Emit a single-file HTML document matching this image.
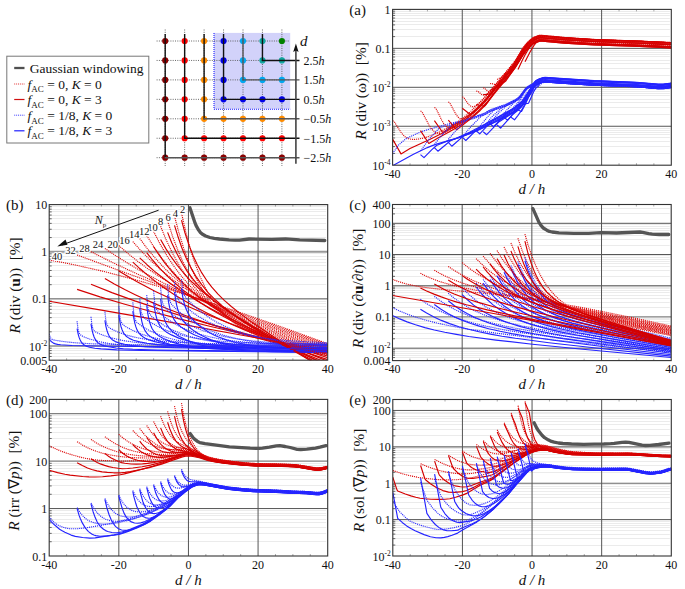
<!DOCTYPE html>
<html><head><meta charset="utf-8"><style>html,body{margin:0;padding:0;background:#fff;}svg{display:block;}text{fill:#111;}polyline{fill:none;stroke-linejoin:round;}.rd{stroke:#dd0808;stroke-width:1.15;stroke-dasharray:1.1 0.9;}.rs{stroke:#d40000;stroke-width:1.15;}.bd{stroke:#2a2aff;stroke-width:1.15;stroke-dasharray:1.1 0.9;}.bs{stroke:#2424ff;stroke-width:1.15;}.g{stroke:#555;stroke-width:3.3;stroke-linecap:round;}</style></head>
<body><svg width="685" height="589" viewBox="0 0 685 589" font-family='"Liberation Serif", serif'><line x1="392.6" y1="153.50" x2="669.8" y2="153.50" stroke="#ebebeb" stroke-width="1"/>
<line x1="392.6" y1="153.47" x2="395.1" y2="153.47" stroke="#444" stroke-width="0.8"/>
<line x1="392.6" y1="146.50" x2="669.8" y2="146.50" stroke="#ebebeb" stroke-width="1"/>
<line x1="392.6" y1="146.62" x2="395.1" y2="146.62" stroke="#444" stroke-width="0.8"/>
<line x1="392.6" y1="141.50" x2="669.8" y2="141.50" stroke="#ebebeb" stroke-width="1"/>
<line x1="392.6" y1="141.75" x2="395.1" y2="141.75" stroke="#444" stroke-width="0.8"/>
<line x1="392.6" y1="137.50" x2="669.8" y2="137.50" stroke="#ebebeb" stroke-width="1"/>
<line x1="392.6" y1="137.98" x2="395.1" y2="137.98" stroke="#444" stroke-width="0.8"/>
<line x1="392.6" y1="134.50" x2="669.8" y2="134.50" stroke="#ebebeb" stroke-width="1"/>
<line x1="392.6" y1="134.89" x2="395.1" y2="134.89" stroke="#444" stroke-width="0.8"/>
<line x1="392.6" y1="132.50" x2="669.8" y2="132.50" stroke="#ebebeb" stroke-width="1"/>
<line x1="392.6" y1="132.28" x2="395.1" y2="132.28" stroke="#444" stroke-width="0.8"/>
<line x1="392.6" y1="130.50" x2="669.8" y2="130.50" stroke="#ebebeb" stroke-width="1"/>
<line x1="392.6" y1="130.02" x2="395.1" y2="130.02" stroke="#444" stroke-width="0.8"/>
<line x1="392.6" y1="128.50" x2="669.8" y2="128.50" stroke="#ebebeb" stroke-width="1"/>
<line x1="392.6" y1="128.03" x2="395.1" y2="128.03" stroke="#444" stroke-width="0.8"/>
<line x1="392.6" y1="114.50" x2="669.8" y2="114.50" stroke="#ebebeb" stroke-width="1"/>
<line x1="392.6" y1="114.52" x2="395.1" y2="114.52" stroke="#444" stroke-width="0.8"/>
<line x1="392.6" y1="107.50" x2="669.8" y2="107.50" stroke="#ebebeb" stroke-width="1"/>
<line x1="392.6" y1="107.67" x2="395.1" y2="107.67" stroke="#444" stroke-width="0.8"/>
<line x1="392.6" y1="102.50" x2="669.8" y2="102.50" stroke="#ebebeb" stroke-width="1"/>
<line x1="392.6" y1="102.80" x2="395.1" y2="102.80" stroke="#444" stroke-width="0.8"/>
<line x1="392.6" y1="99.50" x2="669.8" y2="99.50" stroke="#ebebeb" stroke-width="1"/>
<line x1="392.6" y1="99.03" x2="395.1" y2="99.03" stroke="#444" stroke-width="0.8"/>
<line x1="392.6" y1="95.50" x2="669.8" y2="95.50" stroke="#ebebeb" stroke-width="1"/>
<line x1="392.6" y1="95.94" x2="395.1" y2="95.94" stroke="#444" stroke-width="0.8"/>
<line x1="392.6" y1="93.50" x2="669.8" y2="93.50" stroke="#ebebeb" stroke-width="1"/>
<line x1="392.6" y1="93.33" x2="395.1" y2="93.33" stroke="#444" stroke-width="0.8"/>
<line x1="392.6" y1="91.50" x2="669.8" y2="91.50" stroke="#ebebeb" stroke-width="1"/>
<line x1="392.6" y1="91.07" x2="395.1" y2="91.07" stroke="#444" stroke-width="0.8"/>
<line x1="392.6" y1="89.50" x2="669.8" y2="89.50" stroke="#ebebeb" stroke-width="1"/>
<line x1="392.6" y1="89.08" x2="395.1" y2="89.08" stroke="#444" stroke-width="0.8"/>
<line x1="392.6" y1="75.50" x2="669.8" y2="75.50" stroke="#ebebeb" stroke-width="1"/>
<line x1="392.6" y1="75.57" x2="395.1" y2="75.57" stroke="#444" stroke-width="0.8"/>
<line x1="392.6" y1="68.50" x2="669.8" y2="68.50" stroke="#ebebeb" stroke-width="1"/>
<line x1="392.6" y1="68.72" x2="395.1" y2="68.72" stroke="#444" stroke-width="0.8"/>
<line x1="392.6" y1="63.50" x2="669.8" y2="63.50" stroke="#ebebeb" stroke-width="1"/>
<line x1="392.6" y1="63.85" x2="395.1" y2="63.85" stroke="#444" stroke-width="0.8"/>
<line x1="392.6" y1="60.50" x2="669.8" y2="60.50" stroke="#ebebeb" stroke-width="1"/>
<line x1="392.6" y1="60.08" x2="395.1" y2="60.08" stroke="#444" stroke-width="0.8"/>
<line x1="392.6" y1="56.50" x2="669.8" y2="56.50" stroke="#ebebeb" stroke-width="1"/>
<line x1="392.6" y1="56.99" x2="395.1" y2="56.99" stroke="#444" stroke-width="0.8"/>
<line x1="392.6" y1="54.50" x2="669.8" y2="54.50" stroke="#ebebeb" stroke-width="1"/>
<line x1="392.6" y1="54.38" x2="395.1" y2="54.38" stroke="#444" stroke-width="0.8"/>
<line x1="392.6" y1="52.50" x2="669.8" y2="52.50" stroke="#ebebeb" stroke-width="1"/>
<line x1="392.6" y1="52.12" x2="395.1" y2="52.12" stroke="#444" stroke-width="0.8"/>
<line x1="392.6" y1="50.50" x2="669.8" y2="50.50" stroke="#ebebeb" stroke-width="1"/>
<line x1="392.6" y1="50.13" x2="395.1" y2="50.13" stroke="#444" stroke-width="0.8"/>
<line x1="392.6" y1="36.50" x2="669.8" y2="36.50" stroke="#ebebeb" stroke-width="1"/>
<line x1="392.6" y1="36.62" x2="395.1" y2="36.62" stroke="#444" stroke-width="0.8"/>
<line x1="392.6" y1="29.50" x2="669.8" y2="29.50" stroke="#ebebeb" stroke-width="1"/>
<line x1="392.6" y1="29.77" x2="395.1" y2="29.77" stroke="#444" stroke-width="0.8"/>
<line x1="392.6" y1="24.50" x2="669.8" y2="24.50" stroke="#ebebeb" stroke-width="1"/>
<line x1="392.6" y1="24.90" x2="395.1" y2="24.90" stroke="#444" stroke-width="0.8"/>
<line x1="392.6" y1="21.50" x2="669.8" y2="21.50" stroke="#ebebeb" stroke-width="1"/>
<line x1="392.6" y1="21.13" x2="395.1" y2="21.13" stroke="#444" stroke-width="0.8"/>
<line x1="392.6" y1="18.50" x2="669.8" y2="18.50" stroke="#ebebeb" stroke-width="1"/>
<line x1="392.6" y1="18.04" x2="395.1" y2="18.04" stroke="#444" stroke-width="0.8"/>
<line x1="392.6" y1="15.50" x2="669.8" y2="15.50" stroke="#ebebeb" stroke-width="1"/>
<line x1="392.6" y1="15.43" x2="395.1" y2="15.43" stroke="#444" stroke-width="0.8"/>
<line x1="392.6" y1="13.50" x2="669.8" y2="13.50" stroke="#ebebeb" stroke-width="1"/>
<line x1="392.6" y1="13.17" x2="395.1" y2="13.17" stroke="#444" stroke-width="0.8"/>
<line x1="392.6" y1="11.50" x2="669.8" y2="11.50" stroke="#ebebeb" stroke-width="1"/>
<line x1="392.6" y1="11.18" x2="395.1" y2="11.18" stroke="#444" stroke-width="0.8"/>
<line x1="392.6" y1="126.25" x2="671.3" y2="126.25" stroke="#555" stroke-width="1"/>
<line x1="392.6" y1="87.30" x2="671.3" y2="87.30" stroke="#555" stroke-width="1"/>
<line x1="392.6" y1="48.35" x2="671.3" y2="48.35" stroke="#555" stroke-width="1"/>
<line x1="462.27" y1="9.4" x2="462.27" y2="165.2" stroke="#555" stroke-width="1"/>
<line x1="531.95" y1="9.4" x2="531.95" y2="165.2" stroke="#555" stroke-width="1"/>
<line x1="601.62" y1="9.4" x2="601.62" y2="165.2" stroke="#555" stroke-width="1"/>
<line x1="410.02" y1="165.2" x2="410.02" y2="163.2" stroke="#888" stroke-width="0.7"/>
<line x1="410.02" y1="9.4" x2="410.02" y2="11.4" stroke="#888" stroke-width="0.7"/>
<line x1="427.44" y1="165.2" x2="427.44" y2="163.2" stroke="#888" stroke-width="0.7"/>
<line x1="427.44" y1="9.4" x2="427.44" y2="11.4" stroke="#888" stroke-width="0.7"/>
<line x1="444.86" y1="165.2" x2="444.86" y2="163.2" stroke="#888" stroke-width="0.7"/>
<line x1="444.86" y1="9.4" x2="444.86" y2="11.4" stroke="#888" stroke-width="0.7"/>
<line x1="479.69" y1="165.2" x2="479.69" y2="163.2" stroke="#888" stroke-width="0.7"/>
<line x1="479.69" y1="9.4" x2="479.69" y2="11.4" stroke="#888" stroke-width="0.7"/>
<line x1="497.11" y1="165.2" x2="497.11" y2="163.2" stroke="#888" stroke-width="0.7"/>
<line x1="497.11" y1="9.4" x2="497.11" y2="11.4" stroke="#888" stroke-width="0.7"/>
<line x1="514.53" y1="165.2" x2="514.53" y2="163.2" stroke="#888" stroke-width="0.7"/>
<line x1="514.53" y1="9.4" x2="514.53" y2="11.4" stroke="#888" stroke-width="0.7"/>
<line x1="549.37" y1="165.2" x2="549.37" y2="163.2" stroke="#888" stroke-width="0.7"/>
<line x1="549.37" y1="9.4" x2="549.37" y2="11.4" stroke="#888" stroke-width="0.7"/>
<line x1="566.79" y1="165.2" x2="566.79" y2="163.2" stroke="#888" stroke-width="0.7"/>
<line x1="566.79" y1="9.4" x2="566.79" y2="11.4" stroke="#888" stroke-width="0.7"/>
<line x1="584.21" y1="165.2" x2="584.21" y2="163.2" stroke="#888" stroke-width="0.7"/>
<line x1="584.21" y1="9.4" x2="584.21" y2="11.4" stroke="#888" stroke-width="0.7"/>
<line x1="619.04" y1="165.2" x2="619.04" y2="163.2" stroke="#888" stroke-width="0.7"/>
<line x1="619.04" y1="9.4" x2="619.04" y2="11.4" stroke="#888" stroke-width="0.7"/>
<line x1="636.46" y1="165.2" x2="636.46" y2="163.2" stroke="#888" stroke-width="0.7"/>
<line x1="636.46" y1="9.4" x2="636.46" y2="11.4" stroke="#888" stroke-width="0.7"/>
<line x1="653.88" y1="165.2" x2="653.88" y2="163.2" stroke="#888" stroke-width="0.7"/>
<line x1="653.88" y1="9.4" x2="653.88" y2="11.4" stroke="#888" stroke-width="0.7"/>
<line x1="49.2" y1="356.50" x2="326.2" y2="356.50" stroke="#ebebeb" stroke-width="1"/>
<line x1="49.2" y1="356.47" x2="51.7" y2="356.47" stroke="#444" stroke-width="0.8"/>
<line x1="49.2" y1="353.50" x2="326.2" y2="353.50" stroke="#ebebeb" stroke-width="1"/>
<line x1="49.2" y1="353.31" x2="51.7" y2="353.31" stroke="#444" stroke-width="0.8"/>
<line x1="49.2" y1="350.50" x2="326.2" y2="350.50" stroke="#ebebeb" stroke-width="1"/>
<line x1="49.2" y1="350.58" x2="51.7" y2="350.58" stroke="#444" stroke-width="0.8"/>
<line x1="49.2" y1="348.50" x2="326.2" y2="348.50" stroke="#ebebeb" stroke-width="1"/>
<line x1="49.2" y1="348.17" x2="51.7" y2="348.17" stroke="#444" stroke-width="0.8"/>
<line x1="49.2" y1="331.50" x2="326.2" y2="331.50" stroke="#ebebeb" stroke-width="1"/>
<line x1="49.2" y1="331.82" x2="51.7" y2="331.82" stroke="#444" stroke-width="0.8"/>
<line x1="49.2" y1="323.50" x2="326.2" y2="323.50" stroke="#ebebeb" stroke-width="1"/>
<line x1="49.2" y1="323.52" x2="51.7" y2="323.52" stroke="#444" stroke-width="0.8"/>
<line x1="49.2" y1="317.50" x2="326.2" y2="317.50" stroke="#ebebeb" stroke-width="1"/>
<line x1="49.2" y1="317.63" x2="51.7" y2="317.63" stroke="#444" stroke-width="0.8"/>
<line x1="49.2" y1="313.50" x2="326.2" y2="313.50" stroke="#ebebeb" stroke-width="1"/>
<line x1="49.2" y1="313.06" x2="51.7" y2="313.06" stroke="#444" stroke-width="0.8"/>
<line x1="49.2" y1="309.50" x2="326.2" y2="309.50" stroke="#ebebeb" stroke-width="1"/>
<line x1="49.2" y1="309.33" x2="51.7" y2="309.33" stroke="#444" stroke-width="0.8"/>
<line x1="49.2" y1="306.50" x2="326.2" y2="306.50" stroke="#ebebeb" stroke-width="1"/>
<line x1="49.2" y1="306.18" x2="51.7" y2="306.18" stroke="#444" stroke-width="0.8"/>
<line x1="49.2" y1="303.50" x2="326.2" y2="303.50" stroke="#ebebeb" stroke-width="1"/>
<line x1="49.2" y1="303.44" x2="51.7" y2="303.44" stroke="#444" stroke-width="0.8"/>
<line x1="49.2" y1="301.50" x2="326.2" y2="301.50" stroke="#ebebeb" stroke-width="1"/>
<line x1="49.2" y1="301.03" x2="51.7" y2="301.03" stroke="#444" stroke-width="0.8"/>
<line x1="49.2" y1="284.50" x2="326.2" y2="284.50" stroke="#ebebeb" stroke-width="1"/>
<line x1="49.2" y1="284.68" x2="51.7" y2="284.68" stroke="#444" stroke-width="0.8"/>
<line x1="49.2" y1="276.50" x2="326.2" y2="276.50" stroke="#ebebeb" stroke-width="1"/>
<line x1="49.2" y1="276.38" x2="51.7" y2="276.38" stroke="#444" stroke-width="0.8"/>
<line x1="49.2" y1="270.50" x2="326.2" y2="270.50" stroke="#ebebeb" stroke-width="1"/>
<line x1="49.2" y1="270.49" x2="51.7" y2="270.49" stroke="#444" stroke-width="0.8"/>
<line x1="49.2" y1="265.50" x2="326.2" y2="265.50" stroke="#ebebeb" stroke-width="1"/>
<line x1="49.2" y1="265.93" x2="51.7" y2="265.93" stroke="#444" stroke-width="0.8"/>
<line x1="49.2" y1="262.50" x2="326.2" y2="262.50" stroke="#ebebeb" stroke-width="1"/>
<line x1="49.2" y1="262.19" x2="51.7" y2="262.19" stroke="#444" stroke-width="0.8"/>
<line x1="49.2" y1="259.50" x2="326.2" y2="259.50" stroke="#ebebeb" stroke-width="1"/>
<line x1="49.2" y1="259.04" x2="51.7" y2="259.04" stroke="#444" stroke-width="0.8"/>
<line x1="49.2" y1="256.50" x2="326.2" y2="256.50" stroke="#ebebeb" stroke-width="1"/>
<line x1="49.2" y1="256.30" x2="51.7" y2="256.30" stroke="#444" stroke-width="0.8"/>
<line x1="49.2" y1="253.50" x2="326.2" y2="253.50" stroke="#ebebeb" stroke-width="1"/>
<line x1="49.2" y1="253.89" x2="51.7" y2="253.89" stroke="#444" stroke-width="0.8"/>
<line x1="49.2" y1="237.50" x2="326.2" y2="237.50" stroke="#ebebeb" stroke-width="1"/>
<line x1="49.2" y1="237.55" x2="51.7" y2="237.55" stroke="#444" stroke-width="0.8"/>
<line x1="49.2" y1="229.50" x2="326.2" y2="229.50" stroke="#ebebeb" stroke-width="1"/>
<line x1="49.2" y1="229.25" x2="51.7" y2="229.25" stroke="#444" stroke-width="0.8"/>
<line x1="49.2" y1="223.50" x2="326.2" y2="223.50" stroke="#ebebeb" stroke-width="1"/>
<line x1="49.2" y1="223.36" x2="51.7" y2="223.36" stroke="#444" stroke-width="0.8"/>
<line x1="49.2" y1="218.50" x2="326.2" y2="218.50" stroke="#ebebeb" stroke-width="1"/>
<line x1="49.2" y1="218.79" x2="51.7" y2="218.79" stroke="#444" stroke-width="0.8"/>
<line x1="49.2" y1="215.50" x2="326.2" y2="215.50" stroke="#ebebeb" stroke-width="1"/>
<line x1="49.2" y1="215.06" x2="51.7" y2="215.06" stroke="#444" stroke-width="0.8"/>
<line x1="49.2" y1="211.50" x2="326.2" y2="211.50" stroke="#ebebeb" stroke-width="1"/>
<line x1="49.2" y1="211.90" x2="51.7" y2="211.90" stroke="#444" stroke-width="0.8"/>
<line x1="49.2" y1="209.50" x2="326.2" y2="209.50" stroke="#ebebeb" stroke-width="1"/>
<line x1="49.2" y1="209.17" x2="51.7" y2="209.17" stroke="#444" stroke-width="0.8"/>
<line x1="49.2" y1="206.50" x2="326.2" y2="206.50" stroke="#ebebeb" stroke-width="1"/>
<line x1="49.2" y1="206.76" x2="51.7" y2="206.76" stroke="#444" stroke-width="0.8"/>
<line x1="49.2" y1="346.01" x2="327.7" y2="346.01" stroke="#555" stroke-width="1"/>
<line x1="49.2" y1="298.87" x2="327.7" y2="298.87" stroke="#555" stroke-width="1"/>
<line x1="49.2" y1="251.74" x2="327.7" y2="251.74" stroke="#9a9a9a" stroke-width="1.8"/>
<line x1="118.83" y1="204.6" x2="118.83" y2="360.2" stroke="#555" stroke-width="1"/>
<line x1="188.45" y1="204.6" x2="188.45" y2="360.2" stroke="#555" stroke-width="1"/>
<line x1="258.07" y1="204.6" x2="258.07" y2="360.2" stroke="#555" stroke-width="1"/>
<line x1="66.61" y1="360.2" x2="66.61" y2="358.2" stroke="#888" stroke-width="0.7"/>
<line x1="66.61" y1="204.6" x2="66.61" y2="206.6" stroke="#888" stroke-width="0.7"/>
<line x1="84.01" y1="360.2" x2="84.01" y2="358.2" stroke="#888" stroke-width="0.7"/>
<line x1="84.01" y1="204.6" x2="84.01" y2="206.6" stroke="#888" stroke-width="0.7"/>
<line x1="101.42" y1="360.2" x2="101.42" y2="358.2" stroke="#888" stroke-width="0.7"/>
<line x1="101.42" y1="204.6" x2="101.42" y2="206.6" stroke="#888" stroke-width="0.7"/>
<line x1="136.23" y1="360.2" x2="136.23" y2="358.2" stroke="#888" stroke-width="0.7"/>
<line x1="136.23" y1="204.6" x2="136.23" y2="206.6" stroke="#888" stroke-width="0.7"/>
<line x1="153.64" y1="360.2" x2="153.64" y2="358.2" stroke="#888" stroke-width="0.7"/>
<line x1="153.64" y1="204.6" x2="153.64" y2="206.6" stroke="#888" stroke-width="0.7"/>
<line x1="171.04" y1="360.2" x2="171.04" y2="358.2" stroke="#888" stroke-width="0.7"/>
<line x1="171.04" y1="204.6" x2="171.04" y2="206.6" stroke="#888" stroke-width="0.7"/>
<line x1="205.86" y1="360.2" x2="205.86" y2="358.2" stroke="#888" stroke-width="0.7"/>
<line x1="205.86" y1="204.6" x2="205.86" y2="206.6" stroke="#888" stroke-width="0.7"/>
<line x1="223.26" y1="360.2" x2="223.26" y2="358.2" stroke="#888" stroke-width="0.7"/>
<line x1="223.26" y1="204.6" x2="223.26" y2="206.6" stroke="#888" stroke-width="0.7"/>
<line x1="240.67" y1="360.2" x2="240.67" y2="358.2" stroke="#888" stroke-width="0.7"/>
<line x1="240.67" y1="204.6" x2="240.67" y2="206.6" stroke="#888" stroke-width="0.7"/>
<line x1="275.48" y1="360.2" x2="275.48" y2="358.2" stroke="#888" stroke-width="0.7"/>
<line x1="275.48" y1="204.6" x2="275.48" y2="206.6" stroke="#888" stroke-width="0.7"/>
<line x1="292.89" y1="360.2" x2="292.89" y2="358.2" stroke="#888" stroke-width="0.7"/>
<line x1="292.89" y1="204.6" x2="292.89" y2="206.6" stroke="#888" stroke-width="0.7"/>
<line x1="310.29" y1="360.2" x2="310.29" y2="358.2" stroke="#888" stroke-width="0.7"/>
<line x1="310.29" y1="204.6" x2="310.29" y2="206.6" stroke="#888" stroke-width="0.7"/>
<line x1="392.5" y1="357.50" x2="669.7" y2="357.50" stroke="#ebebeb" stroke-width="1"/>
<line x1="392.5" y1="357.57" x2="395.0" y2="357.57" stroke="#444" stroke-width="0.8"/>
<line x1="392.5" y1="355.50" x2="669.7" y2="355.50" stroke="#ebebeb" stroke-width="1"/>
<line x1="392.5" y1="355.10" x2="395.0" y2="355.10" stroke="#444" stroke-width="0.8"/>
<line x1="392.5" y1="353.50" x2="669.7" y2="353.50" stroke="#ebebeb" stroke-width="1"/>
<line x1="392.5" y1="353.01" x2="395.0" y2="353.01" stroke="#444" stroke-width="0.8"/>
<line x1="392.5" y1="351.50" x2="669.7" y2="351.50" stroke="#ebebeb" stroke-width="1"/>
<line x1="392.5" y1="351.20" x2="395.0" y2="351.20" stroke="#444" stroke-width="0.8"/>
<line x1="392.5" y1="349.50" x2="669.7" y2="349.50" stroke="#ebebeb" stroke-width="1"/>
<line x1="392.5" y1="349.60" x2="395.0" y2="349.60" stroke="#444" stroke-width="0.8"/>
<line x1="392.5" y1="338.50" x2="669.7" y2="338.50" stroke="#ebebeb" stroke-width="1"/>
<line x1="392.5" y1="338.78" x2="395.0" y2="338.78" stroke="#444" stroke-width="0.8"/>
<line x1="392.5" y1="333.50" x2="669.7" y2="333.50" stroke="#ebebeb" stroke-width="1"/>
<line x1="392.5" y1="333.28" x2="395.0" y2="333.28" stroke="#444" stroke-width="0.8"/>
<line x1="392.5" y1="329.50" x2="669.7" y2="329.50" stroke="#ebebeb" stroke-width="1"/>
<line x1="392.5" y1="329.38" x2="395.0" y2="329.38" stroke="#444" stroke-width="0.8"/>
<line x1="392.5" y1="326.50" x2="669.7" y2="326.50" stroke="#ebebeb" stroke-width="1"/>
<line x1="392.5" y1="326.35" x2="395.0" y2="326.35" stroke="#444" stroke-width="0.8"/>
<line x1="392.5" y1="323.50" x2="669.7" y2="323.50" stroke="#ebebeb" stroke-width="1"/>
<line x1="392.5" y1="323.88" x2="395.0" y2="323.88" stroke="#444" stroke-width="0.8"/>
<line x1="392.5" y1="321.50" x2="669.7" y2="321.50" stroke="#ebebeb" stroke-width="1"/>
<line x1="392.5" y1="321.79" x2="395.0" y2="321.79" stroke="#444" stroke-width="0.8"/>
<line x1="392.5" y1="319.50" x2="669.7" y2="319.50" stroke="#ebebeb" stroke-width="1"/>
<line x1="392.5" y1="319.98" x2="395.0" y2="319.98" stroke="#444" stroke-width="0.8"/>
<line x1="392.5" y1="318.50" x2="669.7" y2="318.50" stroke="#ebebeb" stroke-width="1"/>
<line x1="392.5" y1="318.38" x2="395.0" y2="318.38" stroke="#444" stroke-width="0.8"/>
<line x1="392.5" y1="307.50" x2="669.7" y2="307.50" stroke="#ebebeb" stroke-width="1"/>
<line x1="392.5" y1="307.56" x2="395.0" y2="307.56" stroke="#444" stroke-width="0.8"/>
<line x1="392.5" y1="302.50" x2="669.7" y2="302.50" stroke="#ebebeb" stroke-width="1"/>
<line x1="392.5" y1="302.06" x2="395.0" y2="302.06" stroke="#444" stroke-width="0.8"/>
<line x1="392.5" y1="298.50" x2="669.7" y2="298.50" stroke="#ebebeb" stroke-width="1"/>
<line x1="392.5" y1="298.16" x2="395.0" y2="298.16" stroke="#444" stroke-width="0.8"/>
<line x1="392.5" y1="295.50" x2="669.7" y2="295.50" stroke="#ebebeb" stroke-width="1"/>
<line x1="392.5" y1="295.13" x2="395.0" y2="295.13" stroke="#444" stroke-width="0.8"/>
<line x1="392.5" y1="292.50" x2="669.7" y2="292.50" stroke="#ebebeb" stroke-width="1"/>
<line x1="392.5" y1="292.66" x2="395.0" y2="292.66" stroke="#444" stroke-width="0.8"/>
<line x1="392.5" y1="290.50" x2="669.7" y2="290.50" stroke="#ebebeb" stroke-width="1"/>
<line x1="392.5" y1="290.57" x2="395.0" y2="290.57" stroke="#444" stroke-width="0.8"/>
<line x1="392.5" y1="288.50" x2="669.7" y2="288.50" stroke="#ebebeb" stroke-width="1"/>
<line x1="392.5" y1="288.76" x2="395.0" y2="288.76" stroke="#444" stroke-width="0.8"/>
<line x1="392.5" y1="287.50" x2="669.7" y2="287.50" stroke="#ebebeb" stroke-width="1"/>
<line x1="392.5" y1="287.16" x2="395.0" y2="287.16" stroke="#444" stroke-width="0.8"/>
<line x1="392.5" y1="276.50" x2="669.7" y2="276.50" stroke="#ebebeb" stroke-width="1"/>
<line x1="392.5" y1="276.34" x2="395.0" y2="276.34" stroke="#444" stroke-width="0.8"/>
<line x1="392.5" y1="270.50" x2="669.7" y2="270.50" stroke="#ebebeb" stroke-width="1"/>
<line x1="392.5" y1="270.84" x2="395.0" y2="270.84" stroke="#444" stroke-width="0.8"/>
<line x1="392.5" y1="266.50" x2="669.7" y2="266.50" stroke="#ebebeb" stroke-width="1"/>
<line x1="392.5" y1="266.94" x2="395.0" y2="266.94" stroke="#444" stroke-width="0.8"/>
<line x1="392.5" y1="263.50" x2="669.7" y2="263.50" stroke="#ebebeb" stroke-width="1"/>
<line x1="392.5" y1="263.91" x2="395.0" y2="263.91" stroke="#444" stroke-width="0.8"/>
<line x1="392.5" y1="261.50" x2="669.7" y2="261.50" stroke="#ebebeb" stroke-width="1"/>
<line x1="392.5" y1="261.44" x2="395.0" y2="261.44" stroke="#444" stroke-width="0.8"/>
<line x1="392.5" y1="259.50" x2="669.7" y2="259.50" stroke="#ebebeb" stroke-width="1"/>
<line x1="392.5" y1="259.35" x2="395.0" y2="259.35" stroke="#444" stroke-width="0.8"/>
<line x1="392.5" y1="257.50" x2="669.7" y2="257.50" stroke="#ebebeb" stroke-width="1"/>
<line x1="392.5" y1="257.54" x2="395.0" y2="257.54" stroke="#444" stroke-width="0.8"/>
<line x1="392.5" y1="255.50" x2="669.7" y2="255.50" stroke="#ebebeb" stroke-width="1"/>
<line x1="392.5" y1="255.94" x2="395.0" y2="255.94" stroke="#444" stroke-width="0.8"/>
<line x1="392.5" y1="245.50" x2="669.7" y2="245.50" stroke="#ebebeb" stroke-width="1"/>
<line x1="392.5" y1="245.12" x2="395.0" y2="245.12" stroke="#444" stroke-width="0.8"/>
<line x1="392.5" y1="239.50" x2="669.7" y2="239.50" stroke="#ebebeb" stroke-width="1"/>
<line x1="392.5" y1="239.62" x2="395.0" y2="239.62" stroke="#444" stroke-width="0.8"/>
<line x1="392.5" y1="235.50" x2="669.7" y2="235.50" stroke="#ebebeb" stroke-width="1"/>
<line x1="392.5" y1="235.72" x2="395.0" y2="235.72" stroke="#444" stroke-width="0.8"/>
<line x1="392.5" y1="232.50" x2="669.7" y2="232.50" stroke="#ebebeb" stroke-width="1"/>
<line x1="392.5" y1="232.69" x2="395.0" y2="232.69" stroke="#444" stroke-width="0.8"/>
<line x1="392.5" y1="230.50" x2="669.7" y2="230.50" stroke="#ebebeb" stroke-width="1"/>
<line x1="392.5" y1="230.22" x2="395.0" y2="230.22" stroke="#444" stroke-width="0.8"/>
<line x1="392.5" y1="228.50" x2="669.7" y2="228.50" stroke="#ebebeb" stroke-width="1"/>
<line x1="392.5" y1="228.13" x2="395.0" y2="228.13" stroke="#444" stroke-width="0.8"/>
<line x1="392.5" y1="226.50" x2="669.7" y2="226.50" stroke="#ebebeb" stroke-width="1"/>
<line x1="392.5" y1="226.32" x2="395.0" y2="226.32" stroke="#444" stroke-width="0.8"/>
<line x1="392.5" y1="224.50" x2="669.7" y2="224.50" stroke="#ebebeb" stroke-width="1"/>
<line x1="392.5" y1="224.72" x2="395.0" y2="224.72" stroke="#444" stroke-width="0.8"/>
<line x1="392.5" y1="213.50" x2="669.7" y2="213.50" stroke="#ebebeb" stroke-width="1"/>
<line x1="392.5" y1="213.90" x2="395.0" y2="213.90" stroke="#444" stroke-width="0.8"/>
<line x1="392.5" y1="208.50" x2="669.7" y2="208.50" stroke="#ebebeb" stroke-width="1"/>
<line x1="392.5" y1="208.40" x2="395.0" y2="208.40" stroke="#444" stroke-width="0.8"/>
<line x1="392.5" y1="348.18" x2="671.2" y2="348.18" stroke="#555" stroke-width="1"/>
<line x1="392.5" y1="316.96" x2="671.2" y2="316.96" stroke="#808080" stroke-width="1.3"/>
<line x1="392.5" y1="285.74" x2="671.2" y2="285.74" stroke="#808080" stroke-width="1.3"/>
<line x1="392.5" y1="254.52" x2="671.2" y2="254.52" stroke="#555" stroke-width="1"/>
<line x1="392.5" y1="223.30" x2="671.2" y2="223.30" stroke="#555" stroke-width="1"/>
<line x1="462.18" y1="204.5" x2="462.18" y2="360.6" stroke="#555" stroke-width="1"/>
<line x1="531.85" y1="204.5" x2="531.85" y2="360.6" stroke="#555" stroke-width="1"/>
<line x1="601.53" y1="204.5" x2="601.53" y2="360.6" stroke="#555" stroke-width="1"/>
<line x1="409.92" y1="360.6" x2="409.92" y2="358.6" stroke="#888" stroke-width="0.7"/>
<line x1="409.92" y1="204.5" x2="409.92" y2="206.5" stroke="#888" stroke-width="0.7"/>
<line x1="427.34" y1="360.6" x2="427.34" y2="358.6" stroke="#888" stroke-width="0.7"/>
<line x1="427.34" y1="204.5" x2="427.34" y2="206.5" stroke="#888" stroke-width="0.7"/>
<line x1="444.76" y1="360.6" x2="444.76" y2="358.6" stroke="#888" stroke-width="0.7"/>
<line x1="444.76" y1="204.5" x2="444.76" y2="206.5" stroke="#888" stroke-width="0.7"/>
<line x1="479.59" y1="360.6" x2="479.59" y2="358.6" stroke="#888" stroke-width="0.7"/>
<line x1="479.59" y1="204.5" x2="479.59" y2="206.5" stroke="#888" stroke-width="0.7"/>
<line x1="497.01" y1="360.6" x2="497.01" y2="358.6" stroke="#888" stroke-width="0.7"/>
<line x1="497.01" y1="204.5" x2="497.01" y2="206.5" stroke="#888" stroke-width="0.7"/>
<line x1="514.43" y1="360.6" x2="514.43" y2="358.6" stroke="#888" stroke-width="0.7"/>
<line x1="514.43" y1="204.5" x2="514.43" y2="206.5" stroke="#888" stroke-width="0.7"/>
<line x1="549.27" y1="360.6" x2="549.27" y2="358.6" stroke="#888" stroke-width="0.7"/>
<line x1="549.27" y1="204.5" x2="549.27" y2="206.5" stroke="#888" stroke-width="0.7"/>
<line x1="566.69" y1="360.6" x2="566.69" y2="358.6" stroke="#888" stroke-width="0.7"/>
<line x1="566.69" y1="204.5" x2="566.69" y2="206.5" stroke="#888" stroke-width="0.7"/>
<line x1="584.11" y1="360.6" x2="584.11" y2="358.6" stroke="#888" stroke-width="0.7"/>
<line x1="584.11" y1="204.5" x2="584.11" y2="206.5" stroke="#888" stroke-width="0.7"/>
<line x1="618.94" y1="360.6" x2="618.94" y2="358.6" stroke="#888" stroke-width="0.7"/>
<line x1="618.94" y1="204.5" x2="618.94" y2="206.5" stroke="#888" stroke-width="0.7"/>
<line x1="636.36" y1="360.6" x2="636.36" y2="358.6" stroke="#888" stroke-width="0.7"/>
<line x1="636.36" y1="204.5" x2="636.36" y2="206.5" stroke="#888" stroke-width="0.7"/>
<line x1="653.78" y1="360.6" x2="653.78" y2="358.6" stroke="#888" stroke-width="0.7"/>
<line x1="653.78" y1="204.5" x2="653.78" y2="206.5" stroke="#888" stroke-width="0.7"/>
<line x1="49.2" y1="541.50" x2="326.2" y2="541.50" stroke="#ebebeb" stroke-width="1"/>
<line x1="49.2" y1="541.72" x2="51.7" y2="541.72" stroke="#444" stroke-width="0.8"/>
<line x1="49.2" y1="533.50" x2="326.2" y2="533.50" stroke="#ebebeb" stroke-width="1"/>
<line x1="49.2" y1="533.37" x2="51.7" y2="533.37" stroke="#444" stroke-width="0.8"/>
<line x1="49.2" y1="527.50" x2="326.2" y2="527.50" stroke="#ebebeb" stroke-width="1"/>
<line x1="49.2" y1="527.44" x2="51.7" y2="527.44" stroke="#444" stroke-width="0.8"/>
<line x1="49.2" y1="522.50" x2="326.2" y2="522.50" stroke="#ebebeb" stroke-width="1"/>
<line x1="49.2" y1="522.84" x2="51.7" y2="522.84" stroke="#444" stroke-width="0.8"/>
<line x1="49.2" y1="519.50" x2="326.2" y2="519.50" stroke="#ebebeb" stroke-width="1"/>
<line x1="49.2" y1="519.08" x2="51.7" y2="519.08" stroke="#444" stroke-width="0.8"/>
<line x1="49.2" y1="515.50" x2="326.2" y2="515.50" stroke="#ebebeb" stroke-width="1"/>
<line x1="49.2" y1="515.91" x2="51.7" y2="515.91" stroke="#444" stroke-width="0.8"/>
<line x1="49.2" y1="513.50" x2="326.2" y2="513.50" stroke="#ebebeb" stroke-width="1"/>
<line x1="49.2" y1="513.16" x2="51.7" y2="513.16" stroke="#444" stroke-width="0.8"/>
<line x1="49.2" y1="510.50" x2="326.2" y2="510.50" stroke="#ebebeb" stroke-width="1"/>
<line x1="49.2" y1="510.73" x2="51.7" y2="510.73" stroke="#444" stroke-width="0.8"/>
<line x1="49.2" y1="494.50" x2="326.2" y2="494.50" stroke="#ebebeb" stroke-width="1"/>
<line x1="49.2" y1="494.28" x2="51.7" y2="494.28" stroke="#444" stroke-width="0.8"/>
<line x1="49.2" y1="485.50" x2="326.2" y2="485.50" stroke="#ebebeb" stroke-width="1"/>
<line x1="49.2" y1="485.93" x2="51.7" y2="485.93" stroke="#444" stroke-width="0.8"/>
<line x1="49.2" y1="479.50" x2="326.2" y2="479.50" stroke="#ebebeb" stroke-width="1"/>
<line x1="49.2" y1="480.00" x2="51.7" y2="480.00" stroke="#444" stroke-width="0.8"/>
<line x1="49.2" y1="475.50" x2="326.2" y2="475.50" stroke="#ebebeb" stroke-width="1"/>
<line x1="49.2" y1="475.40" x2="51.7" y2="475.40" stroke="#444" stroke-width="0.8"/>
<line x1="49.2" y1="471.50" x2="326.2" y2="471.50" stroke="#ebebeb" stroke-width="1"/>
<line x1="49.2" y1="471.64" x2="51.7" y2="471.64" stroke="#444" stroke-width="0.8"/>
<line x1="49.2" y1="468.50" x2="326.2" y2="468.50" stroke="#ebebeb" stroke-width="1"/>
<line x1="49.2" y1="468.47" x2="51.7" y2="468.47" stroke="#444" stroke-width="0.8"/>
<line x1="49.2" y1="465.50" x2="326.2" y2="465.50" stroke="#ebebeb" stroke-width="1"/>
<line x1="49.2" y1="465.72" x2="51.7" y2="465.72" stroke="#444" stroke-width="0.8"/>
<line x1="49.2" y1="463.50" x2="326.2" y2="463.50" stroke="#ebebeb" stroke-width="1"/>
<line x1="49.2" y1="463.29" x2="51.7" y2="463.29" stroke="#444" stroke-width="0.8"/>
<line x1="49.2" y1="446.50" x2="326.2" y2="446.50" stroke="#ebebeb" stroke-width="1"/>
<line x1="49.2" y1="446.84" x2="51.7" y2="446.84" stroke="#444" stroke-width="0.8"/>
<line x1="49.2" y1="438.50" x2="326.2" y2="438.50" stroke="#ebebeb" stroke-width="1"/>
<line x1="49.2" y1="438.49" x2="51.7" y2="438.49" stroke="#444" stroke-width="0.8"/>
<line x1="49.2" y1="432.50" x2="326.2" y2="432.50" stroke="#ebebeb" stroke-width="1"/>
<line x1="49.2" y1="432.56" x2="51.7" y2="432.56" stroke="#444" stroke-width="0.8"/>
<line x1="49.2" y1="427.50" x2="326.2" y2="427.50" stroke="#ebebeb" stroke-width="1"/>
<line x1="49.2" y1="427.96" x2="51.7" y2="427.96" stroke="#444" stroke-width="0.8"/>
<line x1="49.2" y1="424.50" x2="326.2" y2="424.50" stroke="#ebebeb" stroke-width="1"/>
<line x1="49.2" y1="424.21" x2="51.7" y2="424.21" stroke="#444" stroke-width="0.8"/>
<line x1="49.2" y1="421.50" x2="326.2" y2="421.50" stroke="#ebebeb" stroke-width="1"/>
<line x1="49.2" y1="421.03" x2="51.7" y2="421.03" stroke="#444" stroke-width="0.8"/>
<line x1="49.2" y1="418.50" x2="326.2" y2="418.50" stroke="#ebebeb" stroke-width="1"/>
<line x1="49.2" y1="418.28" x2="51.7" y2="418.28" stroke="#444" stroke-width="0.8"/>
<line x1="49.2" y1="415.50" x2="326.2" y2="415.50" stroke="#ebebeb" stroke-width="1"/>
<line x1="49.2" y1="415.85" x2="51.7" y2="415.85" stroke="#444" stroke-width="0.8"/>
<line x1="49.2" y1="508.56" x2="327.7" y2="508.56" stroke="#555" stroke-width="1"/>
<line x1="49.2" y1="461.12" x2="327.7" y2="461.12" stroke="#808080" stroke-width="1.2"/>
<line x1="49.2" y1="413.68" x2="327.7" y2="413.68" stroke="#808080" stroke-width="1.2"/>
<line x1="118.83" y1="399.4" x2="118.83" y2="556.0" stroke="#555" stroke-width="1"/>
<line x1="188.45" y1="399.4" x2="188.45" y2="556.0" stroke="#555" stroke-width="1"/>
<line x1="258.07" y1="399.4" x2="258.07" y2="556.0" stroke="#555" stroke-width="1"/>
<line x1="66.61" y1="556.0" x2="66.61" y2="554.0" stroke="#888" stroke-width="0.7"/>
<line x1="66.61" y1="399.4" x2="66.61" y2="401.4" stroke="#888" stroke-width="0.7"/>
<line x1="84.01" y1="556.0" x2="84.01" y2="554.0" stroke="#888" stroke-width="0.7"/>
<line x1="84.01" y1="399.4" x2="84.01" y2="401.4" stroke="#888" stroke-width="0.7"/>
<line x1="101.42" y1="556.0" x2="101.42" y2="554.0" stroke="#888" stroke-width="0.7"/>
<line x1="101.42" y1="399.4" x2="101.42" y2="401.4" stroke="#888" stroke-width="0.7"/>
<line x1="136.23" y1="556.0" x2="136.23" y2="554.0" stroke="#888" stroke-width="0.7"/>
<line x1="136.23" y1="399.4" x2="136.23" y2="401.4" stroke="#888" stroke-width="0.7"/>
<line x1="153.64" y1="556.0" x2="153.64" y2="554.0" stroke="#888" stroke-width="0.7"/>
<line x1="153.64" y1="399.4" x2="153.64" y2="401.4" stroke="#888" stroke-width="0.7"/>
<line x1="171.04" y1="556.0" x2="171.04" y2="554.0" stroke="#888" stroke-width="0.7"/>
<line x1="171.04" y1="399.4" x2="171.04" y2="401.4" stroke="#888" stroke-width="0.7"/>
<line x1="205.86" y1="556.0" x2="205.86" y2="554.0" stroke="#888" stroke-width="0.7"/>
<line x1="205.86" y1="399.4" x2="205.86" y2="401.4" stroke="#888" stroke-width="0.7"/>
<line x1="223.26" y1="556.0" x2="223.26" y2="554.0" stroke="#888" stroke-width="0.7"/>
<line x1="223.26" y1="399.4" x2="223.26" y2="401.4" stroke="#888" stroke-width="0.7"/>
<line x1="240.67" y1="556.0" x2="240.67" y2="554.0" stroke="#888" stroke-width="0.7"/>
<line x1="240.67" y1="399.4" x2="240.67" y2="401.4" stroke="#888" stroke-width="0.7"/>
<line x1="275.48" y1="556.0" x2="275.48" y2="554.0" stroke="#888" stroke-width="0.7"/>
<line x1="275.48" y1="399.4" x2="275.48" y2="401.4" stroke="#888" stroke-width="0.7"/>
<line x1="292.89" y1="556.0" x2="292.89" y2="554.0" stroke="#888" stroke-width="0.7"/>
<line x1="292.89" y1="399.4" x2="292.89" y2="401.4" stroke="#888" stroke-width="0.7"/>
<line x1="310.29" y1="556.0" x2="310.29" y2="554.0" stroke="#888" stroke-width="0.7"/>
<line x1="310.29" y1="399.4" x2="310.29" y2="401.4" stroke="#888" stroke-width="0.7"/>
<line x1="392.8" y1="545.50" x2="669.8" y2="545.50" stroke="#ebebeb" stroke-width="1"/>
<line x1="392.8" y1="545.05" x2="395.3" y2="545.05" stroke="#444" stroke-width="0.8"/>
<line x1="392.8" y1="538.50" x2="669.8" y2="538.50" stroke="#ebebeb" stroke-width="1"/>
<line x1="392.8" y1="538.64" x2="395.3" y2="538.64" stroke="#444" stroke-width="0.8"/>
<line x1="392.8" y1="534.50" x2="669.8" y2="534.50" stroke="#ebebeb" stroke-width="1"/>
<line x1="392.8" y1="534.09" x2="395.3" y2="534.09" stroke="#444" stroke-width="0.8"/>
<line x1="392.8" y1="530.50" x2="669.8" y2="530.50" stroke="#ebebeb" stroke-width="1"/>
<line x1="392.8" y1="530.57" x2="395.3" y2="530.57" stroke="#444" stroke-width="0.8"/>
<line x1="392.8" y1="527.50" x2="669.8" y2="527.50" stroke="#ebebeb" stroke-width="1"/>
<line x1="392.8" y1="527.69" x2="395.3" y2="527.69" stroke="#444" stroke-width="0.8"/>
<line x1="392.8" y1="525.50" x2="669.8" y2="525.50" stroke="#ebebeb" stroke-width="1"/>
<line x1="392.8" y1="525.25" x2="395.3" y2="525.25" stroke="#444" stroke-width="0.8"/>
<line x1="392.8" y1="523.50" x2="669.8" y2="523.50" stroke="#ebebeb" stroke-width="1"/>
<line x1="392.8" y1="523.14" x2="395.3" y2="523.14" stroke="#444" stroke-width="0.8"/>
<line x1="392.8" y1="521.50" x2="669.8" y2="521.50" stroke="#ebebeb" stroke-width="1"/>
<line x1="392.8" y1="521.28" x2="395.3" y2="521.28" stroke="#444" stroke-width="0.8"/>
<line x1="392.8" y1="508.50" x2="669.8" y2="508.50" stroke="#ebebeb" stroke-width="1"/>
<line x1="392.8" y1="508.66" x2="395.3" y2="508.66" stroke="#444" stroke-width="0.8"/>
<line x1="392.8" y1="502.50" x2="669.8" y2="502.50" stroke="#ebebeb" stroke-width="1"/>
<line x1="392.8" y1="502.25" x2="395.3" y2="502.25" stroke="#444" stroke-width="0.8"/>
<line x1="392.8" y1="497.50" x2="669.8" y2="497.50" stroke="#ebebeb" stroke-width="1"/>
<line x1="392.8" y1="497.71" x2="395.3" y2="497.71" stroke="#444" stroke-width="0.8"/>
<line x1="392.8" y1="494.50" x2="669.8" y2="494.50" stroke="#ebebeb" stroke-width="1"/>
<line x1="392.8" y1="494.18" x2="395.3" y2="494.18" stroke="#444" stroke-width="0.8"/>
<line x1="392.8" y1="491.50" x2="669.8" y2="491.50" stroke="#ebebeb" stroke-width="1"/>
<line x1="392.8" y1="491.30" x2="395.3" y2="491.30" stroke="#444" stroke-width="0.8"/>
<line x1="392.8" y1="488.50" x2="669.8" y2="488.50" stroke="#ebebeb" stroke-width="1"/>
<line x1="392.8" y1="488.86" x2="395.3" y2="488.86" stroke="#444" stroke-width="0.8"/>
<line x1="392.8" y1="486.50" x2="669.8" y2="486.50" stroke="#ebebeb" stroke-width="1"/>
<line x1="392.8" y1="486.75" x2="395.3" y2="486.75" stroke="#444" stroke-width="0.8"/>
<line x1="392.8" y1="484.50" x2="669.8" y2="484.50" stroke="#ebebeb" stroke-width="1"/>
<line x1="392.8" y1="484.89" x2="395.3" y2="484.89" stroke="#444" stroke-width="0.8"/>
<line x1="392.8" y1="472.50" x2="669.8" y2="472.50" stroke="#ebebeb" stroke-width="1"/>
<line x1="392.8" y1="472.27" x2="395.3" y2="472.27" stroke="#444" stroke-width="0.8"/>
<line x1="392.8" y1="465.50" x2="669.8" y2="465.50" stroke="#ebebeb" stroke-width="1"/>
<line x1="392.8" y1="465.87" x2="395.3" y2="465.87" stroke="#444" stroke-width="0.8"/>
<line x1="392.8" y1="461.50" x2="669.8" y2="461.50" stroke="#ebebeb" stroke-width="1"/>
<line x1="392.8" y1="461.32" x2="395.3" y2="461.32" stroke="#444" stroke-width="0.8"/>
<line x1="392.8" y1="457.50" x2="669.8" y2="457.50" stroke="#ebebeb" stroke-width="1"/>
<line x1="392.8" y1="457.79" x2="395.3" y2="457.79" stroke="#444" stroke-width="0.8"/>
<line x1="392.8" y1="454.50" x2="669.8" y2="454.50" stroke="#ebebeb" stroke-width="1"/>
<line x1="392.8" y1="454.91" x2="395.3" y2="454.91" stroke="#444" stroke-width="0.8"/>
<line x1="392.8" y1="452.50" x2="669.8" y2="452.50" stroke="#ebebeb" stroke-width="1"/>
<line x1="392.8" y1="452.48" x2="395.3" y2="452.48" stroke="#444" stroke-width="0.8"/>
<line x1="392.8" y1="450.50" x2="669.8" y2="450.50" stroke="#ebebeb" stroke-width="1"/>
<line x1="392.8" y1="450.37" x2="395.3" y2="450.37" stroke="#444" stroke-width="0.8"/>
<line x1="392.8" y1="448.50" x2="669.8" y2="448.50" stroke="#ebebeb" stroke-width="1"/>
<line x1="392.8" y1="448.51" x2="395.3" y2="448.51" stroke="#444" stroke-width="0.8"/>
<line x1="392.8" y1="435.50" x2="669.8" y2="435.50" stroke="#ebebeb" stroke-width="1"/>
<line x1="392.8" y1="435.89" x2="395.3" y2="435.89" stroke="#444" stroke-width="0.8"/>
<line x1="392.8" y1="429.50" x2="669.8" y2="429.50" stroke="#ebebeb" stroke-width="1"/>
<line x1="392.8" y1="429.48" x2="395.3" y2="429.48" stroke="#444" stroke-width="0.8"/>
<line x1="392.8" y1="424.50" x2="669.8" y2="424.50" stroke="#ebebeb" stroke-width="1"/>
<line x1="392.8" y1="424.93" x2="395.3" y2="424.93" stroke="#444" stroke-width="0.8"/>
<line x1="392.8" y1="421.50" x2="669.8" y2="421.50" stroke="#ebebeb" stroke-width="1"/>
<line x1="392.8" y1="421.41" x2="395.3" y2="421.41" stroke="#444" stroke-width="0.8"/>
<line x1="392.8" y1="418.50" x2="669.8" y2="418.50" stroke="#ebebeb" stroke-width="1"/>
<line x1="392.8" y1="418.53" x2="395.3" y2="418.53" stroke="#444" stroke-width="0.8"/>
<line x1="392.8" y1="416.50" x2="669.8" y2="416.50" stroke="#ebebeb" stroke-width="1"/>
<line x1="392.8" y1="416.09" x2="395.3" y2="416.09" stroke="#444" stroke-width="0.8"/>
<line x1="392.8" y1="413.50" x2="669.8" y2="413.50" stroke="#ebebeb" stroke-width="1"/>
<line x1="392.8" y1="413.98" x2="395.3" y2="413.98" stroke="#444" stroke-width="0.8"/>
<line x1="392.8" y1="412.50" x2="669.8" y2="412.50" stroke="#ebebeb" stroke-width="1"/>
<line x1="392.8" y1="412.12" x2="395.3" y2="412.12" stroke="#444" stroke-width="0.8"/>
<line x1="392.8" y1="519.61" x2="671.3" y2="519.61" stroke="#555" stroke-width="1"/>
<line x1="392.8" y1="483.23" x2="671.3" y2="483.23" stroke="#6a6a6a" stroke-width="1.1"/>
<line x1="392.8" y1="446.84" x2="671.3" y2="446.84" stroke="#6a6a6a" stroke-width="1.1"/>
<line x1="392.8" y1="410.45" x2="671.3" y2="410.45" stroke="#555" stroke-width="1"/>
<line x1="462.43" y1="399.5" x2="462.43" y2="556.0" stroke="#555" stroke-width="1"/>
<line x1="532.05" y1="399.5" x2="532.05" y2="556.0" stroke="#555" stroke-width="1"/>
<line x1="601.67" y1="399.5" x2="601.67" y2="556.0" stroke="#555" stroke-width="1"/>
<line x1="410.21" y1="556.0" x2="410.21" y2="554.0" stroke="#888" stroke-width="0.7"/>
<line x1="410.21" y1="399.5" x2="410.21" y2="401.5" stroke="#888" stroke-width="0.7"/>
<line x1="427.61" y1="556.0" x2="427.61" y2="554.0" stroke="#888" stroke-width="0.7"/>
<line x1="427.61" y1="399.5" x2="427.61" y2="401.5" stroke="#888" stroke-width="0.7"/>
<line x1="445.02" y1="556.0" x2="445.02" y2="554.0" stroke="#888" stroke-width="0.7"/>
<line x1="445.02" y1="399.5" x2="445.02" y2="401.5" stroke="#888" stroke-width="0.7"/>
<line x1="479.83" y1="556.0" x2="479.83" y2="554.0" stroke="#888" stroke-width="0.7"/>
<line x1="479.83" y1="399.5" x2="479.83" y2="401.5" stroke="#888" stroke-width="0.7"/>
<line x1="497.24" y1="556.0" x2="497.24" y2="554.0" stroke="#888" stroke-width="0.7"/>
<line x1="497.24" y1="399.5" x2="497.24" y2="401.5" stroke="#888" stroke-width="0.7"/>
<line x1="514.64" y1="556.0" x2="514.64" y2="554.0" stroke="#888" stroke-width="0.7"/>
<line x1="514.64" y1="399.5" x2="514.64" y2="401.5" stroke="#888" stroke-width="0.7"/>
<line x1="549.46" y1="556.0" x2="549.46" y2="554.0" stroke="#888" stroke-width="0.7"/>
<line x1="549.46" y1="399.5" x2="549.46" y2="401.5" stroke="#888" stroke-width="0.7"/>
<line x1="566.86" y1="556.0" x2="566.86" y2="554.0" stroke="#888" stroke-width="0.7"/>
<line x1="566.86" y1="399.5" x2="566.86" y2="401.5" stroke="#888" stroke-width="0.7"/>
<line x1="584.27" y1="556.0" x2="584.27" y2="554.0" stroke="#888" stroke-width="0.7"/>
<line x1="584.27" y1="399.5" x2="584.27" y2="401.5" stroke="#888" stroke-width="0.7"/>
<line x1="619.08" y1="556.0" x2="619.08" y2="554.0" stroke="#888" stroke-width="0.7"/>
<line x1="619.08" y1="399.5" x2="619.08" y2="401.5" stroke="#888" stroke-width="0.7"/>
<line x1="636.49" y1="556.0" x2="636.49" y2="554.0" stroke="#888" stroke-width="0.7"/>
<line x1="636.49" y1="399.5" x2="636.49" y2="401.5" stroke="#888" stroke-width="0.7"/>
<line x1="653.89" y1="556.0" x2="653.89" y2="554.0" stroke="#888" stroke-width="0.7"/>
<line x1="653.89" y1="399.5" x2="653.89" y2="401.5" stroke="#888" stroke-width="0.7"/>
<clipPath id="ca"><rect x="392.6" y="9.4" width="278.70" height="155.80"/></clipPath>
<clipPath id="cb"><rect x="49.2" y="204.6" width="278.50" height="155.60"/></clipPath>
<clipPath id="cc"><rect x="392.5" y="204.5" width="278.70" height="156.10"/></clipPath>
<clipPath id="cd"><rect x="49.2" y="399.4" width="278.50" height="156.60"/></clipPath>
<clipPath id="ce"><rect x="392.8" y="399.5" width="278.50" height="156.50"/></clipPath>
<polyline class="rd" clip-path="url(#ca)" points="392.6,120.8 393.6,121.3 394.7,122.4 401.0,132.3 404.1,135.9 405.1,136.8 407.2,138.1 409.3,138.9 411.4,139.3 414.5,139.4 418.7,139.0 422.9,138.2 427.1,137.0 432.3,135.1 439.6,131.9 443.8,129.8 449.0,126.9 458.4,121.2 463.7,117.4 471.0,111.1 480.4,101.8 485.6,96.2 491.9,89.0 512.8,63.9 515.9,59.6 523.2,47.8 526.4,43.7 529.5,40.5 532.6,38.0 534.7,36.9 537.9,35.8 540.0,35.4 542.1,35.4 566.1,37.6 596.4,39.6 639.2,41.1 671.3,42.5"/>
<polyline class="rs" clip-path="url(#ca)" points="392.6,139.1 401.0,153.9 410.0,148.6 430.2,139.3 444.2,132.2 453.9,126.8 462.3,121.5 468.5,116.9 474.1,112.4 479.7,107.3 485.3,101.7 513.1,67.0 515.9,63.0 522.9,51.6 525.7,47.6 529.2,43.8 532.0,41.3 534.0,39.9 538.2,38.0 540.3,37.6 542.4,37.7 564.7,39.6 595.4,41.4 639.9,43.0 671.3,44.4"/>
<polyline class="bd" clip-path="url(#ca)" points="392.6,153.7 398.2,145.3 404.4,140.0 406.5,138.4 407.2,138.0 420.5,132.0 428.1,129.5 442.1,125.5 461.6,120.8 476.9,116.2 485.3,113.0 489.4,110.6 492.2,109.3 503.4,105.6 508.3,103.6 514.5,100.6 518.7,97.8 520.8,95.4 525.0,89.5 526.4,88.0 527.8,87.0 530.6,85.3 533.3,84.0 538.9,82.0 541.7,81.1 543.8,80.9 547.3,80.9 559.8,82.0 586.3,83.7 604.4,84.7 637.2,85.9 656.7,87.4 663.6,87.4 671.3,86.3"/>
<polyline class="bs" clip-path="url(#ca)" points="392.6,165.7 413.5,154.2 427.4,147.6 432.3,145.6 436.5,144.1 458.1,137.9 470.6,133.4 477.6,130.4 500.6,119.4 510.4,114.2 513.8,112.1 517.3,109.7 520.1,107.5 522.2,105.4 524.3,102.6 529.2,95.1 533.3,88.2 535.4,85.5 536.1,84.9 538.2,83.8 542.4,82.2 545.2,81.8 548.7,81.9 559.8,82.8 594.0,84.9 636.5,86.7 658.1,88.6 663.6,88.5 671.3,87.5"/>
<polyline class="rd" clip-path="url(#ca)" points="420.5,111.1 421.5,111.6 422.6,112.9 428.8,124.7 430.9,128.0 433.0,130.5 434.1,131.4 436.1,132.7 437.2,133.1 439.3,133.5 441.4,133.5 443.5,133.0 445.6,132.3 448.7,130.8 455.0,127.3 461.2,123.2 466.5,119.0 472.7,113.3 481.1,105.0 491.5,93.3 512.4,68.3 515.6,64.1 522.9,52.3 526.0,48.0 529.2,44.8 532.3,42.2 534.4,41.0 538.6,39.5 540.7,39.2 542.7,39.3 565.7,41.5 594.0,43.4 641.0,45.1 671.3,46.5"/>
<polyline class="rs" clip-path="url(#ca)" points="420.5,130.6 428.8,143.5 437.9,137.9 449.0,132.0 456.0,128.0 462.3,123.9 467.8,119.9 472.7,115.9 477.6,111.7 482.5,107.0 486.7,102.5 493.6,93.5 508.3,75.6 513.1,69.4 516.6,64.3 523.6,52.9 526.4,49.1 529.9,45.5 532.6,43.2 534.7,42.0 538.2,40.4 540.3,40.0 542.4,40.1 564.7,42.0 595.4,43.8 639.9,45.4 671.3,46.8"/>
<polyline class="bd" clip-path="url(#ca)" points="420.5,151.0 429.5,138.6 439.3,128.0 440.0,127.6 460.2,122.6 476.2,117.8 485.3,114.3 489.4,111.9 492.2,110.6 503.4,106.8 510.4,103.9 515.2,101.4 518.7,98.9 520.8,96.5 525.0,90.7 527.1,88.6 529.9,86.8 532.6,85.4 535.4,84.2 541.0,82.3 543.8,81.9 547.3,81.9 559.1,82.9 584.9,84.5 603.7,85.4 636.5,86.5 657.4,88.0 663.6,88.0 671.3,86.9"/>
<polyline class="bs" clip-path="url(#ca)" points="420.5,154.6 424.0,157.6 431.6,149.9 436.5,145.5 448.3,140.6 455.3,138.7 460.9,136.9 467.8,134.3 474.8,131.5 502.0,118.5 512.4,112.8 518.0,109.1 520.8,106.7 522.2,105.3 524.3,102.5 529.2,95.0 533.3,88.1 535.4,85.4 536.1,84.8 538.2,83.7 542.4,82.1 545.2,81.7 548.7,81.7 559.8,82.6 594.0,84.8 636.5,86.5 658.1,88.4 663.6,88.4 671.3,87.3"/>
<polyline class="rd" clip-path="url(#ca)" points="434.4,107.6 435.5,108.1 436.5,109.5 441.7,120.1 443.8,123.6 444.9,125.0 446.9,126.9 449.0,127.9 450.1,128.1 452.2,128.0 454.3,127.4 456.4,126.6 460.5,124.2 465.8,120.2 473.1,113.6 481.4,105.3 488.8,97.2 509.7,72.3 513.8,67.1 517.0,62.6 523.2,52.4 526.4,48.2 529.5,45.1 532.6,42.6 534.7,41.5 537.9,40.3 540.0,39.9 542.1,39.9 566.1,42.2 596.4,44.1 639.2,45.6 671.3,47.1"/>
<polyline class="rs" clip-path="url(#ca)" points="434.4,120.7 442.8,132.5 451.8,126.5 461.6,120.4 470.6,113.7 475.5,109.6 479.7,105.7 484.6,100.8 487.4,97.7 493.6,89.6 508.3,71.6 513.1,65.4 516.6,60.4 523.6,48.9 526.4,45.2 529.9,41.5 532.6,39.2 534.7,38.0 538.2,36.5 540.3,36.0 542.4,36.1 564.7,38.0 595.4,39.8 639.9,41.4 671.3,42.8"/>
<polyline class="bd" clip-path="url(#ca)" points="434.4,144.4 443.5,133.2 453.2,123.9 453.9,123.4 468.5,119.5 479.0,116.2 485.3,113.7 489.4,111.2 491.5,110.2 504.1,105.9 511.7,102.6 515.9,100.3 518.7,98.3 520.8,95.8 525.0,90.0 527.1,87.9 529.9,86.1 533.3,84.4 538.9,82.4 541.7,81.5 543.8,81.2 547.3,81.3 559.1,82.3 585.6,83.9 603.7,84.8 637.2,85.9 657.4,87.3 663.6,87.3 671.3,86.2"/>
<polyline class="bs" clip-path="url(#ca)" points="434.4,147.7 437.9,151.2 450.4,140.7 456.7,138.1 462.3,135.5 469.9,132.6 477.6,129.3 502.7,117.3 513.1,111.5 518.0,108.2 520.8,105.8 522.2,104.4 524.3,101.6 529.2,94.1 533.3,87.2 535.4,84.5 536.1,83.9 538.2,82.8 542.4,81.2 545.2,80.8 548.7,80.9 559.8,81.7 594.0,83.9 636.5,85.6 658.1,87.5 663.6,87.5 671.3,86.4"/>
<polyline class="rd" clip-path="url(#ca)" points="448.3,102.1 449.4,102.6 450.4,104.0 455.7,113.9 457.7,116.7 458.8,117.7 459.8,118.3 460.9,118.7 463.0,118.7 465.1,118.0 467.2,116.8 472.4,112.5 480.7,104.3 487.0,97.4 494.3,88.9 514.2,64.9 517.3,60.3 523.6,50.1 526.7,46.1 529.9,43.0 533.0,40.6 535.1,39.6 538.2,38.5 540.3,38.1 542.4,38.2 565.4,40.4 594.7,42.3 640.6,44.0 671.3,45.3"/>
<polyline class="rs" clip-path="url(#ca)" points="448.3,120.2 456.7,129.9 470.6,118.8 474.8,115.3 480.4,110.2 486.0,104.5 493.6,94.7 509.7,75.0 515.2,67.6 522.9,55.1 526.4,50.3 529.9,46.7 532.6,44.3 534.7,43.1 538.2,41.6 540.3,41.2 542.4,41.2 564.7,43.1 595.4,45.0 639.9,46.5 671.3,48.0"/>
<polyline class="bd" clip-path="url(#ca)" points="448.3,139.3 457.4,128.8 467.2,119.2 467.8,118.8 475.5,116.4 481.8,114.2 485.3,112.7 489.4,110.3 491.5,109.3 504.1,104.9 513.1,100.9 516.6,98.9 518.7,97.3 520.8,94.9 525.0,89.1 527.1,87.0 529.9,85.2 533.3,83.5 538.9,81.4 541.7,80.6 543.8,80.3 547.3,80.4 559.8,81.4 586.3,83.0 604.4,83.9 637.2,85.0 656.7,86.3 663.6,86.3 671.3,85.2"/>
<polyline class="bs" clip-path="url(#ca)" points="448.3,142.4 451.8,146.2 464.4,135.1 476.2,128.8 503.4,115.8 511.0,111.6 515.2,109.0 520.1,105.3 522.9,102.4 529.9,91.8 533.3,86.0 535.4,83.3 536.1,82.7 538.2,81.6 542.4,80.0 545.2,79.6 548.7,79.7 559.8,80.6 594.0,82.7 636.5,84.5 658.1,86.4 663.6,86.3 671.3,85.3"/>
<polyline class="rd" clip-path="url(#ca)" points="462.3,97.0 463.3,97.3 464.4,98.4 468.5,104.4 470.6,106.1 471.7,106.6 472.7,106.7 473.8,106.6 475.9,105.7 478.0,104.2 482.1,100.4 487.4,94.7 511.4,66.2 515.6,60.7 522.9,48.9 526.0,44.6 529.2,41.4 532.3,38.8 534.4,37.6 538.6,36.1 540.7,35.9 542.7,35.9 565.7,38.1 594.0,40.0 641.0,41.7 671.3,43.1"/>
<polyline class="rs" clip-path="url(#ca)" points="462.3,108.2 470.6,114.8 471.3,114.1 486.0,99.2 493.6,89.5 509.7,69.8 515.2,62.4 522.9,49.9 526.4,45.1 529.9,41.5 532.6,39.1 534.7,37.9 538.2,36.4 540.3,35.9 542.4,36.0 564.7,37.9 595.4,39.7 639.9,41.3 671.3,42.7"/>
<polyline class="bd" clip-path="url(#ca)" points="462.3,136.8 471.3,126.2 481.1,116.4 481.8,115.9 485.3,114.4 489.4,112.0 491.5,111.0 504.8,106.4 511.0,103.7 514.5,101.9 518.0,99.6 519.4,98.3 525.0,90.8 527.1,88.7 529.9,86.9 533.3,85.2 538.9,83.1 541.7,82.3 543.8,82.0 547.3,82.1 559.8,83.1 586.3,84.7 604.4,85.6 637.2,86.7 656.7,88.1 663.6,88.0 671.3,86.9"/>
<polyline class="bs" clip-path="url(#ca)" points="462.3,137.1 465.8,140.5 478.3,128.2 490.1,120.9 504.1,114.3 512.4,109.6 516.6,106.9 520.8,103.5 522.9,101.2 529.9,90.7 533.3,84.9 535.4,82.2 536.1,81.6 538.2,80.5 542.4,78.9 545.2,78.5 548.7,78.6 559.8,79.4 594.0,81.6 636.5,83.3 658.1,85.2 663.6,85.2 671.3,84.1"/>
<polyline class="rd" clip-path="url(#ca)" points="476.2,91.2 477.3,91.1 478.3,91.7 481.4,94.3 482.5,94.8 483.5,95.0 484.6,94.9 485.6,94.5 486.7,93.9 488.8,92.2 494.0,86.6 512.8,64.0 515.9,59.8 523.2,48.0 526.4,43.8 529.5,40.7 532.6,38.2 535.8,36.7 538.9,35.7 541.0,35.5 543.1,35.6 565.0,37.7 594.3,39.6 640.3,41.3 671.3,42.7"/>
<polyline class="rs" clip-path="url(#ca)" points="476.2,104.6 480.4,105.5 484.6,106.2 487.4,102.6 493.6,93.7 509.0,74.9 513.8,68.6 516.6,64.5 522.9,54.1 525.7,50.1 529.2,46.4 531.9,43.9 534.0,42.5 538.2,40.6 540.3,40.2 542.4,40.2 564.7,42.2 595.4,44.0 639.9,45.6 671.3,47.0"/>
<polyline class="bd" clip-path="url(#ca)" points="476.2,130.5 489.4,114.8 495.0,109.1 495.7,108.6 505.5,105.3 511.7,102.6 515.2,100.7 518.0,98.9 519.4,97.6 525.0,90.0 527.1,87.9 529.9,86.2 533.3,84.4 538.9,82.4 541.7,81.5 543.8,81.3 547.3,81.3 559.8,82.4 586.3,84.0 604.4,84.8 637.2,86.0 656.7,87.4 663.6,87.3 671.3,86.2"/>
<polyline class="bs" clip-path="url(#ca)" points="476.2,130.7 479.7,133.8 492.2,120.6 504.1,113.5 513.1,108.4 518.7,104.5 521.5,102.0 523.6,99.5 529.9,89.9 533.3,84.1 534.7,82.1 536.1,80.8 536.8,80.4 539.6,79.0 542.4,78.1 545.2,77.7 548.7,77.7 559.8,78.6 594.0,80.8 636.5,82.5 658.1,84.4 663.6,84.4 671.3,83.3"/>
<polyline class="rd" clip-path="url(#ca)" points="483.2,88.1 484.2,88.0 487.4,90.8 488.4,91.5 489.4,91.8 490.5,91.8 491.5,91.4 493.6,90.0 496.8,86.7 513.5,66.7 516.6,62.3 522.9,52.1 526.0,47.8 529.2,44.6 532.3,42.0 534.4,40.8 538.6,39.3 540.7,39.1 542.7,39.1 565.7,41.3 594.0,43.2 641.0,44.9 671.3,46.3"/>
<polyline class="rs" clip-path="url(#ca)" points="483.2,94.6 486.7,94.5 491.5,93.4 500.6,81.0 509.7,69.9 514.5,63.4 517.3,59.2 522.9,49.9 525.7,46.0 529.9,41.5 532.6,39.2 536.1,37.3 538.9,36.2 540.3,36.0 542.4,36.0 564.0,37.9 593.3,39.7 639.9,41.4 671.3,42.8"/>
<polyline class="bd" clip-path="url(#ca)" points="483.2,127.9 491.5,117.2 494.3,114.5 502.0,107.6 502.7,107.1 512.4,103.0 515.2,101.5 518.0,99.6 520.1,97.5 525.7,90.0 527.1,88.7 528.5,87.8 531.3,86.2 534.0,84.9 541.7,82.3 543.8,82.0 547.3,82.1 559.8,83.1 586.3,84.8 604.4,85.6 637.2,86.8 656.7,88.2 663.6,88.1 671.3,87.0"/>
<polyline class="bs" clip-path="url(#ca)" points="483.2,131.7 486.7,134.7 499.2,121.7 515.2,111.4 518.7,108.8 521.5,106.4 523.6,103.8 529.9,94.2 533.3,88.4 535.4,85.7 536.1,85.1 538.9,83.7 541.0,82.8 543.1,82.2 545.2,82.0 548.7,82.1 559.8,82.9 594.0,85.1 636.5,86.8 658.1,88.7 663.6,88.7 671.3,87.6"/>
<polyline class="rd" clip-path="url(#ca)" points="490.1,83.8 491.2,83.4 494.3,84.3 495.4,84.3 496.4,83.9 498.5,82.4 501.6,79.1 507.9,71.9 514.2,64.1 517.3,59.5 523.6,49.4 526.7,45.4 529.9,42.3 533.0,39.9 536.1,38.4 539.3,37.5 542.4,37.4 565.4,39.6 593.6,41.5 640.6,43.2 671.3,44.6"/>
<polyline class="rs" clip-path="url(#ca)" points="490.1,90.6 493.6,88.7 498.5,86.5 507.6,74.3 515.2,64.3 522.9,51.7 525.7,47.8 529.9,43.3 532.6,41.0 536.1,39.1 538.9,38.0 540.3,37.8 542.4,37.8 564.0,39.7 593.3,41.5 639.9,43.2 671.3,44.6"/>
<polyline class="bd" clip-path="url(#ca)" points="490.1,122.8 498.5,113.2 504.1,108.0 509.0,103.2 509.7,102.6 515.2,99.8 518.7,97.4 520.8,95.0 525.0,89.1 526.4,87.6 529.2,85.7 532.6,83.9 536.1,82.5 541.7,80.7 543.8,80.4 547.3,80.5 559.8,81.5 586.3,83.1 604.4,84.0 637.2,85.1 656.7,86.5 663.6,86.5 671.3,85.4"/>
<polyline class="bs" clip-path="url(#ca)" points="490.1,123.7 493.6,126.7 506.2,113.5 514.5,107.7 521.5,101.8 524.3,98.2 529.9,89.6 533.3,83.8 535.4,81.1 536.1,80.5 538.9,79.1 541.0,78.2 543.1,77.6 545.2,77.4 548.7,77.5 559.8,78.3 594.0,80.5 636.5,82.2 658.1,84.1 663.6,84.1 671.3,83.0"/>
<polyline class="rd" clip-path="url(#ca)" points="497.1,79.5 498.2,78.7 501.3,77.2 503.4,75.7 506.5,72.6 509.7,69.1 514.9,62.5 523.2,49.2 525.3,46.2 527.4,43.9 530.6,40.9 532.6,39.3 535.8,37.8 538.9,36.8 541.0,36.7 543.1,36.8 565.0,38.9 594.3,40.8 640.3,42.5 671.3,43.9"/>
<polyline class="rs" clip-path="url(#ca)" points="497.1,87.3 505.5,81.3 515.2,67.6 522.9,55.1 526.4,50.3 529.9,46.7 532.6,44.3 536.1,42.4 538.9,41.4 540.3,41.2 542.4,41.2 564.0,43.1 593.3,44.9 639.9,46.5 671.3,48.0"/>
<polyline class="bd" clip-path="url(#ca)" points="497.1,120.5 506.2,110.6 511.7,105.1 515.9,100.5 519.4,97.6 524.3,90.9 526.4,88.5 529.9,86.1 533.3,84.4 539.6,82.1 542.4,81.4 544.5,81.2 548.0,81.4 559.8,82.4 596.1,84.5 637.2,86.0 656.7,87.4 663.6,87.3 671.3,86.3"/>
<polyline class="bs" clip-path="url(#ca)" points="497.1,125.0 500.6,128.1 512.4,114.9 518.0,110.3 521.5,106.8 523.6,103.9 529.2,95.3 533.3,88.4 535.4,85.7 536.1,85.1 538.9,83.7 541.0,82.8 543.1,82.2 545.2,82.0 548.7,82.0 559.8,82.9 594.0,85.1 636.5,86.8 658.1,88.7 663.6,88.7 671.3,87.6"/>
<polyline class="rd" clip-path="url(#ca)" points="504.1,74.1 505.1,73.4 507.2,72.7 509.3,71.5 512.4,68.4 514.5,65.8 516.6,62.8 523.9,51.0 526.0,48.3 529.2,45.1 531.3,43.3 533.3,41.8 536.5,40.5 539.6,39.6 543.8,39.7 566.8,41.9 592.9,43.6 607.5,44.3 641.0,45.4 671.3,46.8"/>
<polyline class="rs" clip-path="url(#ca)" points="504.1,78.1 512.4,69.3 515.9,64.0 522.2,52.9 524.3,49.7 526.4,47.0 529.9,43.3 532.6,41.0 536.8,38.8 539.6,37.9 542.4,37.9 563.3,39.7 591.9,41.4 640.6,43.2 671.3,44.6"/>
<polyline class="bd" clip-path="url(#ca)" points="504.1,117.9 518.0,102.3 520.1,99.1 523.6,92.7 526.4,89.3 529.9,87.0 533.3,85.2 539.6,82.9 542.4,82.2 544.5,82.1 548.0,82.2 559.8,83.2 596.1,85.3 637.2,86.9 656.7,88.2 663.6,88.2 671.3,87.1"/>
<polyline class="bs" clip-path="url(#ca)" points="504.1,117.4 507.6,120.2 514.5,112.1 519.4,105.7 522.9,101.6 529.2,91.4 532.6,85.2 534.7,82.2 536.1,80.8 537.5,80.1 540.3,78.8 543.1,78.0 545.2,77.7 548.7,77.8 559.8,78.7 594.0,80.8 636.5,82.6 658.1,84.5 663.6,84.4 671.3,83.3"/>
<polyline class="rd" clip-path="url(#ca)" points="511.0,68.2 521.5,50.6 523.6,47.3 525.7,44.5 529.9,40.2 533.0,37.8 536.1,36.4 539.3,35.4 542.4,35.4 565.4,37.5 593.6,39.4 640.6,41.1 671.3,42.5"/>
<polyline class="rs" clip-path="url(#ca)" points="511.0,70.0 515.9,62.8 523.6,49.3 527.1,44.4 529.9,41.5 532.6,39.2 536.8,37.0 539.6,36.1 542.4,36.0 563.3,37.9 591.9,39.6 640.6,41.4 671.3,42.8"/>
<polyline class="bd" clip-path="url(#ca)" points="511.0,112.4 514.5,108.4 518.0,104.0 520.1,100.6 525.7,90.4 527.1,88.5 529.9,85.4 531.3,84.5 534.7,82.9 539.6,81.2 542.4,80.5 544.5,80.4 548.0,80.5 559.8,81.5 596.1,83.6 637.2,85.2 656.7,86.6 663.6,86.5 671.3,85.4"/>
<polyline class="bs" clip-path="url(#ca)" points="511.0,117.2 514.5,119.8 518.0,115.3 521.5,110.3 523.6,106.5 527.1,99.3 529.9,94.7 533.3,88.5 534.7,86.4 536.1,84.8 538.9,83.0 541.0,82.2 543.1,81.6 545.2,81.3 548.7,81.4 559.8,82.3 594.0,84.5 636.5,86.2 658.1,88.1 663.6,88.0 671.3,87.0"/>
<polyline class="rd" clip-path="url(#ca)" points="518.0,60.0 524.3,50.6 526.4,48.0 529.5,44.9 531.6,43.1 533.7,41.8 537.9,40.2 540.0,39.7 543.1,39.8 566.1,42.0 592.2,43.7 606.9,44.4 641.3,45.5 671.3,46.9"/>
<polyline class="rs" clip-path="url(#ca)" points="518.0,69.5 522.2,60.4 525.0,54.9 527.8,50.2 531.3,45.1 532.6,43.3 533.3,42.9 536.8,41.1 539.6,40.2 542.4,40.2 563.3,42.0 591.9,43.8 640.6,45.6 671.3,47.0"/>
<polyline class="bd" clip-path="url(#ca)" points="518.0,108.7 520.1,105.3 525.7,94.4 527.8,91.6 532.0,87.3 536.8,83.2 539.6,82.0 542.4,81.3 544.5,81.2 548.0,81.3 559.8,82.3 596.1,84.4 637.2,86.0 656.7,87.4 663.6,87.3 671.3,86.3"/>
<polyline class="bs" clip-path="url(#ca)" points="518.0,109.9 521.5,111.5 525.0,104.9 533.3,86.7 534.0,85.4 535.4,83.6 536.8,82.4 540.3,80.4 543.1,79.2 545.2,78.6 549.4,78.7 559.8,79.5 596.7,81.8 637.2,83.5 657.4,85.3 663.6,85.3 671.3,84.2"/>
<polyline class="rd" clip-path="url(#ca)" points="525.0,52.2 529.2,43.5 531.3,40.6 532.3,39.6 534.4,38.2 537.5,37.0 540.7,36.4 565.7,38.7 591.9,40.4 606.5,41.1 642.0,42.3 671.3,43.6"/>
<polyline class="rs" clip-path="url(#ca)" points="525.0,61.7 529.9,52.2 534.0,45.4 537.5,40.8 540.3,40.1 543.1,40.2 549.4,40.9 564.7,42.1 590.5,43.7 605.8,44.3 641.3,45.5 671.3,46.9"/>
<polyline class="bd" clip-path="url(#ca)" points="525.0,101.9 526.4,99.4 527.8,97.5 533.3,90.7 541.0,84.1 543.1,82.7 544.5,82.1 587.7,84.9 604.4,85.8 636.5,86.9 656.7,88.3 663.6,88.3 671.3,87.2"/>
<polyline class="bs" clip-path="url(#ca)" points="525.0,103.9 528.5,103.2 534.0,91.1 535.4,88.6 537.5,86.0 540.3,83.2 541.0,82.7 543.8,81.6 545.9,81.2 552.9,80.7 559.8,81.3 595.4,83.5 637.2,85.2 658.1,87.1 663.6,87.0 671.3,85.9"/>
<polyline class="rd" clip-path="url(#cb)" points="49.2,260.0 61.7,262.3 75.3,265.0 103.5,271.4 133.8,279.3 166.2,288.6 200.6,299.4 239.3,312.2 281.1,326.8 327.7,343.7"/>
<polyline class="rs" clip-path="url(#cb)" points="49.2,301.2 101.4,310.1 163.0,320.9 327.7,350.7"/>
<polyline class="bd" clip-path="url(#cb)" points="49.2,333.8 50.2,337.4 51.3,338.8 52.3,339.5 54.4,340.1 61.7,341.3 71.1,342.4 81.6,343.2 93.1,343.8 118.1,344.5 155.7,344.8 327.7,344.9"/>
<polyline class="bs" clip-path="url(#cb)" points="49.2,338.5 50.2,340.3 51.3,341.5 53.4,343.1 55.5,343.9 57.6,344.4 60.7,344.8 72.2,345.5 112.9,346.2 327.7,348.4"/>
<polyline class="rd" clip-path="url(#cb)" points="77.1,255.0 126.1,273.0 182.5,293.3 327.7,344.6"/>
<polyline class="rs" clip-path="url(#cb)" points="77.1,289.4 100.0,296.9 124.0,304.0 150.2,311.3 179.4,318.9 210.7,326.5 245.2,334.5 283.8,343.1 327.7,352.5"/>
<polyline class="bd" clip-path="url(#cb)" points="77.1,321.3 78.1,329.7 79.1,333.1 80.2,334.6 82.3,336.1 85.4,337.5 89.6,339.0 99.0,341.6 108.4,343.4 119.9,344.9 130.3,345.8 142.8,346.5 174.2,347.4 220.1,347.6 327.7,347.7"/>
<polyline class="bs" clip-path="url(#cb)" points="77.1,328.6 78.1,333.8 79.1,337.4 80.2,340.0 81.2,341.9 83.3,344.3 84.4,345.1 86.4,346.2 89.6,347.2 94.8,348.2 101.1,348.9 116.7,349.9 141.8,350.5 327.7,352.5"/>
<polyline class="rd" clip-path="url(#cb)" points="91.0,251.7 112.9,262.7 136.9,273.8 162.0,284.7 189.1,295.7 219.4,307.4 251.8,319.3 287.3,331.8 327.7,345.5"/>
<polyline class="rs" clip-path="url(#cb)" points="91.0,284.3 111.9,292.6 134.8,300.9 158.9,308.9 186.0,317.2 215.3,325.6 248.7,334.6 285.2,343.9 327.7,354.3"/>
<polyline class="bd" clip-path="url(#cb)" points="91.0,316.8 92.0,325.5 93.1,329.0 94.1,330.7 96.2,332.3 99.3,333.7 103.5,335.4 112.9,338.3 123.4,340.6 134.8,342.3 145.3,343.3 157.8,344.2 171.4,344.7 188.1,345.1 233.0,345.5 327.7,345.6"/>
<polyline class="bs" clip-path="url(#cb)" points="91.0,323.9 92.0,329.8 93.1,334.0 94.1,337.0 95.2,339.2 97.2,342.1 98.3,343.0 100.4,344.3 103.5,345.6 108.7,346.8 116.0,348.0 123.4,348.7 132.8,349.3 157.8,350.1 327.7,351.9"/>
<polyline class="rd" clip-path="url(#cb)" points="104.9,248.4 114.3,254.8 124.7,261.4 135.2,267.6 146.7,274.1 158.2,280.3 170.7,286.6 183.2,292.5 195.8,298.2 209.3,304.0 224.0,310.0 254.2,321.6 288.7,333.7 327.7,346.5"/>
<polyline class="rs" clip-path="url(#cb)" points="104.9,278.4 114.3,283.9 124.7,289.5 135.2,294.7 145.6,299.6 157.1,304.6 168.6,309.3 181.1,314.0 193.7,318.5 207.2,323.1 220.8,327.4 252.2,336.6 287.7,346.1 327.7,356.0"/>
<polyline class="bd" clip-path="url(#cb)" points="104.9,311.6 105.9,320.9 107.0,324.8 108.0,326.5 110.1,328.3 113.3,329.9 117.4,331.8 121.6,333.4 126.8,335.2 137.3,337.8 148.8,339.9 159.2,341.1 171.7,342.2 185.3,342.9 202.0,343.4 244.8,344.0 327.7,344.1"/>
<polyline class="bs" clip-path="url(#cb)" points="104.9,320.4 105.9,326.3 107.0,330.5 108.0,333.6 109.1,335.8 110.1,337.5 112.2,339.7 115.3,341.6 119.5,343.1 124.7,344.3 132.1,345.5 140.4,346.4 149.8,347.0 174.9,347.8 213.5,348.4 327.7,349.6"/>
<polyline class="rd" clip-path="url(#cb)" points="118.8,245.6 128.2,253.7 137.6,261.2 147.0,268.1 157.5,275.3 167.9,281.9 179.4,288.7 190.9,294.9 203.4,301.3 216.0,307.2 229.5,313.1 244.2,319.1 258.8,324.7 274.4,330.3 291.1,336.0 308.9,341.7 327.7,347.4"/>
<polyline class="rs" clip-path="url(#cb)" points="118.8,271.1 127.2,276.1 136.6,281.5 155.4,291.4 176.3,301.3 200.3,311.7 225.4,321.8 254.6,332.7 288.0,344.4 327.7,357.8"/>
<polyline class="bd" clip-path="url(#cb)" points="118.8,306.4 119.9,317.0 120.9,321.4 122.0,323.4 124.0,325.5 127.2,327.5 131.4,329.7 135.5,331.7 140.8,333.8 146.0,335.6 151.2,337.1 162.7,339.7 173.1,341.3 185.7,342.7 199.2,343.7 214.9,344.4 232.7,344.8 255.6,345.2 327.7,345.4"/>
<polyline class="bs" clip-path="url(#cb)" points="118.8,315.2 119.9,321.6 120.9,326.2 122.0,329.5 123.0,331.9 124.0,333.7 126.1,336.2 129.3,338.4 133.4,340.2 139.7,341.9 147.0,343.3 155.4,344.4 164.8,345.2 176.3,345.8 189.8,346.2 227.4,346.9 327.7,347.9"/>
<polyline class="rd" clip-path="url(#cb)" points="132.8,241.6 141.1,250.9 149.5,259.4 158.9,268.1 168.3,276.0 177.7,283.2 188.1,290.5 198.5,297.1 210.0,303.8 221.5,309.8 234.1,315.8 247.6,321.7 261.2,327.0 275.8,332.4 292.5,337.9 309.2,343.1 327.7,348.4"/>
<polyline class="rs" clip-path="url(#cb)" points="132.8,262.1 140.1,268.8 148.4,275.9 156.8,282.4 166.2,289.2 175.6,295.4 185.0,301.1 195.4,307.0 206.9,312.9 218.4,318.5 230.9,324.1 244.5,329.9 258.1,335.2 272.7,340.7 289.4,346.7 327.7,359.6"/>
<polyline class="bd" clip-path="url(#cb)" points="132.8,302.4 133.8,314.0 134.8,318.8 135.9,321.0 136.9,322.4 138.0,323.3 141.1,325.6 145.3,328.3 149.5,330.6 154.7,333.1 164.1,336.7 169.3,338.3 175.6,339.9 186.0,342.0 197.5,343.6 211.1,345.0 226.7,346.0 244.5,346.7 265.4,347.1 327.7,347.5"/>
<polyline class="bs" clip-path="url(#cb)" points="132.8,311.1 133.8,318.2 134.8,323.2 135.9,326.9 136.9,329.6 138.0,331.7 140.1,334.5 143.2,337.0 145.3,338.2 148.4,339.6 154.7,341.6 162.0,343.3 170.3,344.7 179.7,345.7 191.2,346.5 204.8,347.0 241.4,347.8 327.7,348.7"/>
<polyline class="rd" clip-path="url(#cb)" points="139.7,238.5 147.0,248.3 155.4,258.3 163.7,267.4 173.1,276.5 182.5,284.6 191.9,291.9 202.4,299.2 212.8,305.6 224.3,312.0 235.8,317.7 248.3,323.3 261.9,328.8 276.5,334.0 292.2,339.2 308.9,344.2 327.7,349.3"/>
<polyline class="rs" clip-path="url(#cb)" points="139.7,257.9 147.0,264.7 154.3,271.1 162.7,277.8 171.0,284.0 179.4,289.8 188.8,295.8 198.2,301.5 208.6,307.5 220.1,313.6 231.6,319.4 244.2,325.5 257.7,331.7 289.1,345.4 327.7,361.3"/>
<polyline class="bd" clip-path="url(#cb)" points="139.7,298.4 140.8,309.4 141.8,314.0 142.8,316.1 144.9,318.4 148.1,320.7 153.3,324.0 157.5,326.3 162.7,328.8 167.9,330.9 173.1,332.8 183.6,335.7 194.0,337.9 205.5,339.7 219.1,341.1 233.7,342.1 250.4,342.9 270.3,343.4 327.7,344.0"/>
<polyline class="bs" clip-path="url(#cb)" points="139.7,308.3 140.8,315.8 141.8,321.3 142.8,325.2 143.9,328.2 144.9,330.4 147.0,333.5 148.1,334.7 150.2,336.4 152.2,337.8 155.4,339.4 161.6,341.9 170.0,344.2 178.4,345.8 187.8,347.1 199.2,348.1 212.8,348.8 249.4,349.7 327.7,350.6"/>
<polyline class="rd" clip-path="url(#cb)" points="146.7,235.5 154.0,247.1 161.3,257.5 168.6,266.7 177.0,276.1 185.3,284.5 194.7,292.7 204.1,300.0 214.6,307.0 225.0,313.2 236.5,319.2 249.0,325.0 261.6,330.1 276.2,335.3 291.8,340.4 308.6,345.2 327.7,350.3"/>
<polyline class="rs" clip-path="url(#cb)" points="146.7,252.7 152.9,260.5 160.3,268.8 167.6,276.3 174.9,283.0 183.2,290.1 191.6,296.4 201.0,303.0 210.4,308.9 220.8,315.0 232.3,321.3 243.8,327.1 257.4,333.5 272.0,340.1 287.7,346.8 327.7,363.1"/>
<polyline class="bd" clip-path="url(#cb)" points="146.7,295.1 147.7,306.8 148.8,311.7 149.8,314.1 151.9,316.7 155.0,319.3 160.3,323.0 164.4,325.7 169.7,328.6 174.9,331.1 180.1,333.2 190.5,336.8 201.0,339.4 212.5,341.5 225.0,343.2 239.6,344.6 256.3,345.6 275.1,346.3 298.1,346.8 327.7,347.1"/>
<polyline class="bs" clip-path="url(#cb)" points="146.7,305.5 147.7,313.2 148.8,318.7 149.8,322.8 150.9,325.8 151.9,328.2 154.0,331.5 156.1,333.7 158.2,335.4 160.3,336.8 163.4,338.5 170.7,341.6 179.1,344.1 187.4,345.9 196.8,347.3 208.3,348.4 221.9,349.2 237.5,349.8 257.4,350.3 327.7,351.1"/>
<polyline class="rd" clip-path="url(#cb)" points="153.6,231.5 159.9,243.7 167.2,256.2 174.5,267.1 181.8,276.7 189.1,285.0 197.5,293.4 206.9,301.5 216.3,308.4 226.7,315.0 237.2,320.7 248.7,326.2 261.2,331.4 274.8,336.3 290.5,341.2 308.2,346.2 327.7,351.2"/>
<polyline class="rs" clip-path="url(#cb)" points="153.6,246.7 158.9,254.7 165.1,263.3 171.4,271.0 178.7,279.0 186.0,286.2 193.3,292.6 201.7,299.3 211.1,306.0 220.5,312.1 230.9,318.4 242.4,324.8 254.9,331.3 269.6,338.5 285.2,345.9 327.7,364.9"/>
<polyline class="bd" clip-path="url(#cb)" points="153.6,291.2 154.7,302.6 155.7,307.4 156.8,309.7 158.9,312.3 162.0,315.0 167.2,319.0 171.4,321.7 176.6,324.8 181.8,327.5 187.1,329.8 192.3,331.8 198.5,333.9 209.0,336.7 220.5,339.1 233.0,340.9 246.6,342.4 262.3,343.5 280.0,344.3 300.9,344.9 327.7,345.3"/>
<polyline class="bs" clip-path="url(#cb)" points="153.6,302.2 154.7,309.5 155.7,314.7 156.8,318.7 157.8,321.6 158.9,323.9 159.9,325.7 162.0,328.3 164.1,330.3 166.2,331.9 171.4,334.9 178.7,338.1 187.1,340.7 195.4,342.6 205.9,344.3 217.3,345.4 229.9,346.3 245.5,347.0 264.3,347.5 327.7,348.3"/>
<polyline class="rd" clip-path="url(#cb)" points="160.6,226.3 165.8,239.1 172.1,252.4 178.4,264.0 181.5,269.2 185.7,275.6 193.0,285.5 200.3,293.9 204.5,298.2 208.6,302.1 212.8,305.7 218.0,309.8 227.4,316.3 237.9,322.3 248.3,327.4 260.9,332.7 274.4,337.5 290.1,342.4 307.9,347.2 327.7,352.1"/>
<polyline class="rs" clip-path="url(#cb)" points="160.6,239.5 165.8,248.6 171.0,256.7 177.3,265.3 183.6,273.0 189.8,279.8 197.2,286.9 204.5,293.3 212.8,299.9 221.2,306.0 230.6,312.4 241.0,319.0 253.5,326.5 267.1,334.2 283.8,343.4 327.7,366.6"/>
<polyline class="bd" clip-path="url(#cb)" points="160.6,287.6 161.6,298.6 162.7,303.4 163.7,305.7 165.8,308.4 169.0,311.2 174.2,315.4 178.4,318.3 183.6,321.6 188.8,324.5 194.0,327.0 199.2,329.2 205.5,331.5 216.0,334.6 226.4,337.0 238.9,339.2 252.5,340.9 267.1,342.2 284.9,343.2 304.7,344.0 327.7,344.5"/>
<polyline class="bs" clip-path="url(#cb)" points="160.6,298.9 161.6,306.8 162.7,312.6 163.7,316.9 164.8,320.2 165.8,322.7 166.9,324.8 169.0,327.8 171.0,330.2 173.1,332.0 176.3,334.4 179.4,336.4 186.7,340.1 195.1,343.3 203.4,345.6 213.9,347.6 225.4,349.1 237.9,350.2 252.5,351.0 271.3,351.6 327.7,352.6"/>
<polyline class="rd" clip-path="url(#cb)" points="167.6,221.1 172.8,237.0 178.0,250.6 181.1,257.9 184.3,264.6 190.5,276.3 196.8,286.2 199.9,290.5 204.1,295.8 207.2,299.4 211.4,303.8 215.6,307.7 219.8,311.3 228.1,317.5 237.5,323.3 248.0,328.7 259.5,333.6 273.0,338.4 287.7,342.9 305.4,347.7 327.7,353.1"/>
<polyline class="rs" clip-path="url(#cb)" points="167.6,232.4 171.7,242.7 177.0,253.8 182.2,263.3 187.4,271.6 192.6,278.7 198.9,286.2 206.2,293.8 213.5,300.4 221.9,307.1 230.2,313.1 239.6,319.3 251.1,326.4 264.7,334.3 280.4,343.0 327.7,368.4"/>
<polyline class="bd" clip-path="url(#cb)" points="167.6,284.3 168.6,295.5 169.7,300.3 170.7,302.8 171.7,304.4 173.8,306.7 178.0,310.7 182.2,314.2 186.4,317.4 191.6,321.0 196.8,324.1 202.0,326.9 207.2,329.3 212.5,331.5 222.9,335.1 233.4,337.9 244.8,340.3 257.4,342.2 272.0,343.8 287.7,345.1 306.5,346.0 327.7,346.7"/>
<polyline class="bs" clip-path="url(#cb)" points="167.6,295.1 168.6,302.4 169.7,307.7 170.7,311.7 172.8,317.1 173.8,319.1 175.9,322.1 178.0,324.3 181.1,327.1 184.3,329.3 187.4,331.3 194.7,335.0 203.1,338.2 211.4,340.6 220.8,342.6 232.3,344.2 244.8,345.5 259.5,346.4 276.2,347.0 327.7,348.0"/>
<polyline class="rd" clip-path="url(#cb)" points="174.5,216.1 178.7,232.0 183.9,248.9 189.1,263.0 194.4,274.9 197.5,281.1 200.6,286.7 203.8,291.7 206.9,296.3 210.0,300.5 214.2,305.4 217.3,308.8 221.5,312.8 225.7,316.3 229.9,319.5 238.2,324.9 247.6,329.9 259.1,334.9 271.7,339.3 286.3,343.7 304.0,348.4 327.7,354.0"/>
<polyline class="rs" clip-path="url(#cb)" points="174.5,225.3 177.7,235.7 181.8,247.7 186.0,257.8 191.2,268.4 196.5,277.2 201.7,284.7 207.9,292.3 215.3,299.8 222.6,306.2 229.9,311.9 239.3,318.6 249.7,325.3 262.3,333.0 276.9,341.5 327.7,370.2"/>
<polyline class="bd" clip-path="url(#cb)" points="174.5,281.9 175.6,291.9 176.6,296.3 177.7,298.6 178.7,300.1 180.8,302.4 185.0,306.2 189.1,309.7 193.3,312.9 198.5,316.4 203.8,319.5 209.0,322.3 214.2,324.8 219.4,327.0 228.8,330.3 239.3,333.3 250.8,335.8 263.3,337.9 276.9,339.6 291.5,340.9 308.2,341.9 327.7,342.8"/>
<polyline class="bs" clip-path="url(#cb)" points="174.5,291.8 175.6,299.4 176.6,304.9 177.7,309.1 179.7,315.0 180.8,317.1 182.9,320.4 185.0,323.0 188.1,326.1 191.2,328.8 194.4,331.1 198.5,333.7 202.7,336.1 206.9,338.1 211.1,339.8 219.4,342.6 228.8,344.9 239.3,346.7 251.8,348.3 265.4,349.4 282.1,350.2 301.9,350.9 327.7,351.4"/>
<polyline class="rd" clip-path="url(#cb)" points="181.5,213.1 185.7,231.5 189.8,247.2 191.9,254.2 195.1,263.6 200.3,277.0 205.5,288.1 208.6,293.7 211.8,298.8 214.9,303.4 218.0,307.4 221.2,311.1 225.4,315.4 228.5,318.3 232.7,321.7 236.8,324.7 241.0,327.4 245.2,329.8 250.4,332.5 260.9,337.0 272.3,341.0 287.0,345.3 304.7,349.7 327.7,355.0"/>
<polyline class="rs" clip-path="url(#cb)" points="181.5,220.2 184.6,231.7 188.8,244.6 193.0,255.4 197.2,264.4 201.3,272.1 206.6,280.3 211.8,287.2 218.0,294.2 224.3,300.4 231.6,306.8 240.0,313.4 250.4,321.1 261.9,329.0 276.5,338.7 327.7,371.9"/>
<polyline class="bd" clip-path="url(#cb)" points="181.5,279.1 182.5,288.9 183.6,293.3 184.6,295.7 185.7,297.2 187.8,299.7 191.9,303.9 196.1,307.7 200.3,311.2 205.5,315.1 210.7,318.6 216.0,321.7 221.2,324.5 226.4,327.0 235.8,330.8 245.2,333.8 256.7,336.8 268.2,339.1 280.7,341.1 294.3,342.7 309.9,344.0 327.7,345.0"/>
<polyline class="bs" clip-path="url(#cb)" points="181.5,288.5 182.5,295.6 183.6,300.9 184.6,305.0 185.7,308.1 187.8,312.8 190.9,317.5 193.0,319.9 196.1,323.0 202.4,328.1 209.7,332.7 213.9,334.9 218.0,336.8 226.4,339.9 235.8,342.5 246.2,344.6 257.7,346.2 270.3,347.5 285.9,348.5 304.7,349.3 327.7,349.9"/>
<polyline class="g" clip-path="url(#cb)" points="189.9,207.7 195.1,223.2 196.0,225.4 198.6,230.1 200.4,232.5 202.1,234.0 205.6,236.0 209.9,237.5 214.3,238.3 219.5,239.0 229.1,239.9 235.2,240.2 239.5,240.1 249.1,239.0 271.7,239.4 285.6,239.0 289.1,239.1 299.6,239.9 324.8,240.5"/>
<polyline class="rd" clip-path="url(#cc)" points="392.5,279.4 398.8,281.7 406.1,283.9 414.4,285.7 423.9,287.3 439.5,289.2 481.3,293.0 503.3,295.3 528.4,298.6 554.5,302.7 578.5,306.9 605.7,312.2 636.0,318.4 671.2,326.1"/>
<polyline class="bd" clip-path="url(#cc)" points="392.5,307.7 399.8,311.1 407.1,314.1 415.5,317.1 424.9,319.9 435.4,322.7 445.8,325.0 457.3,327.2 469.8,329.4 498.1,333.4 534.6,337.9 584.8,343.3 671.2,352.2"/>
<polyline class="bs" clip-path="url(#cc)" points="392.5,315.4 399.8,318.9 407.1,321.9 415.5,324.8 424.9,327.6 434.3,330.0 444.8,332.3 456.3,334.4 468.8,336.5 496.0,340.1 532.5,344.2 582.7,349.2 671.2,357.5"/>
<polyline class="rd" clip-path="url(#cc)" points="420.4,273.3 424.6,275.4 429.8,277.8 439.2,281.4 450.7,284.8 464.3,288.0 484.1,291.8 540.6,301.2 577.1,307.8 620.0,316.3 671.2,327.1"/>
<polyline class="bd" clip-path="url(#cc)" points="420.4,299.3 427.7,304.3 435.0,308.5 442.3,312.2 450.7,315.7 460.1,319.1 469.5,322.0 479.9,324.8 492.5,327.5 505.0,330.0 518.6,332.2 552.1,337.0 597.0,342.6 671.2,351.1"/>
<polyline class="bs" clip-path="url(#cc)" points="420.4,309.2 426.6,313.1 434.0,317.0 441.3,320.4 449.6,323.6 459.0,326.7 468.4,329.3 478.9,331.8 490.4,334.1 501.9,336.2 515.5,338.3 548.9,342.7 593.9,347.8 671.2,356.1"/>
<polyline class="rd" clip-path="url(#cc)" points="434.3,270.3 439.5,273.2 444.8,275.9 451.0,278.7 457.3,281.2 464.6,283.8 471.9,286.0 488.7,290.5 514.8,296.2 601.5,313.4 671.2,327.9"/>
<polyline class="bd" clip-path="url(#cc)" points="434.3,296.4 440.6,301.0 447.9,305.7 455.2,309.7 463.6,313.6 471.9,316.9 481.3,320.0 491.8,323.0 502.2,325.5 513.7,327.9 527.3,330.4 558.7,335.4 601.5,341.2 671.2,349.9"/>
<polyline class="bs" clip-path="url(#cc)" points="434.3,304.5 440.6,309.0 447.9,313.4 455.2,317.2 462.5,320.4 470.9,323.5 479.2,326.1 488.7,328.7 500.1,331.3 511.6,333.6 524.2,335.8 555.5,340.5 598.4,346.0 671.2,354.7"/>
<polyline class="rd" clip-path="url(#cc)" points="448.2,266.5 454.5,270.6 460.8,274.3 468.1,278.1 475.4,281.5 483.8,284.9 492.1,287.9 501.5,290.9 510.9,293.6 530.8,298.8 556.9,304.7 671.2,328.8"/>
<polyline class="bd" clip-path="url(#cc)" points="448.2,293.2 454.5,298.4 460.8,302.9 468.1,307.3 475.4,311.1 483.8,314.7 492.1,317.8 501.5,320.8 512.0,323.6 522.4,326.0 535.0,328.6 548.6,331.1 565.3,333.8 605.0,339.7 671.2,348.7"/>
<polyline class="bs" clip-path="url(#cc)" points="448.2,300.7 454.5,305.7 460.8,310.0 467.1,313.6 474.4,317.2 482.7,320.7 491.1,323.7 500.5,326.5 510.9,329.1 521.4,331.4 533.9,333.8 563.2,338.6 602.9,344.2 671.2,353.2"/>
<polyline class="rd" clip-path="url(#cc)" points="462.2,262.6 468.4,267.7 475.8,272.9 483.1,277.4 490.4,281.5 498.8,285.5 507.1,289.1 516.5,292.7 527.0,296.2 537.4,299.4 548.9,302.6 577.1,309.5 612.7,317.4 671.2,329.6"/>
<polyline class="bd" clip-path="url(#cc)" points="462.2,287.9 467.4,293.2 473.7,298.6 479.9,303.2 487.3,307.7 494.6,311.5 502.9,315.2 512.3,318.7 521.7,321.6 532.2,324.4 543.7,327.0 556.2,329.6 570.9,332.3 608.5,338.3 671.2,347.6"/>
<polyline class="bs" clip-path="url(#cc)" points="462.2,294.7 467.4,299.8 473.7,305.1 479.9,309.5 487.3,313.8 494.6,317.4 502.9,320.9 511.3,323.8 520.7,326.6 530.1,329.0 541.6,331.5 554.1,334.0 569.8,336.7 607.4,342.6 671.2,351.8"/>
<polyline class="rd" clip-path="url(#cc)" points="476.1,258.6 482.4,264.8 488.7,270.4 496.0,276.0 503.3,280.9 511.6,285.9 520.0,290.2 529.4,294.4 538.8,298.1 549.3,301.7 560.8,305.3 573.3,308.8 586.9,312.2 602.6,315.9 621.4,320.1 671.2,330.4"/>
<polyline class="bd" clip-path="url(#cc)" points="476.1,283.2 481.3,289.4 487.6,295.7 493.9,300.9 500.1,305.4 507.5,309.7 514.8,313.4 523.1,316.9 532.5,320.2 542.0,323.0 552.4,325.7 564.9,328.5 578.5,331.2 614.1,337.4 671.2,346.4"/>
<polyline class="bs" clip-path="url(#cc)" points="476.1,287.0 481.3,293.5 486.6,299.0 492.8,304.6 499.1,309.3 506.4,313.8 513.7,317.6 522.1,321.1 530.5,324.1 539.9,326.9 550.3,329.6 562.9,332.4 576.4,335.0 612.0,341.1 671.2,350.4"/>
<polyline class="rd" clip-path="url(#cc)" points="483.1,256.1 489.3,263.3 495.6,269.6 501.9,275.1 509.2,280.7 516.5,285.5 524.9,290.4 534.3,295.0 543.7,299.0 554.1,302.9 564.6,306.4 576.1,309.7 589.7,313.3 604.3,316.9 622.1,320.9 671.2,331.1"/>
<polyline class="bd" clip-path="url(#cc)" points="483.1,279.5 488.3,286.3 493.5,292.1 499.8,298.0 506.1,302.9 512.3,307.0 519.7,311.0 528.0,314.8 536.4,318.0 544.7,320.7 555.2,323.6 566.7,326.4 580.3,329.3 614.8,335.7 671.2,345.2"/>
<polyline class="bs" clip-path="url(#cc)" points="483.1,283.2 488.3,290.4 493.5,296.4 498.8,301.5 505.0,306.6 511.3,310.8 518.6,314.9 525.9,318.2 534.3,321.5 542.6,324.2 553.1,327.1 564.6,329.8 578.2,332.7 611.6,338.9 671.2,349.0"/>
<polyline class="rd" clip-path="url(#cc)" points="490.0,253.3 495.3,260.4 501.5,267.8 507.8,274.2 515.1,280.6 522.4,286.1 529.8,290.8 538.1,295.4 547.5,299.8 556.9,303.6 567.4,307.3 578.9,310.8 592.5,314.5 607.1,318.1 623.8,321.9 671.2,331.9"/>
<polyline class="bd" clip-path="url(#cc)" points="490.0,275.7 494.2,282.0 499.5,288.6 504.7,294.1 510.9,299.7 517.2,304.3 524.5,308.8 531.9,312.4 540.2,315.9 548.6,318.8 558.0,321.6 569.5,324.6 582.0,327.4 614.4,333.8 671.2,344.0"/>
<polyline class="bs" clip-path="url(#cc)" points="490.0,279.5 494.2,285.9 499.5,292.7 504.7,298.4 510.9,304.0 517.2,308.5 523.5,312.3 530.8,315.9 539.2,319.4 547.5,322.2 556.9,325.0 567.4,327.6 579.9,330.4 612.3,336.8 671.2,347.5"/>
<polyline class="rd" clip-path="url(#cc)" points="497.0,250.5 502.2,258.9 507.5,266.2 513.7,273.7 520.0,280.0 526.3,285.5 533.6,290.8 542.0,296.0 550.3,300.3 559.7,304.4 569.1,307.9 580.6,311.6 593.2,315.2 606.8,318.6 623.5,322.5 671.2,332.6"/>
<polyline class="bd" clip-path="url(#cc)" points="497.0,272.6 501.2,279.5 506.4,286.7 511.6,292.7 516.9,297.7 523.1,302.7 529.4,306.8 536.7,310.7 544.0,314.0 552.4,317.1 560.8,319.7 571.2,322.6 583.8,325.6 615.1,332.2 671.2,342.9"/>
<polyline class="bs" clip-path="url(#cc)" points="497.0,275.7 501.2,282.9 505.4,289.0 510.6,295.4 515.8,300.6 522.1,305.7 528.4,309.9 535.7,313.8 543.0,317.0 550.3,319.7 559.7,322.6 570.2,325.4 581.7,328.2 613.0,334.8 671.2,346.1"/>
<polyline class="rd" clip-path="url(#cc)" points="504.0,247.0 508.2,255.3 513.4,264.1 518.6,271.7 524.9,279.2 531.2,285.6 538.5,291.6 545.8,296.6 554.1,301.4 562.5,305.3 571.9,309.0 582.4,312.6 593.9,315.9 607.4,319.4 624.2,323.3 671.2,333.3"/>
<polyline class="bd" clip-path="url(#cc)" points="504.0,269.2 508.2,276.9 512.3,283.4 517.6,290.2 522.8,295.7 528.0,300.3 534.3,304.8 540.6,308.5 547.9,312.1 555.2,315.0 563.6,317.9 574.0,320.9 585.5,323.8 615.8,330.5 671.2,341.7"/>
<polyline class="bs" clip-path="url(#cc)" points="504.0,272.3 508.2,280.4 512.3,287.1 516.5,292.6 521.7,298.4 527.0,303.1 533.2,307.6 539.5,311.3 546.8,314.8 554.1,317.6 562.5,320.4 571.9,323.1 583.4,326.0 613.7,332.8 671.2,344.7"/>
<polyline class="rd" clip-path="url(#cc)" points="510.9,243.0 515.1,253.0 520.4,263.5 525.6,272.2 530.8,279.5 536.0,285.6 542.3,291.6 545.4,294.2 549.6,297.3 556.9,301.9 565.3,306.3 573.7,309.8 583.1,313.2 594.6,316.7 608.1,320.3 623.8,324.0 671.2,334.1"/>
<polyline class="bd" clip-path="url(#cc)" points="510.9,265.4 515.1,274.3 519.3,281.5 523.5,287.6 528.7,293.8 533.9,298.9 539.2,303.0 545.4,307.0 552.8,310.8 560.1,313.8 568.4,316.8 577.8,319.6 588.3,322.4 616.5,328.9 671.2,340.5"/>
<polyline class="bs" clip-path="url(#cc)" points="510.9,268.6 514.1,275.6 518.3,283.5 522.4,289.9 527.7,296.3 532.9,301.4 538.1,305.5 544.4,309.5 550.7,312.6 558.0,315.7 565.3,318.3 574.7,321.1 585.2,323.9 613.4,330.5 671.2,343.2"/>
<polyline class="rd" clip-path="url(#cc)" points="517.9,238.3 522.1,250.4 526.3,260.5 530.5,269.1 535.7,278.0 540.9,285.2 544.0,288.9 547.2,292.2 553.4,297.8 556.6,300.2 560.8,303.0 568.1,307.2 576.4,311.0 585.8,314.6 596.3,317.8 608.8,321.2 624.5,324.9 671.2,334.9"/>
<polyline class="bd" clip-path="url(#cc)" points="517.9,261.4 521.1,269.2 525.2,277.9 529.4,285.0 533.6,290.8 538.8,296.6 544.0,301.2 550.3,305.6 556.6,309.1 563.9,312.4 571.2,315.1 579.6,317.8 590.0,320.7 617.2,327.3 671.2,339.4"/>
<polyline class="bs" clip-path="url(#cc)" points="517.9,264.5 521.1,272.7 524.2,279.6 528.4,287.1 532.5,293.1 536.7,297.9 542.0,302.7 545.1,305.1 548.2,307.2 554.5,310.6 560.8,313.5 568.1,316.2 576.4,318.9 585.8,321.5 613.0,328.3 671.2,341.8"/>
<polyline class="rd" clip-path="url(#cc)" points="524.9,234.1 528.0,244.8 532.2,257.0 536.4,267.1 538.5,271.5 541.6,277.4 546.8,285.7 552.1,292.3 555.2,295.7 558.3,298.7 561.5,301.4 565.6,304.5 573.0,309.0 580.3,312.6 589.7,316.3 600.1,319.7 611.6,322.8 626.3,326.3 645.1,330.3 671.2,335.7"/>
<polyline class="bd" clip-path="url(#cc)" points="524.9,257.6 528.0,266.8 531.2,274.4 535.3,282.7 539.5,289.3 543.7,294.5 548.9,299.7 554.1,303.8 560.4,307.6 566.7,310.7 573.0,313.2 581.3,316.0 590.7,318.8 616.9,325.4 671.2,338.2"/>
<polyline class="bs" clip-path="url(#cc)" points="524.9,260.8 528.0,270.4 531.2,278.2 534.3,284.6 538.5,291.4 542.6,296.7 546.8,300.9 552.1,305.1 557.3,308.3 563.6,311.4 569.8,313.9 577.1,316.4 586.5,319.2 611.6,325.8 671.2,340.4"/>
<polyline class="rs" clip-path="url(#cc)" points="392.5,295.5 422.8,300.7 464.6,308.2 671.2,346.0"/>
<polyline class="rs" clip-path="url(#cc)" points="420.4,287.9 426.6,291.0 434.0,294.1 441.3,296.9 448.6,299.5 456.9,302.1 466.4,304.7 487.3,309.9 511.3,315.1 543.7,321.6 671.2,345.5"/>
<polyline class="rs" clip-path="url(#cc)" points="434.3,284.0 440.6,287.6 446.8,290.7 454.2,294.0 461.5,296.8 469.8,299.8 478.2,302.4 498.1,308.0 521.1,313.5 551.4,320.2 671.2,345.1"/>
<polyline class="rs" clip-path="url(#cc)" points="448.2,280.1 453.5,283.3 459.7,286.7 466.0,289.8 473.3,293.0 480.6,295.8 489.0,298.8 507.8,304.6 529.8,310.6 559.0,318.0 671.2,344.6"/>
<polyline class="rs" clip-path="url(#cc)" points="462.2,275.6 467.4,279.2 473.7,283.1 479.9,286.5 486.2,289.6 493.5,292.8 500.8,295.8 518.6,302.0 538.5,308.2 565.6,315.9 603.3,326.1 671.2,344.1"/>
<polyline class="rs" clip-path="url(#cc)" points="476.1,269.2 481.3,274.3 486.6,278.7 491.8,282.5 498.1,286.6 504.3,290.2 511.6,293.9 520.0,297.6 528.4,301.0 547.2,307.6 573.3,315.8 608.8,326.1 671.2,343.6"/>
<polyline class="rs" clip-path="url(#cc)" points="483.1,267.0 487.3,272.1 492.5,277.7 497.7,282.4 504.0,287.2 510.3,291.4 517.6,295.5 524.9,299.1 533.2,302.7 541.6,305.9 552.1,309.5 576.1,316.9 609.5,326.4 671.2,343.2"/>
<polyline class="rs" clip-path="url(#cc)" points="490.0,263.9 494.2,269.6 499.5,275.6 504.7,280.7 509.9,285.1 516.2,289.6 522.4,293.4 529.8,297.3 537.1,300.7 545.4,304.1 554.8,307.6 577.8,315.2 610.2,325.0 671.2,342.7"/>
<polyline class="rs" clip-path="url(#cc)" points="497.0,258.6 501.2,265.6 505.4,271.5 509.6,276.6 514.8,282.0 520.0,286.6 526.3,291.2 533.6,295.7 540.9,299.5 548.2,302.8 557.6,306.6 568.1,310.4 579.6,314.3 610.9,324.1 671.2,342.2"/>
<polyline class="rs" clip-path="url(#cc)" points="504.0,255.1 508.2,264.0 512.3,271.3 516.5,277.5 521.7,283.8 527.0,289.0 532.2,293.3 538.5,297.6 545.8,301.7 553.1,305.2 560.4,308.2 569.8,311.7 581.3,315.5 611.6,324.7 671.2,341.8"/>
<polyline class="rs" clip-path="url(#cc)" points="510.9,250.9 514.1,258.6 518.3,267.2 522.4,274.2 526.6,280.0 531.9,285.9 537.1,290.7 543.3,295.4 549.6,299.3 556.9,303.1 564.2,306.3 572.6,309.6 583.1,313.4 611.3,322.6 671.2,341.3"/>
<polyline class="rs" clip-path="url(#cc)" points="517.9,246.4 521.1,256.6 524.2,265.1 528.4,274.3 532.5,281.7 536.7,287.6 542.0,293.4 547.2,298.0 553.4,302.4 559.7,305.9 567.0,309.3 575.4,312.6 584.8,315.8 612.0,324.1 671.2,340.8"/>
<polyline class="rs" clip-path="url(#cc)" points="524.9,241.1 528.0,253.3 531.2,263.3 534.3,271.4 536.4,276.0 538.5,280.1 542.6,286.8 546.8,292.1 552.1,297.2 557.3,301.3 563.6,305.1 569.8,308.2 577.1,311.3 586.5,314.7 611.6,322.7 671.2,340.4"/>
<polyline class="g" clip-path="url(#cc)" points="532.9,208.6 539.0,222.4 541.6,226.2 543.3,228.0 546.8,230.2 549.4,231.4 552.1,232.0 559.0,232.9 573.8,233.3 588.6,233.3 600.8,232.7 616.5,233.0 640.0,232.0 642.6,232.3 648.7,233.7 652.2,234.1 659.2,234.5 668.8,234.5"/>
<polyline class="rd" clip-path="url(#cd)" points="49.2,445.8 54.4,448.3 60.7,451.0 67.0,453.3 73.2,455.2 80.5,457.2 86.8,458.6 93.1,459.6 99.3,460.3 109.8,460.8 123.4,461.1 134.8,460.8 148.4,460.1 156.8,459.4 163.0,458.6 175.6,456.4 183.9,454.4 188.1,454.0 190.2,454.2 192.3,454.7 205.9,459.1 211.1,460.4 222.6,462.3 239.3,464.2 254.9,465.3 281.1,465.8 293.6,466.2 298.8,466.8 313.4,469.3 316.6,469.7 318.6,469.6 321.8,469.3 324.9,468.6 327.7,467.8"/>
<polyline class="rs" clip-path="url(#cd)" points="49.2,470.3 57.6,472.6 64.9,474.3 70.1,475.1 82.6,476.5 88.9,476.9 95.2,477.0 102.5,476.7 110.8,475.9 120.2,474.7 124.4,473.9 143.2,468.9 152.6,466.2 160.9,463.5 171.4,459.5 181.8,455.9 185.0,455.0 188.1,454.6 192.3,455.0 198.5,456.2 207.9,459.0 215.3,460.4 225.7,461.9 242.4,463.5 256.0,464.3 281.1,464.7 293.6,465.1 298.8,465.7 313.4,468.2 316.6,468.5 318.6,468.5 321.8,468.1 324.9,467.5 327.7,466.6"/>
<polyline class="bd" clip-path="url(#cd)" points="49.2,516.7 51.3,519.4 53.4,521.6 55.5,523.4 58.6,525.4 60.7,526.4 63.8,527.5 67.0,528.3 70.1,528.7 73.2,528.8 77.4,528.7 85.8,527.9 102.5,525.1 115.0,522.5 125.4,519.8 135.9,516.7 145.3,513.3 152.6,510.2 159.9,506.4 168.3,501.5 172.4,498.6 186.0,488.4 191.2,485.0 193.3,484.0 195.4,483.3 197.5,482.7 199.6,482.4 201.7,482.5 204.8,482.9 228.8,487.1 242.4,488.5 253.9,489.4 275.8,490.1 292.5,491.0 306.1,491.5 314.5,492.3 317.6,492.4 319.7,492.2 321.8,491.8 324.9,490.8 327.7,489.6"/>
<polyline class="bs" clip-path="url(#cd)" points="49.2,519.6 54.4,524.8 59.6,529.2 61.7,530.5 64.9,532.2 71.1,535.1 75.3,536.4 82.6,537.5 89.9,538.1 95.2,537.9 114.0,534.9 121.3,533.3 129.6,530.2 139.0,526.3 144.2,523.8 148.4,521.4 153.6,518.0 158.9,514.3 164.1,510.2 169.3,505.8 178.7,496.1 186.0,490.1 192.3,485.7 194.4,484.8 197.5,483.8 199.6,483.5 202.7,483.7 228.8,488.3 243.5,489.8 254.9,490.6 275.8,491.2 292.5,492.2 306.1,492.6 314.5,493.5 317.6,493.6 319.7,493.4 321.8,493.0 324.9,491.9 327.7,490.8"/>
<polyline class="rd" clip-path="url(#cd)" points="77.1,441.7 82.3,444.9 86.4,447.2 91.7,449.6 96.9,451.5 103.2,453.4 109.4,454.8 116.7,456.0 124.0,457.0 131.4,457.6 139.7,457.9 148.1,458.0 156.4,457.7 165.8,456.9 175.2,455.4 183.6,453.7 186.7,453.3 188.8,453.3 191.9,453.9 206.6,458.9 210.7,459.9 222.2,461.9 238.9,463.9 248.3,464.8 255.6,465.2 281.7,465.7 294.3,466.2 299.5,466.8 313.1,469.2 316.2,469.6 318.3,469.6 321.4,469.3 324.6,468.6 327.7,467.7"/>
<polyline class="rs" clip-path="url(#cd)" points="77.1,462.7 82.3,465.6 87.5,468.0 91.7,469.5 96.9,470.9 102.1,471.9 107.3,472.4 113.6,472.8 120.9,472.8 125.1,472.4 130.3,471.6 141.8,469.3 149.1,467.6 161.6,464.1 172.1,460.4 182.5,456.9 185.7,456.2 188.8,456.0 193.0,456.5 199.2,457.8 207.6,460.5 214.9,462.0 225.4,463.5 242.1,465.2 255.6,466.0 281.7,466.4 294.3,466.9 299.5,467.5 313.1,469.9 316.2,470.2 318.3,470.2 321.4,469.9 324.6,469.3 327.7,468.4"/>
<polyline class="bd" clip-path="url(#cd)" points="77.1,507.6 79.1,511.2 82.3,515.4 85.4,518.4 87.5,519.9 89.6,521.1 93.8,522.7 97.9,523.7 103.2,524.1 108.4,524.0 112.6,523.6 117.8,522.8 129.3,520.1 140.8,516.5 151.2,512.4 159.6,508.2 169.0,502.6 185.7,490.2 190.9,486.8 194.0,485.4 198.2,484.1 200.3,484.0 203.4,484.2 223.3,487.8 229.5,488.8 243.1,490.2 254.6,491.0 276.5,491.7 292.2,492.6 306.8,493.1 317.3,494.0 319.3,493.9 322.5,493.2 327.7,491.2"/>
<polyline class="bs" clip-path="url(#cd)" points="77.1,508.6 79.1,515.4 80.2,518.2 82.3,522.9 85.4,528.1 88.5,531.6 91.7,534.0 93.8,535.0 95.8,535.6 100.0,536.2 107.3,535.9 115.7,535.0 119.9,534.1 123.0,533.3 128.2,531.4 138.7,527.1 142.8,525.1 146.0,523.4 150.2,520.9 155.4,517.4 164.8,510.3 170.0,505.7 178.4,497.1 185.7,491.0 190.9,487.3 193.0,486.0 196.1,484.9 198.2,484.3 200.3,484.2 203.4,484.4 223.3,488.0 229.5,489.0 243.1,490.4 254.6,491.2 276.5,491.9 292.2,492.8 306.8,493.3 317.3,494.2 319.3,494.1 322.5,493.4 327.7,491.4"/>
<polyline class="rd" clip-path="url(#cd)" points="91.0,439.4 95.2,442.2 99.3,444.7 104.6,447.2 109.8,449.3 116.0,451.4 122.3,453.1 128.6,454.3 134.8,455.2 142.1,455.9 148.4,456.3 154.7,456.4 160.9,456.2 166.2,455.7 174.5,454.6 183.9,452.9 188.1,452.6 190.2,452.9 192.3,453.4 205.9,458.1 211.1,459.5 222.6,461.6 239.3,463.6 248.7,464.4 256.0,464.8 281.1,465.3 293.6,465.8 298.8,466.4 313.4,468.9 316.6,469.2 318.6,469.2 321.8,468.9 324.9,468.2 327.7,467.4"/>
<polyline class="rs" clip-path="url(#cd)" points="91.0,458.7 94.1,460.8 97.2,462.4 100.4,463.9 104.6,465.4 108.7,466.6 112.9,467.5 118.1,468.3 122.3,468.7 127.5,468.5 132.8,468.0 142.1,466.7 150.5,465.1 162.0,462.1 172.4,458.6 182.9,455.3 186.0,454.7 188.1,454.5 192.3,454.9 198.5,456.2 207.9,459.2 215.3,460.7 225.7,462.2 242.4,463.9 256.0,464.7 281.1,465.1 293.6,465.5 298.8,466.1 313.4,468.6 316.6,469.0 318.6,468.9 321.8,468.6 324.9,467.9 327.7,467.1"/>
<polyline class="bd" clip-path="url(#cd)" points="91.0,502.9 93.1,506.9 96.2,511.6 99.3,515.1 102.5,517.5 105.6,519.2 109.8,520.6 114.0,521.2 118.1,521.3 125.4,520.5 133.8,518.6 143.2,515.7 148.4,513.8 152.6,512.0 159.9,508.2 168.3,503.3 172.4,500.4 186.0,490.2 190.2,487.5 193.3,485.9 196.5,484.8 198.5,484.3 200.6,484.2 203.8,484.5 228.8,488.9 242.4,490.4 253.9,491.2 275.8,491.9 292.5,492.9 306.1,493.3 314.5,494.2 317.6,494.3 319.7,494.1 321.8,493.7 324.9,492.6 327.7,491.4"/>
<polyline class="bs" clip-path="url(#cd)" points="91.0,503.8 93.1,511.7 95.2,517.6 97.2,522.0 98.3,523.7 100.4,526.5 103.5,529.3 105.6,530.6 107.7,531.5 111.9,532.5 114.0,532.7 117.1,532.7 122.3,531.9 125.4,531.0 129.6,529.6 141.1,524.9 145.3,522.8 149.5,520.3 157.8,514.7 167.2,507.3 170.3,504.4 178.7,495.7 185.0,490.5 192.3,485.3 194.4,484.4 197.5,483.5 199.6,483.2 202.7,483.3 228.8,487.9 243.5,489.4 254.9,490.2 275.8,490.8 292.5,491.8 306.1,492.2 314.5,493.1 317.6,493.2 319.7,493.0 321.8,492.6 324.9,491.5 327.7,490.4"/>
<polyline class="rd" clip-path="url(#cd)" points="104.9,436.7 109.1,439.8 114.3,443.1 119.5,445.9 123.7,447.8 128.9,449.7 134.1,451.2 139.4,452.4 145.6,453.4 155.0,454.3 163.4,454.4 174.9,453.4 184.3,451.9 188.5,451.8 190.5,452.1 192.6,452.7 206.2,457.6 210.4,458.8 216.6,460.0 222.9,461.1 238.6,463.0 248.0,463.9 255.3,464.3 282.4,464.9 293.9,465.3 300.2,466.1 313.8,468.5 316.9,468.8 322.1,468.3 327.7,466.9"/>
<polyline class="rs" clip-path="url(#cd)" points="104.9,453.5 108.0,455.9 111.2,457.9 114.3,459.6 118.5,461.5 121.6,462.6 124.7,463.3 131.0,464.0 136.2,464.1 142.5,463.9 147.7,463.4 154.0,462.5 162.3,460.7 183.2,454.5 186.4,453.9 188.5,453.8 192.6,454.3 198.9,455.8 208.3,458.8 214.6,460.1 225.0,461.7 241.7,463.4 255.3,464.3 281.4,464.7 293.9,465.2 300.2,466.0 313.8,468.3 316.9,468.6 322.1,468.2 327.7,466.7"/>
<polyline class="bd" clip-path="url(#cd)" points="104.9,498.6 107.0,502.9 110.1,507.9 112.2,510.4 115.3,513.2 118.5,515.0 121.6,516.2 125.8,516.9 130.0,517.0 135.2,516.4 141.5,515.0 148.8,512.6 155.0,509.9 161.3,506.6 168.6,502.3 172.8,499.4 186.4,489.3 190.5,486.6 193.7,485.0 196.8,484.0 198.9,483.6 201.0,483.5 204.1,483.9 222.9,487.3 229.2,488.3 242.8,489.7 254.2,490.6 276.2,491.2 291.8,492.1 306.5,492.6 316.9,493.6 319.0,493.5 322.1,492.9 327.7,490.7"/>
<polyline class="bs" clip-path="url(#cd)" points="104.9,499.5 107.0,508.3 109.1,514.8 111.2,519.8 113.3,523.4 115.3,526.1 116.4,527.1 118.5,528.7 121.6,530.0 123.7,530.3 125.8,530.4 127.9,530.1 131.0,529.5 139.4,526.8 144.6,524.5 150.9,520.9 159.2,515.1 167.6,508.4 170.7,505.5 178.0,497.9 185.3,491.8 192.6,486.6 195.8,485.4 197.8,484.9 199.9,484.6 204.1,485.0 222.9,488.4 229.2,489.4 242.8,490.8 254.2,491.7 276.2,492.4 291.8,493.2 306.5,493.7 316.9,494.7 319.0,494.6 322.1,494.0 327.7,491.8"/>
<polyline class="rd" clip-path="url(#cd)" points="118.8,434.4 123.0,438.0 127.2,441.0 131.4,443.6 135.5,445.7 139.7,447.5 144.9,449.2 150.2,450.6 155.4,451.6 161.6,452.3 166.9,452.3 175.2,452.0 184.6,450.8 188.8,450.9 191.9,451.6 206.6,457.1 212.8,458.7 219.1,459.9 226.4,461.0 246.2,463.3 256.7,463.9 281.7,464.4 294.3,464.9 299.5,465.6 313.1,467.9 316.2,468.3 318.3,468.3 321.4,468.0 324.6,467.4 327.7,466.4"/>
<polyline class="rs" clip-path="url(#cd)" points="118.8,449.7 120.9,451.7 124.0,454.3 127.2,456.2 130.3,457.8 133.4,459.0 137.6,460.2 140.8,460.9 144.9,461.4 152.2,461.7 160.6,460.9 165.8,459.8 182.5,455.6 185.7,455.0 187.8,454.9 190.9,455.2 195.1,456.1 200.3,457.4 207.6,460.0 213.9,461.4 225.4,463.2 241.0,464.9 255.6,465.9 281.7,466.3 294.3,466.7 299.5,467.4 313.1,469.7 316.2,470.1 318.3,470.1 321.4,469.8 324.6,469.2 327.7,468.2"/>
<polyline class="bd" clip-path="url(#cd)" points="118.8,495.1 120.9,499.4 123.0,502.8 125.1,505.5 127.2,507.6 129.3,509.1 132.4,510.7 135.5,511.6 139.7,512.0 143.9,511.7 149.1,510.5 153.3,509.1 158.5,506.8 164.8,503.5 170.0,500.3 185.7,488.8 190.9,485.4 193.0,484.4 195.1,483.6 197.2,483.0 199.2,482.6 201.3,482.6 204.5,483.0 228.5,487.3 242.1,488.7 253.5,489.6 276.5,490.3 292.2,491.2 306.8,491.7 317.3,492.7 319.3,492.5 322.5,491.8 327.7,489.8"/>
<polyline class="bs" clip-path="url(#cd)" points="118.8,495.8 119.9,500.4 122.0,507.8 124.0,513.1 126.1,516.9 128.2,519.5 129.3,520.5 131.4,521.9 134.5,523.0 137.6,523.2 140.8,522.9 144.9,521.6 150.2,519.1 155.4,515.9 161.6,511.4 167.9,506.3 171.0,503.3 178.4,495.8 184.6,490.5 191.9,485.2 194.0,484.2 198.2,483.0 200.3,482.9 203.4,483.1 223.3,486.7 229.5,487.7 243.1,489.1 254.6,489.9 276.5,490.6 292.2,491.5 306.8,492.0 317.3,492.9 319.3,492.8 322.5,492.1 327.7,490.1"/>
<polyline class="rd" clip-path="url(#cd)" points="132.8,430.5 138.0,435.8 141.1,438.4 144.2,440.6 147.4,442.6 150.5,444.3 156.8,446.9 163.0,448.6 169.3,449.4 175.6,449.7 185.0,449.3 189.1,449.6 192.3,450.6 197.5,452.8 207.9,456.8 213.2,458.2 219.4,459.5 226.7,460.6 235.1,461.7 250.8,463.3 258.1,463.6 283.1,464.1 294.6,464.6 299.9,465.3 313.4,467.6 316.6,468.0 318.6,468.0 321.8,467.6 324.9,467.0 327.7,466.1"/>
<polyline class="rs" clip-path="url(#cd)" points="132.8,444.5 134.8,446.7 138.0,449.4 141.1,451.7 144.2,453.5 147.4,454.9 150.5,455.9 153.6,456.6 156.8,457.1 160.9,457.4 165.1,457.1 175.6,455.6 183.9,453.9 188.1,453.7 192.3,454.4 198.5,456.1 207.9,459.3 213.2,460.6 223.6,462.3 239.3,464.1 254.9,465.3 281.1,465.7 293.6,466.1 298.8,466.7 313.4,469.2 316.6,469.5 318.6,469.5 321.8,469.2 324.9,468.5 327.7,467.7"/>
<polyline class="bd" clip-path="url(#cd)" points="132.8,490.5 135.9,496.8 138.0,499.9 140.1,502.2 142.1,503.9 145.3,505.6 147.4,506.2 150.5,506.6 153.6,506.4 156.8,505.7 160.9,504.3 165.1,502.4 168.3,500.8 171.4,498.8 186.0,488.3 190.2,485.6 193.3,484.0 196.5,483.0 198.5,482.5 200.6,482.4 203.8,482.7 228.8,487.2 242.4,488.6 253.9,489.5 275.8,490.1 292.5,491.1 306.1,491.5 314.5,492.4 317.6,492.5 319.7,492.3 321.8,491.9 324.9,490.8 327.7,489.7"/>
<polyline class="bs" clip-path="url(#cd)" points="132.8,491.5 133.8,496.3 135.9,503.8 136.9,506.8 139.0,511.3 141.1,514.4 143.2,516.5 145.3,517.6 146.3,517.9 148.4,518.2 150.5,518.0 153.6,517.1 156.8,515.6 160.9,513.1 168.3,507.7 178.7,497.2 185.0,492.1 192.3,486.9 195.4,485.6 198.5,484.8 200.6,484.7 203.8,485.0 228.8,489.4 242.4,490.9 253.9,491.7 275.8,492.4 292.5,493.3 306.1,493.8 314.5,494.6 317.6,494.8 319.7,494.6 321.8,494.1 324.9,493.1 327.7,491.9"/>
<polyline class="rd" clip-path="url(#cd)" points="139.7,428.5 141.8,431.3 144.9,435.1 150.2,440.1 155.4,443.9 158.5,445.7 161.6,447.2 166.9,448.9 173.1,450.0 177.3,450.4 185.7,450.5 188.8,450.9 191.9,451.9 197.2,454.2 206.6,458.1 209.7,459.1 216.0,460.6 227.4,462.6 245.2,464.6 256.7,465.4 282.8,465.9 294.3,466.4 299.5,467.0 313.1,469.4 316.2,469.7 318.3,469.7 321.4,469.4 324.6,468.8 327.7,467.9"/>
<polyline class="rs" clip-path="url(#cd)" points="139.7,441.2 141.8,443.9 144.9,447.2 147.0,449.1 150.2,451.3 152.2,452.5 155.4,454.0 158.5,455.0 161.6,455.6 164.8,455.9 169.0,455.8 176.3,455.2 183.6,454.0 187.8,453.9 190.9,454.3 194.0,455.1 200.3,456.9 207.6,459.6 212.8,460.9 224.3,462.8 238.9,464.5 248.3,465.3 255.6,465.7 281.7,466.1 294.3,466.6 299.5,467.2 313.1,469.5 316.2,469.9 318.3,469.9 321.4,469.6 324.6,469.0 327.7,468.0"/>
<polyline class="bd" clip-path="url(#cd)" points="139.7,488.6 140.8,491.2 142.8,495.4 144.9,498.6 147.0,501.0 149.1,502.7 151.2,503.9 153.3,504.6 156.4,504.9 158.5,504.8 161.6,504.1 164.8,503.1 167.9,501.7 173.1,498.7 186.7,489.2 190.9,486.6 193.0,485.6 195.1,484.8 197.2,484.2 199.2,483.9 201.3,483.9 204.5,484.3 228.5,488.6 242.1,490.0 253.5,490.9 276.5,491.6 292.2,492.5 306.8,493.0 317.3,494.0 319.3,493.8 322.5,493.1 327.7,491.1"/>
<polyline class="bs" clip-path="url(#cd)" points="139.7,489.6 140.8,494.3 142.8,501.5 143.9,504.3 146.0,508.4 148.1,511.0 150.2,512.7 152.2,513.4 154.3,513.6 156.4,513.3 158.5,512.7 161.6,511.2 164.8,509.3 169.0,506.2 178.4,496.9 185.7,490.9 190.9,487.2 193.0,485.9 196.1,484.8 198.2,484.3 200.3,484.1 203.4,484.4 223.3,488.0 229.5,488.9 243.1,490.4 254.6,491.2 276.5,491.9 292.2,492.7 306.8,493.3 317.3,494.2 319.3,494.1 322.5,493.4 327.7,491.4"/>
<polyline class="rd" clip-path="url(#cd)" points="146.7,425.5 150.9,431.7 155.0,436.6 157.1,438.6 160.3,441.1 162.3,442.5 165.5,444.3 169.7,445.9 174.9,447.4 178.0,447.8 186.4,448.4 189.5,449.1 191.6,449.8 197.8,452.7 206.2,456.2 209.3,457.3 214.6,458.6 220.8,459.8 227.1,460.8 244.8,462.8 256.3,463.6 281.4,464.0 293.9,464.5 299.2,465.1 315.9,467.8 318.0,467.9 321.1,467.6 324.2,467.0 327.7,466.0"/>
<polyline class="rs" clip-path="url(#cd)" points="146.7,437.4 148.8,440.5 150.9,443.1 152.9,445.4 156.1,448.0 158.2,449.4 161.3,451.0 163.4,451.7 166.5,452.4 169.7,452.7 174.9,452.9 184.3,452.1 188.5,452.2 193.7,453.4 199.9,455.3 208.3,458.3 213.5,459.5 226.0,461.5 243.8,463.4 256.3,464.2 281.4,464.5 293.9,465.0 300.2,465.8 313.8,468.1 316.9,468.4 322.1,467.9 327.7,466.5"/>
<polyline class="bd" clip-path="url(#cd)" points="146.7,486.6 147.7,489.1 149.8,493.1 150.9,494.8 152.9,497.3 155.0,499.0 157.1,500.2 159.2,500.8 161.3,501.0 163.4,500.9 165.5,500.6 168.6,499.7 170.7,498.7 175.9,495.7 186.4,488.6 191.6,485.5 195.8,483.9 198.9,483.2 201.0,483.2 204.1,483.5 222.9,487.0 229.2,488.0 242.8,489.4 254.2,490.2 276.2,490.9 291.8,491.8 306.5,492.3 316.9,493.3 319.0,493.2 322.1,492.5 327.7,490.4"/>
<polyline class="bs" clip-path="url(#cd)" points="146.7,487.7 148.8,495.6 149.8,498.5 151.9,502.9 152.9,504.5 155.0,506.6 157.1,507.8 159.2,508.2 161.3,508.0 163.4,507.4 167.6,505.3 170.7,502.9 179.1,495.0 187.4,488.5 192.6,484.9 195.8,483.8 198.9,483.0 201.0,483.0 204.1,483.3 222.9,486.8 229.2,487.7 242.8,489.2 254.2,490.0 276.2,490.7 291.8,491.6 306.5,492.1 316.9,493.0 319.0,492.9 322.1,492.3 327.7,490.2"/>
<polyline class="rd" clip-path="url(#cd)" points="153.6,421.4 156.8,427.8 158.9,431.3 160.9,434.4 163.0,437.1 165.1,439.3 167.2,441.3 170.3,443.6 173.5,445.5 176.6,446.9 179.7,447.8 187.1,449.4 190.2,450.4 197.5,454.1 204.8,457.4 207.9,458.7 211.1,459.6 218.4,461.3 226.7,462.7 239.3,464.2 249.7,465.2 257.0,465.5 281.1,465.9 293.6,466.3 298.8,466.9 313.4,469.4 316.6,469.7 318.6,469.7 321.8,469.4 324.9,468.7 327.7,467.9"/>
<polyline class="rs" clip-path="url(#cd)" points="153.6,432.7 156.8,438.6 158.9,441.8 160.9,444.4 164.1,447.4 166.2,448.8 168.3,449.9 171.4,451.2 175.6,452.2 178.7,452.5 186.0,452.7 189.1,453.2 199.6,456.5 207.9,459.7 214.2,461.1 220.5,462.2 227.8,463.2 248.7,465.3 257.0,465.7 282.1,466.0 294.6,466.5 299.9,467.2 313.4,469.5 316.6,469.8 318.6,469.8 321.8,469.5 324.9,468.8 327.7,467.9"/>
<polyline class="bd" clip-path="url(#cd)" points="153.6,484.5 154.7,486.9 156.8,490.7 157.8,492.2 159.9,494.4 160.9,495.3 163.0,496.4 165.1,497.1 167.2,497.3 170.3,496.9 174.5,495.2 179.7,492.4 187.1,487.6 192.3,484.7 196.5,483.3 199.6,482.8 203.8,483.2 222.6,486.6 228.8,487.6 242.4,489.1 253.9,489.9 275.8,490.6 292.5,491.5 306.1,492.0 314.5,492.8 317.6,493.0 319.7,492.8 321.8,492.3 324.9,491.3 327.7,490.1"/>
<polyline class="bs" clip-path="url(#cd)" points="153.6,485.3 155.7,492.8 156.8,495.5 158.9,499.4 159.9,500.8 162.0,502.6 163.0,503.1 165.1,503.5 166.2,503.5 168.3,503.0 170.3,501.9 172.4,500.4 178.7,495.1 181.8,492.6 192.3,485.3 196.5,483.7 199.6,483.2 201.7,483.2 204.8,483.6 228.8,487.9 242.4,489.3 253.9,490.2 275.8,490.9 292.5,491.8 306.1,492.2 314.5,493.1 317.6,493.2 319.7,493.0 321.8,492.6 324.9,491.6 327.7,490.4"/>
<polyline class="rd" clip-path="url(#cd)" points="160.6,416.3 163.7,424.1 166.9,430.2 169.0,433.5 171.0,436.3 173.1,438.6 175.2,440.6 177.3,442.2 180.4,443.9 188.8,447.3 198.2,452.6 205.5,456.1 209.7,457.6 217.0,459.4 224.3,460.7 236.8,462.3 248.3,463.4 256.7,463.8 281.7,464.2 294.3,464.7 299.5,465.3 313.1,467.6 316.2,468.0 318.3,468.0 321.4,467.7 324.6,467.1 327.7,466.1"/>
<polyline class="rs" clip-path="url(#cd)" points="160.6,427.9 163.7,435.3 166.9,440.6 170.0,444.4 172.1,446.3 174.2,447.9 176.3,449.1 178.4,449.9 188.8,452.3 200.3,456.4 206.6,459.0 210.7,460.2 217.0,461.5 223.3,462.5 242.1,464.6 255.6,465.5 281.7,465.8 294.3,466.3 299.5,466.9 313.1,469.3 316.2,469.6 318.3,469.7 321.4,469.4 324.6,468.7 327.7,467.8"/>
<polyline class="bd" clip-path="url(#cd)" points="160.6,481.5 162.7,486.2 163.7,488.0 165.8,490.8 166.9,491.8 169.0,493.2 170.0,493.6 172.1,494.0 175.2,493.8 178.4,492.8 181.5,491.4 191.9,485.8 196.1,484.4 199.2,483.9 201.3,484.0 204.5,484.4 222.2,487.8 228.5,488.8 242.1,490.2 253.5,491.1 276.5,491.8 292.2,492.7 306.8,493.2 317.3,494.2 319.3,494.0 322.5,493.3 327.7,491.3"/>
<polyline class="bs" clip-path="url(#cd)" points="160.6,482.5 162.7,489.7 164.8,494.4 166.9,497.3 167.9,498.1 169.0,498.7 170.0,499.0 172.1,498.8 175.2,497.4 190.9,487.2 193.0,486.0 197.2,484.7 199.2,484.4 201.3,484.4 204.5,484.8 228.5,489.1 242.1,490.5 253.5,491.4 276.5,492.1 292.2,493.0 306.8,493.5 317.3,494.5 319.3,494.3 322.5,493.6 327.7,491.6"/>
<polyline class="rd" clip-path="url(#cd)" points="167.6,411.3 170.7,421.8 173.8,429.7 177.0,435.6 180.1,439.7 182.2,441.9 184.3,443.6 196.8,452.7 203.1,456.3 208.3,458.7 214.6,460.5 222.9,462.1 234.4,463.6 246.9,464.8 256.3,465.3 281.4,465.7 293.9,466.1 300.2,466.9 313.8,469.2 316.9,469.5 322.1,469.1 327.7,467.6"/>
<polyline class="rs" clip-path="url(#cd)" points="167.6,422.2 169.7,428.7 172.8,435.9 175.9,441.1 179.1,444.4 181.1,446.0 183.2,447.2 193.7,452.2 206.2,457.6 209.3,458.7 215.6,460.1 221.9,461.1 241.7,463.3 255.3,464.2 281.4,464.6 293.9,465.0 299.2,465.6 315.9,468.4 318.0,468.4 321.1,468.1 324.2,467.5 327.7,466.5"/>
<polyline class="bd" clip-path="url(#cd)" points="167.6,478.4 169.7,482.6 171.7,485.3 172.8,486.3 174.9,487.5 175.9,487.9 178.0,488.2 180.1,488.1 182.2,487.6 191.6,483.7 193.7,483.1 197.8,482.1 199.9,482.0 204.1,482.5 221.9,485.9 228.1,487.0 241.7,488.5 253.2,489.3 276.2,490.1 291.8,491.0 306.5,491.5 316.9,492.4 319.0,492.3 322.1,491.7 327.7,489.6"/>
<polyline class="bs" clip-path="url(#cd)" points="167.6,479.6 168.6,483.3 169.7,486.1 170.7,488.3 171.7,490.0 172.8,491.2 173.8,492.0 175.9,492.7 178.0,492.8 181.1,492.0 185.3,490.2 192.6,486.2 196.8,484.9 199.9,484.5 204.1,484.9 228.1,489.2 241.7,490.7 253.2,491.6 276.2,492.3 291.8,493.2 306.5,493.7 316.9,494.7 319.0,494.6 322.1,494.0 327.7,491.8"/>
<polyline class="rd" clip-path="url(#cd)" points="174.5,406.1 176.6,415.6 178.7,423.1 181.8,431.4 185.0,437.2 187.1,440.3 190.2,444.1 193.3,447.6 196.5,450.5 198.5,452.1 202.7,454.8 207.9,457.5 214.2,459.4 222.6,461.0 233.0,462.4 246.6,463.7 257.0,464.2 281.1,464.5 293.6,465.0 298.8,465.5 313.4,468.0 316.6,468.4 318.6,468.3 321.8,468.0 324.9,467.3 327.7,466.5"/>
<polyline class="rs" clip-path="url(#cd)" points="174.5,416.1 176.6,425.1 178.7,432.0 179.7,434.7 181.8,439.2 185.0,444.1 189.1,448.7 191.2,450.5 194.4,452.8 198.5,455.3 204.8,458.5 207.9,459.8 214.2,461.4 222.6,462.9 235.1,464.3 247.6,465.4 257.0,465.9 281.1,466.2 293.6,466.6 298.8,467.2 313.4,469.7 316.6,470.0 318.6,470.0 321.8,469.7 324.9,469.0 327.7,468.2"/>
<polyline class="bd" clip-path="url(#cd)" points="174.5,475.4 176.6,479.5 178.7,482.3 180.8,484.1 181.8,484.6 183.9,485.1 187.1,485.1 193.3,484.0 197.5,483.4 199.6,483.4 202.7,483.8 210.0,485.4 225.7,488.4 242.4,490.3 256.0,491.3 275.8,491.9 292.5,492.8 307.2,493.3 316.6,494.2 318.6,494.2 321.8,493.6 324.9,492.6 327.7,491.4"/>
<polyline class="bs" clip-path="url(#cd)" points="174.5,476.3 176.6,481.4 178.7,484.4 180.8,486.1 181.8,486.6 183.9,486.9 186.0,486.8 188.1,486.3 193.3,484.2 197.5,483.3 199.6,483.2 203.8,483.6 227.8,488.0 241.4,489.5 252.9,490.4 275.8,491.2 292.5,492.1 306.1,492.6 314.5,493.4 317.6,493.5 319.7,493.3 321.8,492.9 324.9,491.9 327.7,490.7"/>
<polyline class="rd" clip-path="url(#cd)" points="181.5,403.1 183.6,415.1 185.7,424.2 186.7,427.9 188.8,434.2 191.9,441.4 195.1,446.8 198.2,450.8 200.3,452.8 203.4,455.3 206.6,457.3 208.6,458.3 214.9,460.3 222.2,461.8 231.6,463.0 246.2,464.4 256.7,464.9 280.7,465.2 293.2,465.7 298.5,466.2 313.1,468.7 316.2,469.1 318.3,469.1 321.4,468.8 324.6,468.1 327.7,467.2"/>
<polyline class="rs" clip-path="url(#cd)" points="181.5,409.2 183.6,420.9 185.7,429.6 187.8,436.1 188.8,438.8 190.9,443.3 194.0,448.2 197.2,451.7 200.3,454.3 203.4,456.4 206.6,458.2 208.6,459.1 214.9,460.8 222.2,462.2 233.7,463.5 247.3,464.7 256.7,465.2 280.7,465.5 293.2,465.9 298.5,466.5 313.1,469.0 316.2,469.4 318.3,469.4 321.4,469.1 324.6,468.4 327.7,467.5"/>
<polyline class="bd" clip-path="url(#cd)" points="181.5,469.2 183.6,473.6 185.7,476.4 187.8,478.3 189.8,479.4 194.0,480.4 199.2,481.1 210.7,484.1 227.4,487.3 240.0,488.7 252.5,489.8 276.5,490.6 292.2,491.4 306.8,491.9 316.2,492.9 318.3,492.9 321.4,492.3 324.6,491.4 327.7,490.0"/>
<polyline class="bs" clip-path="url(#cd)" points="181.5,470.6 182.5,473.6 184.6,477.7 186.7,480.2 188.8,481.4 190.9,481.8 198.2,481.9 200.3,482.1 210.7,484.3 228.5,487.5 241.0,488.9 252.5,489.8 276.5,490.6 292.2,491.5 306.8,492.0 316.2,492.9 318.3,492.9 321.4,492.4 324.6,491.4 327.7,490.1"/>
<polyline class="g" clip-path="url(#cd)" points="190.2,433.6 192.8,437.3 194.5,439.2 197.2,441.2 199.8,442.6 205.0,443.7 229.4,446.8 250.2,448.2 258.9,448.4 262.4,448.1 269.4,447.2 276.4,445.9 279.8,445.7 285.1,446.5 290.3,447.5 297.2,449.3 300.7,449.5 306.8,449.1 315.5,448.1 319.9,447.2 326.0,445.7"/>
<polyline class="rd" clip-path="url(#ce)" points="392.8,470.5 401.2,473.4 409.5,475.6 417.9,477.3 427.3,478.6 437.7,479.6 447.1,479.9 456.5,479.7 464.9,479.0 471.1,477.9 480.5,475.5 487.8,473.3 494.1,471.0 498.3,469.2 501.4,467.6 523.3,454.5 527.5,452.3 530.7,451.0 533.8,450.1 536.9,449.3 540.1,449.0 544.2,448.9 547.4,449.1 555.7,451.0 562.0,452.1 568.3,453.1 573.5,453.6 600.6,454.3 627.8,454.2 661.2,456.2 671.3,456.5"/>
<polyline class="rs" clip-path="url(#ce)" points="392.8,477.2 397.0,489.9 397.7,491.0 405.3,494.0 410.9,495.9 415.8,497.3 420.0,498.2 424.8,498.8 431.1,499.2 439.4,499.4 445.0,499.3 449.9,498.7 455.5,497.3 463.1,494.9 467.3,493.1 479.8,485.6 489.6,480.9 493.1,478.9 513.9,462.9 525.1,455.5 527.9,453.9 530.7,452.6 534.8,451.2 538.3,450.3 543.2,449.9 546.7,450.0 555.7,451.8 562.7,452.9 568.3,453.7 573.1,454.1 600.3,454.5 628.1,454.1 661.6,456.1 671.3,456.3"/>
<polyline class="bd" clip-path="url(#ce)" points="392.8,501.4 399.8,511.9 405.3,517.3 410.2,521.2 415.1,523.3 420.7,525.3 425.5,526.7 433.2,528.7 436.0,529.2 438.8,529.5 445.7,529.1 453.4,527.8 463.1,525.3 467.3,523.4 472.9,519.8 483.3,511.9 493.1,503.5 498.6,498.2 505.6,491.3 516.0,480.0 525.1,470.8 528.6,467.9 531.4,466.5 539.0,465.1 546.0,464.6 550.2,464.9 558.5,466.1 565.5,466.9 573.1,467.5 597.5,468.0 626.0,467.8 629.5,468.2 645.5,471.4 650.4,471.8 654.6,471.6 660.9,470.8 662.9,470.3 668.5,468.4 671.3,467.9"/>
<polyline class="bs" clip-path="url(#ce)" points="392.8,492.4 397.7,518.3 402.5,522.7 406.7,525.9 410.9,528.6 415.1,530.8 424.1,534.6 430.4,536.7 436.0,537.8 440.8,537.9 444.3,537.4 447.8,536.6 452.0,535.3 457.6,533.1 463.8,529.2 477.0,521.9 483.3,517.6 492.4,510.0 500.0,502.7 508.4,493.9 516.0,484.5 525.8,473.2 529.3,469.9 530.7,469.1 532.1,468.5 539.7,466.6 543.2,466.2 546.0,466.1 550.2,466.4 558.5,467.6 565.5,468.3 573.1,468.9 597.5,469.4 626.0,469.2 629.5,469.6 645.5,472.7 650.4,473.2 654.6,473.0 660.9,472.1 662.9,471.6 668.5,469.7 671.3,469.2"/>
<polyline class="rd" clip-path="url(#ce)" points="420.6,463.7 426.9,466.4 433.2,468.7 439.4,470.5 446.8,472.2 454.1,473.3 460.3,473.8 465.6,473.9 471.8,473.4 479.1,472.2 485.4,470.9 491.7,469.2 496.9,467.4 503.2,464.5 523.0,453.4 527.2,451.2 530.3,450.0 532.4,449.4 536.6,448.4 539.7,448.1 543.9,448.0 547.0,448.3 555.4,450.3 561.6,451.5 567.9,452.6 573.1,453.2 586.7,453.8 600.3,454.1 628.5,454.0 660.9,456.1 671.3,456.4"/>
<polyline class="rs" clip-path="url(#ce)" points="420.6,465.5 424.8,478.5 425.5,479.8 430.4,483.7 436.7,487.7 442.9,490.6 448.5,492.1 454.8,492.4 462.4,491.6 466.6,490.5 471.5,488.4 480.5,483.8 491.0,479.5 495.1,476.9 514.6,462.4 524.4,456.1 527.9,454.1 530.7,452.9 534.8,451.5 538.3,450.6 543.2,450.2 546.7,450.3 555.7,452.2 562.7,453.3 568.3,454.1 573.1,454.5 600.3,454.9 628.1,454.5 661.6,456.5 671.3,456.7"/>
<polyline class="bd" clip-path="url(#ce)" points="420.6,482.1 426.9,500.2 432.5,507.8 438.1,513.6 440.8,515.6 444.3,517.6 449.9,519.8 455.5,520.9 462.4,521.2 464.5,521.0 466.6,520.6 471.5,518.5 481.2,512.7 486.8,508.8 494.5,502.5 501.4,496.2 508.4,489.5 516.0,481.2 525.8,471.6 529.3,468.9 530.7,468.2 532.0,467.8 539.7,466.6 546.0,466.3 550.2,466.6 558.5,467.8 564.8,468.5 573.1,469.2 597.5,469.6 626.0,469.5 629.5,469.9 645.5,473.0 650.4,473.5 654.6,473.3 660.9,472.4 662.9,471.9 668.5,470.0 671.3,469.5"/>
<polyline class="bs" clip-path="url(#ce)" points="420.6,478.2 426.9,513.4 431.1,519.7 432.5,521.4 435.3,524.5 438.8,527.4 440.8,528.6 443.6,529.9 447.1,530.7 451.3,530.8 455.5,530.4 457.6,530.1 458.9,529.6 462.4,527.8 472.2,523.7 476.3,521.7 480.5,519.3 484.7,516.4 488.9,513.0 494.5,508.2 499.3,503.6 504.2,498.7 509.1,493.4 516.7,484.1 527.2,472.2 529.3,470.4 530.7,469.5 533.4,468.5 540.4,467.0 546.0,466.5 550.2,466.8 558.5,468.0 565.5,468.8 573.1,469.4 597.5,469.8 626.0,469.7 629.5,470.1 645.5,473.2 650.4,473.6 654.6,473.4 660.9,472.6 662.9,472.1 668.5,470.2 671.3,469.6"/>
<polyline class="rd" clip-path="url(#ce)" points="434.6,459.4 438.8,461.6 442.9,463.6 447.1,465.3 452.3,467.1 456.5,468.2 461.7,469.3 465.9,469.8 470.1,469.9 476.4,469.6 483.7,468.7 489.9,467.6 496.2,465.9 499.3,464.7 503.5,462.8 523.3,452.3 527.5,450.3 531.7,448.8 535.9,447.9 539.0,447.5 543.2,447.5 546.3,447.7 549.5,448.3 555.7,450.0 562.0,451.2 568.3,452.3 573.5,452.9 586.0,453.4 599.6,453.8 628.8,453.8 661.2,455.9 671.3,456.1"/>
<polyline class="rs" clip-path="url(#ce)" points="434.6,461.1 438.8,473.7 439.4,475.1 444.3,480.1 449.9,483.8 454.1,485.5 455.5,485.9 460.3,486.8 463.8,487.0 466.6,486.8 471.5,485.5 479.8,482.2 487.5,479.7 491.7,478.0 495.8,475.5 515.3,461.6 524.4,455.9 527.9,454.0 530.7,452.7 534.8,451.3 538.3,450.5 543.2,450.2 546.7,450.2 555.7,452.1 562.7,453.2 568.3,454.0 573.1,454.4 600.3,454.8 628.1,454.5 661.6,456.5 671.3,456.7"/>
<polyline class="bd" clip-path="url(#ce)" points="434.6,479.1 440.8,495.9 446.4,503.5 451.3,508.3 456.9,512.1 462.4,514.5 464.5,514.9 467.3,515.1 469.4,514.8 472.9,513.8 478.4,511.5 484.0,508.7 489.6,505.0 496.5,499.6 504.9,492.2 509.1,488.2 516.7,480.2 525.8,471.5 529.3,468.9 530.7,468.2 532.0,467.8 539.7,466.6 546.0,466.4 550.2,466.7 558.5,468.0 564.8,468.7 573.1,469.4 597.5,469.8 626.0,469.7 629.5,470.1 645.5,473.2 650.4,473.7 654.6,473.5 660.9,472.6 662.9,472.1 668.5,470.2 671.3,469.7"/>
<polyline class="bs" clip-path="url(#ce)" points="434.6,474.2 440.8,507.3 445.0,513.8 448.5,517.7 452.0,520.2 454.1,521.2 456.9,522.3 459.6,522.6 468.0,521.4 471.5,520.6 475.7,519.3 479.1,517.8 481.2,516.7 486.8,513.0 491.0,509.8 495.8,505.7 504.9,496.9 509.1,492.4 516.7,483.2 527.2,471.3 529.3,469.6 530.7,468.7 532.0,468.1 535.5,467.1 541.1,466.1 546.0,465.7 550.2,466.0 558.5,467.2 565.5,468.0 573.1,468.6 597.5,469.0 626.0,468.9 629.5,469.3 645.5,472.4 650.4,472.8 654.6,472.6 660.9,471.8 662.9,471.2 668.5,469.4 671.3,468.8"/>
<polyline class="rd" clip-path="url(#ce)" points="448.5,455.2 451.6,457.2 455.8,459.6 460.0,461.5 464.2,463.0 467.3,463.9 471.5,464.6 475.7,465.0 480.9,465.2 486.1,465.0 490.3,464.6 494.5,463.8 498.6,462.7 504.9,460.2 516.4,454.7 524.7,450.5 527.9,449.1 530.0,448.4 533.1,447.6 536.2,447.0 539.4,446.7 543.5,446.8 546.7,447.1 555.0,449.3 562.3,450.8 568.6,451.9 573.8,452.5 586.4,453.1 599.9,453.5 628.1,453.5 661.6,455.6 671.3,455.8"/>
<polyline class="rs" clip-path="url(#ce)" points="448.5,455.6 452.7,467.2 453.4,468.5 457.6,472.7 462.4,476.3 463.8,477.0 468.0,478.3 471.5,478.4 472.9,478.4 477.7,477.7 487.5,476.1 492.4,474.7 497.2,472.0 515.3,459.9 525.8,453.7 528.6,452.2 531.4,451.1 535.5,449.8 539.0,449.1 543.9,448.9 546.7,449.0 555.7,451.0 562.0,452.0 568.3,452.9 573.1,453.3 600.3,453.7 628.1,453.4 661.6,455.3 671.3,455.5"/>
<polyline class="bd" clip-path="url(#ce)" points="448.5,474.4 454.8,489.5 459.6,496.8 463.8,501.3 465.9,502.9 470.1,504.9 475.0,505.4 479.8,504.8 484.7,503.5 489.6,501.2 495.1,497.8 500.0,494.3 507.7,487.8 516.7,478.9 526.5,469.9 529.3,467.9 530.7,467.3 532.0,466.9 539.7,465.9 546.0,465.7 550.2,466.1 559.9,467.5 573.1,468.8 597.5,469.3 626.0,469.1 629.5,469.5 645.5,472.6 650.4,473.1 654.6,472.9 660.9,472.0 662.9,471.5 668.5,469.6 671.3,469.1"/>
<polyline class="bs" clip-path="url(#ce)" points="448.5,471.2 454.8,501.8 457.6,506.4 458.9,508.2 461.7,510.7 465.9,513.5 469.4,514.9 472.2,515.6 476.3,515.8 479.8,515.2 484.0,513.6 488.9,510.8 494.5,506.9 501.4,500.9 507.7,494.7 516.7,484.1 527.2,472.4 529.3,470.6 530.7,469.7 532.0,469.2 536.2,468.1 541.8,467.1 546.0,466.9 550.2,467.2 558.5,468.4 565.5,469.1 573.1,469.7 597.5,470.1 626.0,470.0 629.5,470.4 645.5,473.5 650.4,474.0 654.6,473.8 660.9,472.9 662.9,472.4 668.5,470.5 671.3,470.0"/>
<polyline class="rd" clip-path="url(#ce)" points="462.4,450.9 465.6,453.1 468.7,454.9 471.8,456.4 475.0,457.6 478.1,458.5 482.3,459.5 486.4,460.0 489.6,460.2 495.8,459.9 501.1,458.9 505.2,457.5 515.7,453.3 525.1,449.0 528.2,447.8 532.4,446.7 538.7,445.9 546.0,446.3 549.1,447.0 555.4,448.8 562.7,450.4 569.0,451.5 574.2,452.1 586.7,452.7 600.3,453.1 628.5,453.2 660.9,455.2 671.3,455.5"/>
<polyline class="rs" clip-path="url(#ce)" points="462.4,451.9 466.6,462.7 467.3,463.9 471.5,467.5 475.7,469.7 480.5,471.2 485.4,472.2 489.6,472.4 493.8,471.7 498.6,469.5 505.6,465.7 517.4,458.6 527.9,452.9 532.7,451.1 536.2,450.2 539.0,449.7 543.2,449.5 546.7,449.6 555.7,451.6 562.0,452.7 568.3,453.6 573.1,454.0 600.3,454.4 628.1,454.1 661.6,456.0 671.3,456.2"/>
<polyline class="bd" clip-path="url(#ce)" points="462.4,469.6 468.7,483.1 473.6,489.0 477.7,492.1 480.5,493.4 482.6,494.2 486.8,494.6 491.7,493.8 493.1,493.4 496.5,492.0 501.4,489.4 505.6,486.5 509.8,483.3 526.5,468.5 529.3,466.6 530.7,466.0 532.0,465.7 539.7,464.9 545.3,464.7 549.5,465.1 559.9,466.7 573.1,468.1 596.8,468.6 626.0,468.4 629.5,468.8 645.5,471.9 650.4,472.4 654.6,472.2 660.9,471.3 662.9,470.8 668.5,468.9 671.3,468.4"/>
<polyline class="bs" clip-path="url(#ce)" points="462.4,465.8 468.7,495.0 472.2,500.3 475.7,503.8 479.1,505.9 481.9,506.7 482.6,506.7 485.4,506.6 488.9,505.7 493.8,503.5 498.6,500.3 502.8,496.9 508.4,491.8 525.1,473.0 527.9,470.2 530.0,468.6 531.4,467.9 537.6,466.3 542.5,465.6 547.4,465.5 566.9,467.9 575.9,468.4 598.9,468.8 626.0,468.6 629.5,469.0 645.5,472.1 650.4,472.6 654.6,472.4 660.9,471.5 662.9,471.0 668.5,469.1 671.3,468.6"/>
<polyline class="rd" clip-path="url(#ce)" points="476.4,444.5 481.6,448.4 486.8,451.2 492.0,453.0 495.1,453.7 498.3,454.0 502.5,453.8 508.7,452.5 516.0,450.5 525.4,447.1 529.6,445.8 534.8,445.1 539.0,444.8 546.3,445.5 555.7,448.3 560.9,449.5 568.3,451.0 573.5,451.7 586.0,452.5 598.5,452.9 628.8,453.0 661.2,455.0 671.3,455.2"/>
<polyline class="rs" clip-path="url(#ce)" points="476.4,446.4 480.5,456.5 481.2,457.7 484.7,461.4 488.9,464.5 491.7,465.7 493.8,466.2 497.2,466.1 501.4,465.1 504.9,463.9 509.8,461.8 528.6,452.7 531.4,451.7 534.8,450.8 539.7,450.0 543.9,450.0 546.7,450.2 555.0,452.1 562.0,453.3 568.3,454.2 573.1,454.7 599.6,455.1 628.1,454.8 661.6,456.7 671.3,456.9"/>
<polyline class="bd" clip-path="url(#ce)" points="476.4,465.4 482.6,477.0 486.8,481.4 491.0,483.8 495.8,484.9 499.3,484.6 500.7,484.2 504.2,483.1 508.4,481.1 512.6,478.2 519.5,473.0 527.2,466.9 530.0,465.4 532.0,464.9 539.7,464.3 546.0,464.4 549.5,464.7 559.9,466.5 569.0,467.6 574.5,468.0 596.1,468.4 626.7,468.3 629.5,468.7 645.5,471.8 650.4,472.3 654.6,472.1 660.9,471.2 662.9,470.7 668.5,468.8 671.3,468.3"/>
<polyline class="bs" clip-path="url(#ce)" points="476.4,463.1 482.6,491.7 485.4,495.0 486.8,496.1 488.9,497.5 492.4,498.5 495.1,498.5 497.9,497.8 501.4,496.3 504.2,494.6 507.7,492.0 510.5,489.5 520.2,479.4 525.1,474.0 528.6,470.7 530.0,469.8 531.4,469.1 539.0,467.4 543.2,466.9 547.4,466.9 559.2,468.5 569.0,469.5 573.8,469.8 596.8,470.2 626.7,470.1 629.5,470.5 645.5,473.6 650.4,474.1 654.6,473.9 660.9,473.0 662.9,472.5 668.5,470.6 671.3,470.1"/>
<polyline class="rd" clip-path="url(#ce)" points="483.3,440.7 487.5,444.8 489.6,446.5 492.7,448.6 494.8,449.7 497.9,451.0 502.1,451.8 506.3,451.8 512.6,451.1 517.8,450.1 529.3,446.9 534.5,446.3 538.7,446.2 546.0,446.9 549.1,447.8 555.4,449.8 561.6,451.3 569.0,452.7 574.2,453.3 586.7,454.0 599.2,454.4 628.5,454.4 660.9,456.4 671.3,456.6"/>
<polyline class="rs" clip-path="url(#ce)" points="483.3,441.5 487.5,452.0 488.2,453.4 491.7,457.5 493.1,458.5 495.1,459.9 498.6,460.8 502.8,460.9 506.3,460.4 509.8,459.4 517.4,456.4 526.5,452.4 530.0,451.1 536.2,449.5 539.7,449.1 543.9,449.1 546.7,449.3 556.4,451.4 566.9,453.2 573.1,453.8 600.3,454.2 628.1,453.9 661.6,455.8 671.3,456.0"/>
<polyline class="bd" clip-path="url(#ce)" points="483.3,464.5 489.6,475.5 492.4,478.2 493.8,479.4 497.2,481.2 501.4,481.8 505.6,481.2 509.1,480.0 513.3,477.5 519.5,473.4 527.2,467.7 530.0,466.3 532.0,465.8 539.7,465.4 546.0,465.5 550.2,466.0 559.9,467.7 568.3,468.7 573.8,469.1 596.1,469.6 626.7,469.5 629.5,469.8 645.5,472.9 650.4,473.4 654.6,473.2 660.9,472.3 662.9,471.8 668.5,469.9 671.3,469.4"/>
<polyline class="bs" clip-path="url(#ce)" points="483.3,460.7 489.6,488.3 492.4,491.2 493.1,491.6 495.1,492.8 497.9,493.5 500.7,493.3 503.5,492.4 506.3,491.0 509.1,489.1 511.9,486.7 519.5,479.3 526.5,472.0 529.3,469.7 530.7,468.9 532.0,468.4 539.7,466.8 543.9,466.4 547.4,466.5 559.2,468.1 569.0,469.1 573.8,469.4 596.8,469.8 626.7,469.7 629.5,470.0 645.5,473.1 650.4,473.6 654.6,473.4 660.9,472.5 662.9,472.0 668.5,470.1 671.3,469.6"/>
<polyline class="rd" clip-path="url(#ce)" points="490.3,435.6 492.4,438.3 494.5,440.6 496.5,442.5 498.6,444.2 500.7,445.4 503.9,446.7 505.9,447.3 509.1,447.8 512.2,447.9 516.4,447.8 519.5,447.4 530.0,445.3 538.3,445.0 545.6,445.8 548.8,446.6 555.0,448.6 561.3,450.1 568.6,451.6 573.8,452.2 585.3,452.8 598.9,453.1 629.2,453.0 661.6,455.0 671.3,455.2"/>
<polyline class="rs" clip-path="url(#ce)" points="490.3,436.2 494.5,446.0 495.1,447.3 497.9,450.9 501.4,453.8 504.2,455.2 507.7,456.0 511.2,456.0 513.9,455.5 520.2,454.0 527.9,451.2 531.4,450.1 537.6,448.9 541.1,448.8 546.7,449.0 556.4,451.2 566.2,452.9 572.4,453.5 599.6,454.0 628.1,453.7 661.6,455.6 671.3,455.8"/>
<polyline class="bd" clip-path="url(#ce)" points="490.3,462.3 496.5,472.9 500.0,475.7 500.7,476.0 503.5,477.1 507.0,477.4 510.5,476.7 513.9,475.1 520.2,471.6 526.5,467.3 528.6,466.1 530.7,465.3 533.4,465.1 541.1,464.8 546.7,465.0 559.2,467.1 568.3,468.2 573.8,468.6 596.1,469.1 626.7,468.9 629.5,469.3 645.5,472.4 650.4,472.9 654.6,472.7 660.9,471.8 662.9,471.3 668.5,469.4 671.3,468.9"/>
<polyline class="bs" clip-path="url(#ce)" points="490.3,458.1 496.5,485.1 499.3,487.2 502.1,488.1 504.2,488.2 507.0,487.5 509.1,486.5 510.5,485.6 512.6,484.0 519.5,477.9 527.2,470.3 530.0,468.2 531.4,467.6 533.4,467.1 541.1,465.7 544.6,465.5 548.1,465.6 559.2,467.2 569.0,468.2 573.8,468.5 596.8,468.9 626.7,468.8 629.5,469.2 645.5,472.3 650.4,472.7 654.6,472.5 660.9,471.6 662.9,471.1 668.5,469.3 671.3,468.7"/>
<polyline class="rd" clip-path="url(#ce)" points="497.2,429.9 499.3,433.5 501.4,436.6 503.5,439.0 505.6,441.0 507.7,442.6 510.8,444.4 513.9,445.6 517.1,446.4 521.3,446.7 530.7,446.2 536.9,446.3 540.1,446.6 546.3,447.6 554.7,450.2 562.0,452.0 568.3,453.2 573.5,453.8 585.0,454.4 598.5,454.7 628.8,454.5 661.2,456.4 671.3,456.6"/>
<polyline class="rs" clip-path="url(#ce)" points="497.2,431.9 502.1,442.4 504.9,446.9 507.0,449.3 509.8,451.5 512.6,452.8 515.3,453.4 518.1,453.5 520.9,453.3 530.7,451.0 534.1,450.4 538.3,449.9 542.5,449.9 546.7,450.2 556.4,452.4 566.2,454.0 572.4,454.7 599.6,455.1 628.1,454.8 661.6,456.8 671.3,457.0"/>
<polyline class="bd" clip-path="url(#ce)" points="497.2,460.4 503.5,470.6 507.0,472.7 509.8,473.3 513.3,472.9 519.5,470.7 527.9,465.8 530.0,465.0 532.0,464.7 540.4,464.6 546.7,464.8 559.2,466.9 568.3,468.0 573.8,468.4 596.8,468.8 626.7,468.7 629.5,469.1 644.8,472.1 649.7,472.7 654.6,472.5 660.9,471.6 662.9,471.1 668.5,469.2 671.3,468.7"/>
<polyline class="bs" clip-path="url(#ce)" points="497.2,456.6 503.5,483.0 505.6,483.9 507.7,484.2 508.4,484.2 510.5,483.6 512.6,482.5 514.6,481.1 519.5,477.4 526.5,470.8 528.6,469.1 530.0,468.3 531.4,467.7 534.1,467.0 541.8,465.8 544.6,465.7 548.1,465.8 559.2,467.4 569.0,468.4 573.8,468.7 596.8,469.1 626.7,468.9 629.5,469.3 645.5,472.4 650.4,472.9 654.6,472.7 660.9,471.8 662.9,471.3 668.5,469.4 671.3,468.9"/>
<polyline class="rd" clip-path="url(#ce)" points="504.2,422.8 506.3,427.6 508.4,431.5 510.5,434.7 512.6,437.3 515.7,440.3 517.8,441.7 519.9,442.7 523.0,443.6 526.1,444.1 538.7,445.4 544.9,446.4 548.1,447.2 556.4,449.8 565.8,451.8 572.1,452.7 582.5,453.1 597.1,453.4 628.5,453.2 661.9,455.1 671.3,455.3"/>
<polyline class="rs" clip-path="url(#ce)" points="504.2,423.9 511.2,439.3 513.3,442.8 516.0,445.9 518.1,447.6 520.2,448.6 522.3,449.1 525.1,449.4 538.3,448.5 545.3,448.8 548.1,449.3 555.7,451.2 560.6,452.0 567.6,453.1 573.1,453.6 600.3,454.0 628.1,453.7 661.6,455.6 671.3,455.8"/>
<polyline class="bd" clip-path="url(#ce)" points="504.2,458.5 510.5,468.4 513.3,469.5 516.0,469.8 518.8,469.7 520.9,469.1 528.6,465.8 531.4,465.2 546.0,465.7 549.5,466.1 559.2,467.8 567.6,468.9 573.1,469.3 596.1,469.8 626.7,469.6 629.5,470.0 644.8,473.0 649.7,473.6 654.6,473.4 660.9,472.5 662.9,472.0 668.5,470.1 671.3,469.6"/>
<polyline class="bs" clip-path="url(#ce)" points="504.2,454.8 510.5,480.5 512.6,480.5 514.6,479.9 518.8,477.8 520.9,476.3 527.9,470.3 530.7,468.7 532.0,468.3 536.2,467.5 542.5,466.7 545.3,466.6 548.8,466.8 559.2,468.3 573.1,469.6 596.8,470.0 626.7,469.9 629.5,470.3 645.5,473.4 650.4,473.8 654.6,473.6 660.9,472.7 662.9,472.2 668.5,470.4 671.3,469.8"/>
<polyline class="rd" clip-path="url(#ce)" points="511.2,412.8 513.3,420.6 515.3,426.8 517.4,431.6 518.5,433.6 520.6,436.9 522.7,439.3 525.8,441.8 528.9,443.5 534.1,445.5 546.7,448.3 556.1,451.3 565.5,453.1 571.7,454.0 582.2,454.4 597.8,454.6 628.1,454.3 661.6,456.2 671.3,456.4"/>
<polyline class="rs" clip-path="url(#ce)" points="511.2,414.6 515.3,423.9 517.4,430.9 519.5,436.6 521.6,440.5 523.7,443.2 525.8,445.0 527.2,445.9 529.3,446.8 531.4,447.4 534.8,448.0 546.0,449.0 556.4,451.5 566.2,453.1 572.4,453.7 599.6,454.2 628.1,453.8 661.6,455.8 671.3,456.0"/>
<polyline class="bd" clip-path="url(#ce)" points="511.2,455.0 517.4,464.6 520.2,465.4 522.3,465.3 528.6,463.7 531.4,463.5 546.7,464.5 559.2,466.6 567.6,467.6 573.1,468.0 596.8,468.4 626.0,468.3 629.5,468.7 645.5,471.8 650.4,472.3 654.6,472.1 660.9,471.2 662.9,470.7 668.5,468.8 671.3,468.3"/>
<polyline class="bs" clip-path="url(#ce)" points="511.2,452.8 517.4,477.8 519.5,476.9 520.9,476.1 527.2,471.0 529.3,469.6 530.7,468.9 532.0,468.5 537.6,467.5 543.2,466.9 548.8,467.0 559.2,468.5 573.1,469.8 596.8,470.2 626.7,470.1 629.5,470.4 645.5,473.6 650.4,474.0 654.6,473.8 660.9,472.9 662.9,472.4 668.5,470.6 671.3,470.0"/>
<polyline class="rd" clip-path="url(#ce)" points="518.1,405.7 520.2,417.1 522.3,425.5 524.4,431.6 526.5,435.9 528.6,439.1 531.7,442.4 534.8,444.5 539.0,446.1 547.4,448.2 555.7,450.7 565.1,452.4 571.4,453.2 581.8,453.6 598.5,453.8 627.8,453.4 661.2,455.3 671.3,455.6"/>
<polyline class="rs" clip-path="url(#ce)" points="518.1,408.2 522.3,418.0 524.4,427.5 525.8,432.8 527.2,436.8 528.6,439.9 530.0,442.3 531.4,444.1 532.7,445.5 534.8,446.9 537.6,448.0 541.8,449.2 547.4,450.2 555.7,452.4 565.5,453.9 571.7,454.6 598.9,455.1 628.1,454.8 661.6,456.7 671.3,456.9"/>
<polyline class="bd" clip-path="url(#ce)" points="518.1,453.1 524.4,463.1 530.0,463.6 536.9,465.0 547.4,466.0 558.5,467.9 566.9,468.9 573.8,469.4 589.8,469.8 626.0,469.7 629.5,470.1 645.5,473.2 650.4,473.7 654.6,473.5 660.9,472.6 662.9,472.1 668.5,470.2 671.3,469.7"/>
<polyline class="bs" clip-path="url(#ce)" points="518.1,448.6 524.4,474.0 528.6,470.1 531.4,468.4 538.3,466.8 541.8,466.2 544.6,466.1 549.5,466.3 559.2,467.6 573.1,468.9 596.8,469.3 626.7,469.2 629.5,469.6 645.5,472.7 650.4,473.2 654.6,473.0 660.9,472.1 662.9,471.6 668.5,469.7 671.3,469.2"/>
<polyline class="rd" clip-path="url(#ce)" points="525.1,401.4 526.1,410.5 528.2,423.9 529.3,428.7 531.4,435.8 533.4,440.5 535.5,443.5 536.6,444.5 538.7,446.1 541.8,447.6 555.4,451.4 565.8,453.2 572.1,453.8 599.2,454.3 628.5,454.0 661.9,455.9 671.3,456.1"/>
<polyline class="rs" clip-path="url(#ce)" points="525.1,402.6 529.3,412.7 532.0,429.7 533.4,435.4 534.8,439.5 536.9,443.3 538.3,444.9 540.4,446.5 543.2,447.8 555.0,451.0 566.2,452.7 572.4,453.4 599.6,453.8 628.1,453.5 661.6,455.4 671.3,455.6"/>
<polyline class="bd" clip-path="url(#ce)" points="525.1,447.6 528.6,453.7 531.4,459.6 534.8,461.9 538.3,463.2 540.4,463.7 558.5,466.9 568.3,468.0 574.5,468.4 597.5,468.8 626.7,468.7 629.5,469.1 645.5,472.2 650.4,472.6 654.6,472.4 660.9,471.6 662.9,471.0 668.5,469.2 671.3,468.6"/>
<polyline class="bs" clip-path="url(#ce)" points="525.1,443.6 528.6,458.3 531.4,471.1 534.1,469.1 537.6,467.4 541.8,466.2 546.0,465.8 550.2,466.0 559.2,467.2 569.0,468.2 573.8,468.5 596.8,468.9 626.7,468.7 629.5,469.1 645.5,472.2 650.4,472.7 654.6,472.5 660.9,471.6 662.9,471.1 668.5,469.2 671.3,468.7"/>
<polyline class="g" clip-path="url(#ce)" points="534.1,422.8 536.7,428.0 538.5,430.8 542.0,435.2 544.6,437.7 548.1,439.8 551.5,441.4 554.2,442.1 558.5,443.0 562.9,443.5 571.6,444.0 583.7,444.3 594.2,444.2 603.8,444.0 610.7,443.7 614.2,443.4 622.0,442.3 625.5,442.1 629.0,442.4 642.1,445.2 645.5,445.5 649.9,445.3 658.6,444.5 669.0,443.2"/>
<text x="182.5" y="212.5" font-size="10.5" text-anchor="middle" stroke="#fff" stroke-width="2.2" paint-order="stroke">2</text>
<text x="175.3" y="216.8" font-size="10.5" text-anchor="middle" stroke="#fff" stroke-width="2.2" paint-order="stroke">4</text>
<text x="168" y="220.8" font-size="10.5" text-anchor="middle" stroke="#fff" stroke-width="2.2" paint-order="stroke">6</text>
<text x="160.5" y="225.2" font-size="10.5" text-anchor="middle" stroke="#fff" stroke-width="2.2" paint-order="stroke">8</text>
<text x="152.5" y="230.7" font-size="10.5" text-anchor="middle" stroke="#fff" stroke-width="2.2" paint-order="stroke">10</text>
<text x="144.3" y="235" font-size="10.5" text-anchor="middle" stroke="#fff" stroke-width="2.2" paint-order="stroke">12</text>
<text x="134.2" y="238.3" font-size="10.5" text-anchor="middle" stroke="#fff" stroke-width="2.2" paint-order="stroke">14</text>
<text x="124.5" y="243.8" font-size="10.5" text-anchor="middle" stroke="#fff" stroke-width="2.2" paint-order="stroke">16</text>
<text x="112.8" y="247.8" font-size="10.5" text-anchor="middle" stroke="#fff" stroke-width="2.2" paint-order="stroke">20</text>
<text x="98.1" y="248.4" font-size="10.5" text-anchor="middle" stroke="#fff" stroke-width="2.2" paint-order="stroke">24</text>
<text x="84.5" y="251.6" font-size="10.5" text-anchor="middle" stroke="#fff" stroke-width="2.2" paint-order="stroke">28</text>
<text x="70.5" y="254.2" font-size="10.5" text-anchor="middle" stroke="#fff" stroke-width="2.2" paint-order="stroke">32</text>
<text x="57" y="259.5" font-size="10.5" text-anchor="middle" stroke="#fff" stroke-width="2.2" paint-order="stroke">40</text>
<line x1="158.6" y1="210.2" x2="62" y2="244.9" stroke="#111" stroke-width="1"/>
<path d="M57.3,246.6 L65.5,239.6 L67.5,244.8 Z" fill="#111"/>
<text x="94.8" y="224" font-size="12" font-style="italic">N<tspan font-size="7" dy="2.5" font-style="normal">p</tspan></text>
<rect x="392.6" y="9.4" width="278.70" height="155.80" fill="none" stroke="#333" stroke-width="1.1"/>
<text x="392.60" y="177.70" text-anchor="middle" font-size="12">-40</text>
<text x="462.27" y="177.70" text-anchor="middle" font-size="12">-20</text>
<text x="531.95" y="177.70" text-anchor="middle" font-size="12">0</text>
<text x="601.62" y="177.70" text-anchor="middle" font-size="12">20</text>
<text x="671.30" y="177.70" text-anchor="middle" font-size="12">40</text>
<text x="531.95" y="193.90" text-anchor="middle" font-size="15" font-style="italic">d / h</text>
<rect x="49.2" y="204.6" width="278.50" height="155.60" fill="none" stroke="#333" stroke-width="1.1"/>
<text x="49.20" y="372.70" text-anchor="middle" font-size="12">-40</text>
<text x="118.83" y="372.70" text-anchor="middle" font-size="12">-20</text>
<text x="188.45" y="372.70" text-anchor="middle" font-size="12">0</text>
<text x="258.07" y="372.70" text-anchor="middle" font-size="12">20</text>
<text x="327.70" y="372.70" text-anchor="middle" font-size="12">40</text>
<text x="188.45" y="388.90" text-anchor="middle" font-size="15" font-style="italic">d / h</text>
<rect x="392.5" y="204.5" width="278.70" height="156.10" fill="none" stroke="#333" stroke-width="1.1"/>
<text x="392.50" y="373.10" text-anchor="middle" font-size="12">-40</text>
<text x="462.18" y="373.10" text-anchor="middle" font-size="12">-20</text>
<text x="531.85" y="373.10" text-anchor="middle" font-size="12">0</text>
<text x="601.53" y="373.10" text-anchor="middle" font-size="12">20</text>
<text x="671.20" y="373.10" text-anchor="middle" font-size="12">40</text>
<text x="531.85" y="389.30" text-anchor="middle" font-size="15" font-style="italic">d / h</text>
<rect x="49.2" y="399.4" width="278.50" height="156.60" fill="none" stroke="#333" stroke-width="1.1"/>
<text x="49.20" y="568.50" text-anchor="middle" font-size="12">-40</text>
<text x="118.83" y="568.50" text-anchor="middle" font-size="12">-20</text>
<text x="188.45" y="568.50" text-anchor="middle" font-size="12">0</text>
<text x="258.07" y="568.50" text-anchor="middle" font-size="12">20</text>
<text x="327.70" y="568.50" text-anchor="middle" font-size="12">40</text>
<text x="188.45" y="584.70" text-anchor="middle" font-size="15" font-style="italic">d / h</text>
<rect x="392.8" y="399.5" width="278.50" height="156.50" fill="none" stroke="#333" stroke-width="1.1"/>
<text x="392.80" y="568.50" text-anchor="middle" font-size="12">-40</text>
<text x="462.43" y="568.50" text-anchor="middle" font-size="12">-20</text>
<text x="532.05" y="568.50" text-anchor="middle" font-size="12">0</text>
<text x="601.67" y="568.50" text-anchor="middle" font-size="12">20</text>
<text x="671.30" y="568.50" text-anchor="middle" font-size="12">40</text>
<text x="532.05" y="584.70" text-anchor="middle" font-size="15" font-style="italic">d / h</text>
<text x="390.60" y="13.90" text-anchor="end" font-size="12">1</text>
<text x="390.60" y="52.85" text-anchor="end" font-size="12">0.1</text>
<text x="390.60" y="91.80" text-anchor="end" font-size="12">10<tspan font-size="7.5" dy="-5">-2</tspan></text>
<text x="390.60" y="130.75" text-anchor="end" font-size="12">10<tspan font-size="7.5" dy="-5">-3</tspan></text>
<text x="390.60" y="169.70" text-anchor="end" font-size="12">10<tspan font-size="7.5" dy="-5">-4</tspan></text>
<text x="47.20" y="209.10" text-anchor="end" font-size="12">10</text>
<text x="47.20" y="256.24" text-anchor="end" font-size="12">1</text>
<text x="47.20" y="303.37" text-anchor="end" font-size="12">0.1</text>
<text x="47.20" y="350.51" text-anchor="end" font-size="12">10<tspan font-size="7.5" dy="-5">-2</tspan></text>
<text x="47.20" y="364.70" text-anchor="end" font-size="12">0.005</text>
<text x="390.50" y="209.00" text-anchor="end" font-size="12">400</text>
<text x="390.50" y="227.80" text-anchor="end" font-size="12">100</text>
<text x="390.50" y="259.02" text-anchor="end" font-size="12">10</text>
<text x="390.50" y="290.24" text-anchor="end" font-size="12">1</text>
<text x="390.50" y="321.46" text-anchor="end" font-size="12">0.1</text>
<text x="390.50" y="365.10" text-anchor="end" font-size="12">0.004</text>
<text x="390.50" y="352.68" text-anchor="end" font-size="12">10<tspan font-size="7.5" dy="-5">-2</tspan></text>
<text x="47.20" y="403.90" text-anchor="end" font-size="12">200</text>
<text x="47.20" y="418.18" text-anchor="end" font-size="12">100</text>
<text x="47.20" y="465.62" text-anchor="end" font-size="12">10</text>
<text x="47.20" y="513.06" text-anchor="end" font-size="12">1</text>
<text x="47.20" y="560.50" text-anchor="end" font-size="12">0.1</text>
<text x="390.80" y="404.00" text-anchor="end" font-size="12">200</text>
<text x="390.80" y="414.95" text-anchor="end" font-size="12">100</text>
<text x="390.80" y="451.34" text-anchor="end" font-size="12">10</text>
<text x="390.80" y="487.73" text-anchor="end" font-size="12">1</text>
<text x="390.80" y="524.11" text-anchor="end" font-size="12">0.1</text>
<text x="390.80" y="560.50" text-anchor="end" font-size="12">10<tspan font-size="7.5" dy="-5">-2</tspan></text>
<text transform="translate(366,91.00) rotate(-90)" text-anchor="middle" font-size="15.3" xml:space="preserve"><tspan font-style="italic">R</tspan> (div (ω))  [%]</text>
<text transform="translate(19.5,285.40) rotate(-90)" text-anchor="middle" font-size="15.3" xml:space="preserve"><tspan font-style="italic">R</tspan> (div (<tspan font-weight="bold">u</tspan>))  [%]</text>
<text transform="translate(363,288.50) rotate(-90)" text-anchor="middle" font-size="15.3" xml:space="preserve"><tspan font-style="italic">R</tspan> (div (∂<tspan font-weight="bold">u</tspan>/∂<tspan font-style="italic">t</tspan>))  [%]</text>
<text transform="translate(18.8,480.70) rotate(-90)" text-anchor="middle" font-size="15.3" xml:space="preserve"><tspan font-style="italic">R</tspan> (irr (∇<tspan font-style="italic">p</tspan>))  [%]</text>
<text transform="translate(364,480.50) rotate(-90)" text-anchor="middle" font-size="15.3" xml:space="preserve"><tspan font-style="italic">R</tspan> (sol (∇<tspan font-style="italic">p</tspan>))  [%]</text>
<text x="349.3" y="14.8" font-size="15">(a)</text>
<text x="6" y="209.5" font-size="15">(b)</text>
<text x="349.3" y="209.5" font-size="15">(c)</text>
<text x="6" y="404.5" font-size="15">(d)</text>
<text x="349.3" y="404.5" font-size="15">(e)</text>
<rect x="214" y="32.9" width="76.2" height="76.3" fill="#d2d2fa"/>
<line x1="214" y1="32.9" x2="214" y2="109.2" stroke="#2020ff" stroke-width="1.1" stroke-dasharray="1 1"/>
<line x1="214" y1="109.2" x2="290.2" y2="109.2" stroke="#2020ff" stroke-width="1.1" stroke-dasharray="1 1"/>
<line x1="156.6" y1="41.00" x2="289" y2="41.00" stroke="#555" stroke-width="0.9" stroke-dasharray="1 1.3"/>
<line x1="156.6" y1="60.45" x2="289" y2="60.45" stroke="#555" stroke-width="0.9" stroke-dasharray="1 1.3"/>
<line x1="156.6" y1="79.90" x2="289" y2="79.90" stroke="#555" stroke-width="0.9" stroke-dasharray="1 1.3"/>
<line x1="156.6" y1="99.35" x2="289" y2="99.35" stroke="#555" stroke-width="0.9" stroke-dasharray="1 1.3"/>
<line x1="156.6" y1="118.80" x2="289" y2="118.80" stroke="#555" stroke-width="0.9" stroke-dasharray="1 1.3"/>
<line x1="156.6" y1="138.25" x2="289" y2="138.25" stroke="#555" stroke-width="0.9" stroke-dasharray="1 1.3"/>
<line x1="156.6" y1="157.70" x2="289" y2="157.70" stroke="#555" stroke-width="0.9" stroke-dasharray="1 1.3"/>
<line x1="165.20" y1="29.5" x2="165.20" y2="166" stroke="#555" stroke-width="0.9" stroke-dasharray="1 1.3"/>
<line x1="184.65" y1="29.5" x2="184.65" y2="166" stroke="#555" stroke-width="0.9" stroke-dasharray="1 1.3"/>
<line x1="204.10" y1="29.5" x2="204.10" y2="166" stroke="#555" stroke-width="0.9" stroke-dasharray="1 1.3"/>
<line x1="223.55" y1="29.5" x2="223.55" y2="166" stroke="#555" stroke-width="0.9" stroke-dasharray="1 1.3"/>
<line x1="243.00" y1="29.5" x2="243.00" y2="166" stroke="#555" stroke-width="0.9" stroke-dasharray="1 1.3"/>
<line x1="262.45" y1="29.5" x2="262.45" y2="166" stroke="#555" stroke-width="0.9" stroke-dasharray="1 1.3"/>
<line x1="281.90" y1="29.5" x2="281.90" y2="166" stroke="#555" stroke-width="0.9" stroke-dasharray="1 1.3"/>
<circle cx="165.20" cy="41.00" r="3.1" fill="#8b0000"/>
<circle cx="165.20" cy="60.45" r="3.1" fill="#8b0000"/>
<circle cx="165.20" cy="79.90" r="3.1" fill="#8b0000"/>
<circle cx="165.20" cy="99.35" r="3.1" fill="#8b0000"/>
<circle cx="165.20" cy="118.80" r="3.1" fill="#8b0000"/>
<circle cx="165.20" cy="138.25" r="3.1" fill="#8b0000"/>
<circle cx="165.20" cy="157.70" r="3.1" fill="#8b0000"/>
<circle cx="184.65" cy="41.00" r="3.1" fill="#ff0000"/>
<circle cx="184.65" cy="60.45" r="3.1" fill="#ff0000"/>
<circle cx="184.65" cy="79.90" r="3.1" fill="#ff0000"/>
<circle cx="184.65" cy="99.35" r="3.1" fill="#ff0000"/>
<circle cx="184.65" cy="118.80" r="3.1" fill="#ff0000"/>
<circle cx="184.65" cy="138.25" r="3.1" fill="#ff0000"/>
<circle cx="184.65" cy="157.70" r="3.1" fill="#8b0000"/>
<circle cx="204.10" cy="41.00" r="3.1" fill="#ff8c00"/>
<circle cx="204.10" cy="60.45" r="3.1" fill="#ff8c00"/>
<circle cx="204.10" cy="79.90" r="3.1" fill="#ff8c00"/>
<circle cx="204.10" cy="99.35" r="3.1" fill="#ff8c00"/>
<circle cx="204.10" cy="118.80" r="3.1" fill="#ff8c00"/>
<circle cx="204.10" cy="138.25" r="3.1" fill="#ff0000"/>
<circle cx="204.10" cy="157.70" r="3.1" fill="#8b0000"/>
<circle cx="223.55" cy="41.00" r="3.1" fill="#0000e8"/>
<circle cx="223.55" cy="60.45" r="3.1" fill="#0000e8"/>
<circle cx="223.55" cy="79.90" r="3.1" fill="#0000e8"/>
<circle cx="223.55" cy="99.35" r="3.1" fill="#0000e8"/>
<circle cx="223.55" cy="118.80" r="3.1" fill="#ff8c00"/>
<circle cx="223.55" cy="138.25" r="3.1" fill="#ff0000"/>
<circle cx="223.55" cy="157.70" r="3.1" fill="#8b0000"/>
<circle cx="243.00" cy="41.00" r="3.1" fill="#00a8f0"/>
<circle cx="243.00" cy="60.45" r="3.1" fill="#00a8f0"/>
<circle cx="243.00" cy="79.90" r="3.1" fill="#00a8f0"/>
<circle cx="243.00" cy="99.35" r="3.1" fill="#0000e8"/>
<circle cx="243.00" cy="118.80" r="3.1" fill="#ff8c00"/>
<circle cx="243.00" cy="138.25" r="3.1" fill="#ff0000"/>
<circle cx="243.00" cy="157.70" r="3.1" fill="#8b0000"/>
<circle cx="262.45" cy="41.00" r="3.1" fill="#10a8a0"/>
<circle cx="262.45" cy="60.45" r="3.1" fill="#10a8a0"/>
<circle cx="262.45" cy="79.90" r="3.1" fill="#00a8f0"/>
<circle cx="262.45" cy="99.35" r="3.1" fill="#0000e8"/>
<circle cx="262.45" cy="118.80" r="3.1" fill="#ff8c00"/>
<circle cx="262.45" cy="138.25" r="3.1" fill="#ff0000"/>
<circle cx="262.45" cy="157.70" r="3.1" fill="#8b0000"/>
<circle cx="281.90" cy="41.00" r="3.1" fill="#008000"/>
<circle cx="281.90" cy="60.45" r="3.1" fill="#10a8a0"/>
<circle cx="281.90" cy="79.90" r="3.1" fill="#00a8f0"/>
<circle cx="281.90" cy="99.35" r="3.1" fill="#0000e8"/>
<circle cx="281.90" cy="118.80" r="3.1" fill="#ff8c00"/>
<circle cx="281.90" cy="138.25" r="3.1" fill="#ff0000"/>
<circle cx="281.90" cy="157.70" r="3.1" fill="#8b0000"/>
<line x1="165.20" y1="34" x2="165.20" y2="158.30" stroke="#111" stroke-width="1.4"/>
<line x1="184.65" y1="34" x2="184.65" y2="138.85" stroke="#111" stroke-width="1.4"/>
<line x1="204.10" y1="34" x2="204.10" y2="119.40" stroke="#111" stroke-width="1.4"/>
<line x1="223.55" y1="34" x2="223.55" y2="99.95" stroke="#111" stroke-width="1.4"/>
<line x1="243.00" y1="34" x2="243.00" y2="80.50" stroke="#555" stroke-width="1.4"/>
<line x1="262.45" y1="34" x2="262.45" y2="61.05" stroke="#111" stroke-width="1.4"/>
<line x1="164.60" y1="157.70" x2="299.5" y2="157.70" stroke="#555" stroke-width="1.4"/>
<line x1="184.05" y1="138.25" x2="299.5" y2="138.25" stroke="#111" stroke-width="1.4"/>
<line x1="203.50" y1="118.80" x2="299.5" y2="118.80" stroke="#555" stroke-width="1.4"/>
<line x1="222.95" y1="99.35" x2="299.5" y2="99.35" stroke="#111" stroke-width="1.4"/>
<line x1="242.40" y1="79.90" x2="299.5" y2="79.90" stroke="#555" stroke-width="1.4"/>
<line x1="261.85" y1="60.45" x2="299.5" y2="60.45" stroke="#111" stroke-width="1.4"/>
<line x1="295.9" y1="50" x2="295.9" y2="163.8" stroke="#444" stroke-width="1.6"/>
<path d="M295.9,43.5 L298.6,52 L295.9,50.5 L293.2,52 Z" fill="#111"/>
<text x="300" y="45.5" font-size="15" font-style="italic">d</text>
<text x="303.5" y="64.75" font-size="12">2.5<tspan font-style="italic">h</tspan></text>
<text x="303.5" y="84.20" font-size="12">1.5<tspan font-style="italic">h</tspan></text>
<text x="303.5" y="103.65" font-size="12">0.5<tspan font-style="italic">h</tspan></text>
<text x="303.5" y="123.10" font-size="12">−0.5<tspan font-style="italic">h</tspan></text>
<text x="303.5" y="142.55" font-size="12">−1.5<tspan font-style="italic">h</tspan></text>
<text x="303.5" y="162.00" font-size="12">−2.5<tspan font-style="italic">h</tspan></text>
<rect x="6.8" y="56.2" width="142" height="86.8" fill="#fff" stroke="#777" stroke-width="1"/>
<line x1="14.2" y1="68.0" x2="24.5" y2="68.0" stroke="#505050" stroke-width="2.3"/>
<text x="29.8" y="72.6" font-size="13.5">Gaussian windowing</text>
<line x1="14.2" y1="84.0" x2="24.5" y2="84.0" stroke="#e02020" stroke-width="0.9" stroke-dasharray="1 0.9"/>
<text x="27.5" y="88.6" font-size="13.5"><tspan font-style="italic">f</tspan><tspan font-size="9" dy="3.8">AC</tspan><tspan dy="-3.8"> = 0, </tspan><tspan font-style="italic">K</tspan> = 0</text>
<line x1="14.2" y1="99.5" x2="24.5" y2="99.5" stroke="#d01010" stroke-width="1.2"/>
<text x="27.5" y="104.1" font-size="13.5"><tspan font-style="italic">f</tspan><tspan font-size="9" dy="3.8">AC</tspan><tspan dy="-3.8"> = 0, </tspan><tspan font-style="italic">K</tspan> = 3</text>
<line x1="14.2" y1="115.2" x2="24.5" y2="115.2" stroke="#3030ff" stroke-width="0.9" stroke-dasharray="1 0.9"/>
<text x="27.5" y="119.8" font-size="13.5"><tspan font-style="italic">f</tspan><tspan font-size="9" dy="3.8">AC</tspan><tspan dy="-3.8"> = 1/8, </tspan><tspan font-style="italic">K</tspan> = 0</text>
<line x1="14.2" y1="130.8" x2="24.5" y2="130.8" stroke="#2020ff" stroke-width="1.2"/>
<text x="27.5" y="135.4" font-size="13.5"><tspan font-style="italic">f</tspan><tspan font-size="9" dy="3.8">AC</tspan><tspan dy="-3.8"> = 1/8, </tspan><tspan font-style="italic">K</tspan> = 3</text></svg></body></html>
